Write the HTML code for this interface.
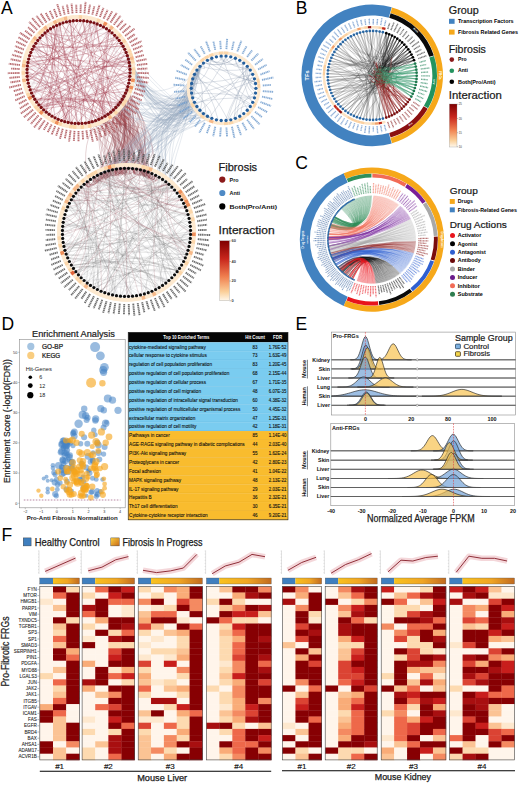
<!DOCTYPE html>
<html><head><meta charset="utf-8"><style>
html,body{margin:0;padding:0;background:#fff;overflow:hidden}
svg{display:block}
text{font-family:"Liberation Sans",sans-serif}
</style></head><body>
<svg width="520" height="785" viewBox="0 0 520 785" font-family="Liberation Sans, sans-serif">
<rect width="520" height="785" fill="#fff"/>
<path d="M119.27 103.47Q124.38 128.16 109.69 159.87T94.99 176.58M109.84 112.86Q145.79 134.82 128.17 160.07T110.56 170.31M127.58 87.59Q134.32 132.67 125.04 158.44T115.76 169.21M115.1 108.24Q136.1 135.49 141.14 160.94T146.18 171.4M105.09 116.11Q113.77 126.79 134.35 158.37T154.94 174.95M84.47 123.15Q136.34 125.22 112.25 160.63T88.16 181.03M125.14 93.84Q117.42 146.46 105.09 169.68T92.77 177.9M124.12 95.9Q118.07 124.34 122.69 153.82T127.3 168.3M109.25 113.31Q138.11 133.24 113.65 164.26T89.18 180.28M102.18 117.73Q119.67 141.99 117.48 163.14T115.29 169.29M113.8 109.49Q134.82 117.59 120.22 152.2T105.61 171.8M122.13 99.36Q95.77 128.11 111.25 155.7T126.73 168.3M99.4 119.07Q135.96 130.44 120.35 158.77T104.74 172.11M115.38 107.95Q138.71 139.51 139.81 162.23T140.92 169.94M127.55 87.7Q129.91 119.31 131.99 151.53T134.06 168.75M90.71 122.03Q120.76 119.62 113.7 153.03T106.65 171.45M107.6 114.49Q148.62 112.71 133.06 148.32T117.51 168.93M112.84 110.38Q151.09 136.21 142.42 159.96T133.75 168.71M104.02 116.73Q133.72 124.37 145.9 158T158.08 176.62M116.77 106.46Q145.63 132.42 139.86 158.08T134.1 168.75M124.48 95.19Q153.5 136.57 123.11 164.75T92.72 177.92M125.53 92.99Q102.91 142.54 102.35 165.39T101.8 173.25M126.69 90.15Q96.42 125.3 106.69 154.66T116.96 169.01M94.12 121.08Q125.06 140.18 136.99 163.76T148.93 172.35M117.89 105.18Q136.83 129.65 143.62 158.79T150.4 172.92M124.25 95.65Q129.93 141.31 115.3 165.02T100.67 173.73M107.12 114.82Q144.67 131.24 123.78 159.52T102.9 172.8M117.46 105.68Q151.45 127 138.77 155.15T126.1 168.3M110.85 112.07Q125.62 128.32 127.86 155.86T130.11 168.4M89.24 122.37Q148.17 119.59 145.41 152.48T142.66 170.37M116.49 106.77Q146.06 138.73 129.58 161.72T113.09 169.72M127.09 89.07Q130.44 136.18 109.96 165.63T89.47 180.08M118.63 104.27Q137.16 131.01 112.85 163.38T88.53 180.75M126.22 91.38Q160.17 133.92 135.28 159.64T110.4 170.36M105.8 115.67Q127.79 139.31 111.31 165.49T94.84 176.67M117.67 105.44Q157.4 107.92 125.25 150.3T93.1 177.69M113.21 110.04Q134.37 133.15 127.01 158.41T119.65 168.67M118.53 104.4Q132.51 126.3 117.78 157.02T103.04 172.75M127.85 86.73Q119.13 130.1 137.15 160.09T155.17 175.07M109.48 113.14Q84.35 126.62 85.65 161.79T86.94 181.96M91.45 121.84Q126.93 139.58 131.58 161.81T136.23 169.04M124.51 95.13Q100.78 127.82 121.41 156.52T142.05 170.21M119.04 103.76Q145.47 106.85 122.75 147.94T100.03 174.02M92.1 121.67Q138.93 117.57 141.78 151.74T144.63 170.92M122.7 98.43Q125.61 132.72 123.95 158.08T122.29 168.44M127.76 87.02Q126.58 144.8 115.35 166.07T104.11 172.34M85.71 122.99Q171.93 120.68 144.37 152.36T116.81 169.04M85.8 122.98Q130.12 137.35 120.3 161.34T110.48 170.33M123.64 96.79Q103.56 117.41 101.14 153.53T98.71 174.64M92.84 121.46Q111.57 117.77 115.44 150.74T119.31 168.7M126.6 90.4Q151.57 122.56 142.52 153.12T133.47 168.68M98.2 119.58Q140.26 145.3 129.73 164.51T119.2 168.72M118.93 103.9Q143.81 129.4 144.02 157.6T144.23 170.8M116.11 107.19Q126.46 125.57 140.67 157.75T154.88 174.92M125.59 92.86Q151.97 121.82 123.49 156.69T95.01 176.57M125.09 93.95Q151.24 129.37 148.7 157.88T146.15 171.39M118.22 104.78Q129.84 132.12 127.28 157.72T124.72 168.32M84.81 123.11Q91.25 127.52 111.94 155.55T132.62 168.59M114.68 108.65Q133.07 125.5 141.28 156.53T149.49 172.57M121.87 99.77Q129.26 142.94 117.19 164.96T105.11 171.97M121.62 100.17Q151.86 145.49 133.25 164.95T114.63 169.41M118.09 104.94Q97.98 121.25 107.82 152.58T117.66 168.91M115.27 108.06Q108.29 130.89 130.55 159.92T152.82 173.95M110.46 112.39Q118.54 133.1 102.48 165.24T86.43 182.37M128.18 85.57Q136.5 140 140.3 162.88T144.11 170.77M99.64 118.96Q119.11 140.66 122.22 161.99T125.33 168.31M108.86 113.6Q144.12 138.13 143.55 161.79T142.98 170.46M121.99 99.59Q130.66 120.39 117.29 153.9T103.93 172.4M108.54 113.83Q142.76 125.91 141.95 155.45T141.14 169.99M105.88 115.62Q103.49 129.94 112.42 156.73T121.35 168.51M113.84 109.46Q90.24 133.95 106.88 158.66T123.51 168.37M101.12 118.27Q139.6 128.52 144.72 158.11T149.84 172.7M108.65 113.75Q132.66 126.87 143.64 158.34T154.63 174.8M125.72 92.55Q138.66 133.94 127.54 159.02T116.42 169.1M126.86 89.71Q135.22 112.24 134.69 148T134.16 168.76M124.86 94.42Q123.25 126.77 130.51 155.54T137.77 169.3M90.26 122.14Q135.5 152.81 145.91 171.74T156.32 175.66M116.24 107.04Q158.18 129.92 139.05 156.78T119.92 168.64M124.67 94.82Q113.51 130.2 114.55 157.22T115.6 169.23M123.67 96.73Q127.45 129.24 117.23 157.79T107.01 171.34M108.93 113.55Q142.27 131.92 129.28 158.02T116.29 169.12M105.27 115.99Q170.67 141.26 146.27 162.36T121.87 168.47M95.96 120.45Q137.94 135.33 147.28 163.07T156.61 175.81M127.54 87.72Q126.92 135.7 134.75 160.53T142.58 170.35M115.2 108.13Q133.2 124.68 142.78 156.72T152.37 173.75M125 94.14Q105.56 125 129.24 157T152.92 174M126.49 90.68Q121.62 122.23 105.24 158.88T88.85 180.52M126.87 89.67Q108.89 118.89 131.59 154.26T154.28 174.63M126.62 90.34Q157.14 138.29 152.75 162.72T148.36 172.14M113.78 109.52Q93.44 124.27 101 155.07T108.55 170.86M121.32 100.61Q116.36 129.88 104.94 161.16T93.53 177.43M126.02 91.84Q138.21 132.88 116.96 162.03T95.72 176.17M119.72 102.88Q128.79 123.57 117.4 155.12T106 171.67M111.6 111.45Q126.25 132.41 111.55 161.49T96.86 175.57M121.92 99.69Q125.85 119.67 106.04 158.6T86.23 182.53M123.86 96.39Q134.95 129.3 126.95 156.52T118.95 168.75M94.14 121.07Q97.66 131.54 106.65 157.88T115.65 169.23M116.46 106.8Q110.65 107.34 116.04 145.42T121.44 168.5M118.53 104.4Q121.89 118.68 134.24 152.6T146.58 171.53M115.96 107.34Q135.95 132.59 122.57 159.14T109.19 170.68M126.91 89.57Q127.66 136.37 133.67 160.52T139.68 169.67M126.61 90.38Q144.38 121.25 145.82 154T147.25 171.75M120.82 101.34Q123.26 140.62 112.33 164.52T101.41 173.42M124.78 94.6Q124.6 153.92 120.65 168.99T116.7 169.05M84.7 123.13Q129.45 154.36 127.02 168.84T124.59 168.33M119.81 102.75Q143.69 131.06 126.78 158.28T109.87 170.5M112.81 110.41Q133.75 141.17 127.44 162.35T121.13 168.53M128.16 85.63Q141.66 135.86 122.33 161.81T103 172.76M127.5 87.84Q124.11 137.18 105.38 167.18T86.66 182.18M107.31 114.69Q128.08 117.82 125.64 150.6T123.19 168.39M100.17 118.72Q117.07 136.12 133.55 161.95T150.03 172.78M83.94 123.21Q124.29 118.25 109.59 154.94T94.9 176.63M127.46 87.97Q145.5 123.06 146.15 154.83T146.81 171.6M99.14 119.18Q140.49 139.42 142.79 162.73T145.09 171.05M111.39 111.63Q138.09 115.14 142.43 150.87T146.78 171.59M107.38 114.64Q117.93 118.37 134.48 153.28T151.03 173.18M122.6 98.6Q138.14 137.32 112.67 167.04T87.2 181.76M126.13 91.58Q107.01 126.45 126.93 156.53T146.85 171.62M105.15 116.07Q126.7 131.05 130.86 157.46T135.03 168.87M95.4 120.65Q108.2 130.79 124.22 157.79T140.24 169.79" stroke="#8e3e46" stroke-width="0.45" fill="none" opacity="0.5"/><path d="M191.87 82.24C183.41 127.22 174.95 127.22 100.38 173.86M196.97 106.58C178.05 108.59 159.12 108.59 113 110.23M191.63 92.9C171.59 128.76 151.55 128.76 123.01 97.9M191.47 84.95C174.48 113.61 157.49 113.61 115.72 169.21M193.34 77C174.5 135.08 155.66 135.08 99.26 174.38M196.85 106.4C174.81 99.04 152.77 99.04 129.17 62.81M191.45 91.45C170.26 121.46 149.07 121.46 168.97 184.39M199.63 109.95C191.44 113.5 183.24 113.5 134 168.74M195.43 72.5C183.07 114.96 170.71 114.96 111.85 170M200.26 65.97C181.75 135.92 163.23 135.92 139.75 169.68M200.59 65.63C186.52 137.19 172.46 137.19 168.51 183.99M192.53 79.46C177.51 147.69 162.49 147.69 96.39 175.81M209.74 117.47C179.4 118.8 149.07 118.8 105.9 171.7M194.43 102.18C173.35 142.54 152.27 142.54 158.61 176.92M196.06 71.42C186.35 139.9 176.65 139.9 116.99 106.21M196.11 105.26C174.58 128.06 153.06 128.06 128.23 85.4M193.98 101.19C173.38 122.91 152.78 122.91 102.63 172.91M195.91 71.67C175.36 149.97 154.8 149.97 116.76 169.04M191.49 91.81C177.53 130.58 163.57 130.58 117.86 105.22M195.18 72.95C170.06 95.31 144.95 95.31 128.93 82.43M192.84 78.45C184.15 124.95 175.46 124.95 158.76 177.01M191.71 83.18C175.5 122.32 159.29 122.32 125.48 50.91M191.86 94.3C173.6 127.79 155.33 127.79 112.97 110.26M197.17 106.86C176.23 108.16 155.29 108.16 129.98 70.67M201.06 111.44C182.33 126.12 163.6 126.12 129.59 78.5M198.75 108.93C193.35 91.86 187.95 91.86 105.81 171.73M199.93 110.28C183.82 124.91 167.7 124.91 114.41 169.45M197.24 106.96C169.15 105.61 141.07 105.61 130 72.08M192.78 97.96C171.58 115.94 150.39 115.94 99.37 174.32M196.54 105.93C180.81 116.54 165.08 116.54 148.81 172.31M196.89 70.13C179.29 128.88 161.69 128.88 128.72 168.34M192.22 95.96C185.42 110.24 178.63 110.24 121.62 43.84M208.08 116.63C181.37 89.19 154.65 89.19 145.21 171.09M209.94 117.57C176.09 138.17 142.24 138.17 119.24 103.5M201.49 64.75C180.77 124.73 160.05 124.73 139.6 169.65M192.18 80.79C183.56 109.95 174.93 109.95 123.1 97.76M192.05 95.24C174.68 116.74 157.31 116.74 128.19 58.47M199.15 67.2C176.98 108.56 154.81 108.56 115.53 169.25M191.63 83.71C175.04 111.53 158.45 111.53 139.78 169.69M191.32 87.15C172.95 124.44 154.57 124.44 121.14 43.12M195.72 104.61C165.61 126.65 135.5 126.65 117.88 105.19M191.82 94.1C176.27 128.5 160.72 128.5 125.21 93.68M195.53 104.28C183.58 120.24 171.64 120.24 130 72.63M197.28 107.02C172.99 90.32 148.7 90.32 97.13 175.43M194.6 102.52C170.65 128.15 146.7 128.15 162.13 179.11M193.25 77.25C173.24 117.71 153.23 117.71 129.43 64.38M195.43 72.49C178.14 127.83 160.85 127.83 129.23 63.12M200.55 65.67C177.06 118.24 153.56 118.24 130.26 168.41M191.95 81.86C178.64 115.51 165.34 115.51 112.12 169.93M201.58 64.67C181.82 121.55 162.05 121.55 128.14 168.32M198.25 68.29C185.17 102.81 172.09 102.81 115.43 107.89M194.86 103.03C182.05 148.16 169.24 148.16 122.04 44.49M191.94 81.91C172.47 127.36 153 127.36 108.34 170.93M209.78 117.49C184.02 130.8 158.27 130.8 125.37 50.66M201.12 65.11C181.8 130.68 162.48 130.68 120.75 101.44M192.44 96.81C181.61 122.83 170.79 122.83 170.67 185.95M199.9 110.25C172.94 140.48 145.98 140.48 129.7 168.38M195.18 72.96C177.74 113.99 160.3 113.99 99.42 174.3M199.15 67.19C179.21 141.2 159.27 141.2 129.7 66.46M196.72 106.21C185.05 112.9 173.37 112.9 155.93 175.46M195.24 103.76C177.55 119.2 159.86 119.2 116.23 107.06M191.61 83.86C176.84 116.92 162.08 116.92 135.44 168.93M200.77 65.45C185.12 114.05 169.47 114.05 131.41 168.49M191.63 92.94C178.68 114.11 165.72 114.11 124.07 96M195.52 72.34C178.74 99.06 161.95 99.06 121.54 168.49M193.95 101.12C177.38 112.44 160.82 112.44 158.77 177.02M197.66 107.54C180.03 119.45 162.41 119.45 129.58 65.45M201.87 64.4C191.98 90.21 182.08 90.21 101.17 173.52M204.57 114.4C174.42 118.21 144.27 118.21 113.98 169.53M192.72 97.78C170.91 103.62 149.1 103.62 119.63 102.99M191.94 81.91C182.91 136.52 173.88 136.52 143.47 170.59M193.67 100.46C176.59 108.69 159.5 108.69 114.96 169.35M201.72 112.06C185.77 105.76 169.81 105.76 128.39 168.33M202.47 63.87C177.61 117.53 152.75 117.53 126.73 90.06M202.39 63.94C185.74 127.53 169.08 127.53 119.93 102.6M198.91 67.47C183.49 120.93 168.07 120.93 110.09 170.44M201.53 64.72C170.77 101.87 140.01 101.87 167.09 182.79M192.17 95.76C175.54 142.23 158.92 142.23 124.78 49.42M191.36 86.3C173.13 111.29 154.89 111.29 105.96 171.68M199.42 109.72C179.5 136.93 159.58 136.93 127.56 56.34M209.28 117.25C181.13 136.65 152.97 136.65 120.89 168.55M199.45 109.75C181.49 101.07 163.54 101.07 102.6 172.92M193.16 99.1C169.79 111.81 146.42 111.81 107.86 171.07M192.4 79.96C172.76 124.14 153.11 124.14 172.81 188.08M195.37 104C173.39 112.66 151.41 112.66 166.96 182.68M202.67 63.7C179.16 125.01 155.66 125.01 127.57 56.35M209.61 117.41C189.08 109.48 168.56 109.48 130 71.58M197.64 69.08C175.93 120.03 154.22 120.03 142.14 170.24M191.67 83.43C177.66 114.75 163.64 114.75 129.91 68.88M191.54 92.23C178.25 127.07 164.97 127.07 171.06 186.32M203.93 113.92C172.94 119.51 141.96 119.51 127.42 55.89M203.03 113.2C194.27 104.65 185.52 104.65 98.67 174.66M199.41 66.89C171.45 137.64 143.49 137.64 120.64 101.6M201.39 111.76C181.49 108.33 161.58 108.33 165.71 181.69M195.73 71.98C179.3 126.96 162.87 126.96 139.2 169.57M193.42 99.82C179.41 125.37 165.39 125.37 117.21 105.97M207.58 116.35C176.01 109 144.44 109 165.13 181.25M203.48 113.56C176.61 107.64 149.75 107.64 129.37 63.97M192.66 97.58C171.76 110.68 150.86 110.68 129.93 74.67M192.34 96.44C183.04 120.85 173.74 120.85 114.07 169.52M193.83 75.78C177.95 102.77 162.07 102.77 135.26 168.9M204.02 113.99C185.68 128.73 167.34 128.73 132.48 168.58M191.5 91.86C182.63 123.05 173.76 123.05 157.26 176.16M194.19 74.94C175.43 117.66 156.67 117.66 126.76 168.3M200.5 65.72C186.72 138.85 172.93 138.85 124.29 95.56M195.27 72.78C182.54 155.16 169.8 155.16 173.02 188.3M198.98 67.39C183.97 139.25 168.96 139.25 123.35 46.69M194.24 101.77C177.24 109.77 160.23 109.77 128.94 61.62M195.29 72.74C181.31 130.97 167.32 130.97 127.67 56.69M197.07 106.72C174.15 117.54 151.24 117.54 109.44 170.61M201.35 111.71C187.62 109.78 173.9 109.78 126.69 53.83M194.39 74.52C181.81 129.39 169.22 129.39 129.85 68.03M197.27 69.59C172.44 111.73 147.61 111.73 124.75 49.34M202.49 63.85C177.81 107.79 153.14 107.79 128.78 60.86M202.37 63.96C177.01 111.82 151.64 111.82 129.95 74.33M200.63 111.01C180.25 113.6 159.87 113.6 128.59 60.03M191.66 83.52C182.43 116.14 173.21 116.14 129.44 64.45M209.84 117.52C187.7 119.68 165.56 119.68 129.98 73.56M191.48 91.7C177.85 113.45 164.22 113.45 150.77 173.07M208.65 116.93C189.01 118.22 169.36 118.22 124.9 168.32M198.57 108.72C173.52 108.64 148.46 108.64 148.33 172.13M191.83 94.12C183.69 142.63 175.56 142.63 106.63 171.46M204.61 114.43C175.76 96.36 146.92 96.36 129.99 71.25M197.02 106.65C185.69 119.45 174.35 119.45 129.79 67.31M191.72 83.11C164.82 129.4 137.93 129.4 128.5 59.65M198.46 68.02C185.16 122.71 171.85 122.71 114.28 169.47M206.62 115.78C183.45 115.83 160.28 115.83 114.93 108.4M202.26 112.54C183.26 136.21 164.27 136.21 149.81 172.69M195.22 72.87C179.57 128.72 163.92 128.72 98.28 174.85M197.9 68.74C180.58 96.28 163.26 96.28 165.57 181.58" stroke="#97a8bf" stroke-width="0.42" fill="none" opacity="0.55"/><path d="M27.02 73.56Q63.38 91.44 89.65 122.28M27.07 74.67Q64.89 91.46 93.65 121.22M129.41 64.25Q109.46 53.85 110.14 31.36M129.68 66.28Q102.36 51.12 90.94 22.02M122.74 98.36Q75.78 81.93 27 72.11M30.03 89.41Q44.37 67.64 35.97 42.96M28.49 84.28Q78.96 78.54 129.74 77.16M61.42 120.59Q79.65 107.99 98.64 119.4M28.5 59.68Q56.94 86.49 71.01 122.95M129.76 76.94Q82.69 85.98 38.41 104.33M67.31 21.73Q93.2 49.17 128.9 61.4M43.26 34.45Q67.13 38.69 83.42 20.74M129.89 75.35Q117.01 71.57 129.8 67.51M27.04 73.98Q52.63 54.58 60.96 23.58M27.02 73.25Q76.3 81.44 124.11 95.92M43.28 34.42Q82.3 67.06 123.85 96.4M129.88 68.5Q87.17 54.54 50.24 28.94M40.8 107.09Q46.28 91.95 30.29 90.1M34.13 98.15Q59.32 62.66 71.73 20.95M88.31 122.56Q65.85 80.64 34.97 44.48M29.76 88.65Q45.15 66.16 38.31 39.79M98.29 119.54Q66.86 92.9 27.65 80.18M56.47 118.55Q88.29 96.31 126.65 90.28M128.54 59.81Q83.81 81.29 42.63 108.96M102.68 26.53Q77.3 38.59 51.12 28.38M119.11 40.33Q96.98 41.09 87.16 21.23M110.49 31.64Q82.16 39.45 56.27 25.55M121.12 100.91Q109.5 70.7 118.56 39.63M87.75 21.34Q86.96 34.35 91.82 22.25M30.31 90.17Q46.03 91.69 40.11 106.33M29.83 88.83Q41 79.91 27.18 76.27M99.18 24.83Q75.86 70.59 50.78 115.4M117.47 105.67Q75.52 76.67 31.57 50.79M31.84 50.2Q48.81 48.85 45.99 32.06M99.23 24.86Q72.02 41.3 40.47 37.27M52.12 27.77Q61.99 37.27 60.85 23.62M110.6 31.73Q109.11 51.6 128.02 57.86M111.82 32.73Q95.14 38.41 89.55 21.7M36.41 42.33Q44.85 53.54 30.86 52.44M40.05 106.26Q46.88 76.07 32.62 48.6M40.62 106.89Q83.08 89.58 128.59 83.98M108.74 30.31Q100.98 40.59 108.21 29.93M27.06 69.62Q77.75 65.72 127.95 57.63M125.22 93.68Q104.92 97.27 102.24 117.7M85.25 20.94Q100.33 53.67 129.95 74.17M128.92 82.47Q78.54 80.05 28.19 82.99M116.48 106.79Q110.17 93.36 124.98 94.17M66.95 21.81Q73.72 72.49 77.29 123.49M37.1 41.37Q49.91 74.73 43.65 109.92M88.46 21.47Q92.28 69.55 105.29 115.98M98.52 119.45Q66.9 87.01 27.54 64.58M120.77 101.42Q75.82 88.46 29.08 86.47M66.36 122.05Q92.83 86.74 128.87 61.26M39.28 38.62Q74.23 43.23 106.34 28.67M31.88 50.13Q77.96 54.53 123.69 47.3M78.92 20.5Q97.1 46.96 127.68 56.71M27.15 68.06Q56.57 51.4 71.36 21M79.91 20.52Q80.14 71.98 81.47 123.41M81.25 123.43Q61.05 85.69 29.21 57.08M125.7 51.4Q96.86 83.58 80.25 123.47" stroke="#c9a8b8" stroke-width="0.45" fill="none" opacity="0.4"/><path d="M120.69 101.53Q77.55 73.51 33.66 46.67M129.89 75.42Q90.6 55.83 60.71 23.67M29.57 88.07Q61.08 96.33 79.05 123.5M111.31 32.3Q76.29 69.84 39.54 105.68M103.56 27.01Q69.51 51.43 28.45 59.85M41.42 107.74Q79.76 96.29 119.07 103.72M45.77 32.23Q76.27 41.8 105.04 27.87M48.55 30.11Q67.58 75.46 78.11 123.5M113.92 109.39Q78.9 71.63 44.2 33.59M129.73 66.69Q101.45 88.07 91.02 121.95M68.36 122.49Q56.32 89.66 27.02 70.55M121.15 43.14Q78.4 51.37 35.56 43.56M123.56 47.06Q101.68 80.21 97.82 119.74M115.16 35.83Q96.08 76.99 90.67 122.04M44.47 33.34Q84.74 56.68 129.85 68.1M71.35 123Q91.64 80.52 122.14 44.66M70.49 21.13Q57.24 56.16 27.46 78.86M109.2 30.65Q101.88 70.96 112.74 110.47M27.28 77.4Q67.43 90.95 98.98 119.25M127.08 54.92Q81.86 77.85 39.24 105.33M111.74 111.34Q94.39 68.04 89.4 21.67M109.03 113.48Q71.56 82.21 28.7 58.88M118.55 39.63Q81.67 75.09 47.27 112.95M107.52 114.54Q70.44 88.37 27.08 74.93M50.36 28.87Q76.26 73.25 100.42 118.6M126.02 91.86Q82.23 91.99 41.34 107.66M108.21 29.93Q98.17 73.08 103.43 117.06M41.04 107.34Q83.56 84.73 130 72.02M42.88 109.19Q75.67 101 106.27 115.37M32.58 95.31Q54.09 63.61 56.63 25.37M125.51 50.97Q80.12 74.9 36 101.08M27.81 62.93Q72.18 82.92 111.65 111.41M81.79 123.4Q76.74 72.2 70.32 21.15M90.73 21.97Q77.91 71.85 64.64 121.6M122.13 44.64Q76.03 58.47 28.02 61.78M59.72 24.05Q69.51 73.14 72.3 123.12M109.05 30.54Q81.13 73.62 55.25 117.95M33.21 47.48Q59.68 81.54 71.5 123.02M106 115.54Q82.45 70.12 61.96 23.23M128.39 59.22Q79.47 74.83 31.32 92.64M110.7 112.19Q71.61 84.99 27.16 67.89M119.1 103.69Q99.57 66.03 96.44 23.72M82.8 20.68Q89.12 69.69 103.71 116.91M103.16 117.21Q69.81 94.2 29.7 88.45M129.34 63.76Q78.29 70.03 27.07 74.76M59.52 24.12Q68.53 73.04 69.78 122.76M129.02 62Q79.11 62.51 29.67 55.63M115.89 36.58Q73.68 56.16 27.72 63.43M129.41 64.26Q92.66 51.15 66.91 21.82M119.56 103.08Q79.09 95.12 39.07 105.13M63.12 121.15Q86.09 76.6 114.95 35.62M33.97 46.13Q77.14 74.03 119.24 103.5M36.96 41.55Q81.98 63.07 129.69 77.63M101.56 118.05Q103.86 81.31 125.88 51.81M79.37 20.51Q60.56 56.73 27.81 81.08M100.87 118.39Q72.47 100.76 39.38 105.5M35.15 99.8Q77 94.04 117.68 105.43M96.57 23.77Q68.64 45.92 33.05 47.79M118.26 39.27Q76.64 51.15 33.58 46.81M40.27 106.5Q66.48 65.96 83.34 20.73M35.73 100.69Q81.64 82.33 130 72.01M129.73 66.72Q78.65 67.05 27.7 63.53M123.3 46.6Q82.91 48.49 45.96 32.09M33.61 97.25Q50.88 66.52 46.66 31.52M127.21 55.28Q78.68 72.5 30.29 90.12M68.6 122.54Q56.42 91.14 27.07 74.62M97.88 119.71Q73.02 75.45 43.88 33.87M61.04 120.45Q90.68 91.13 129.79 76.68M80.74 123.45Q85.96 73.22 96.99 23.93M89.07 122.4Q96.91 78.73 119.08 40.29M65.84 121.92Q59.87 77.9 39.42 38.46M87.68 21.33Q70.02 68.07 45.75 111.75M31.55 93.17Q53.86 62.77 57.01 25.2M123.56 96.94Q92.6 62.56 72.6 20.84M122.22 99.21Q80.08 69.83 39.17 38.75M70.27 122.84Q57.15 87.91 27.43 65.36M128.44 59.42Q103.82 84.5 98.9 119.29M32.87 48.12Q79.94 68.34 128.14 85.71M33.02 47.83Q72.67 78.55 107.79 114.36M77.29 123.49Q96.43 93.05 129.52 79M76.42 123.46Q74.85 72.21 70.44 21.13M127.56 87.67Q86.58 93.51 51.88 116.09M91.32 22.12Q64.85 57.21 27.76 80.8M44.59 33.24Q61.07 75.84 64.01 121.42M94.32 22.99Q101.81 60.13 127.44 88.04M54.1 26.65Q58.02 70.06 46 111.95M50.86 28.55Q56.57 70.51 45.24 111.32M31.77 93.64Q79.7 75.46 128.58 59.98M33.85 97.66Q67.27 99.13 91.97 121.71M27.16 67.9Q71.04 55.62 109.13 30.6M35.78 100.75Q76.72 94.95 116.29 106.99M58.91 119.63Q89.96 90.08 129.93 74.59M38.46 104.39Q56.6 66.7 57.71 24.88M95.83 23.5Q77.11 71.44 57.3 118.94M30.66 52.94Q52.83 81.64 55.03 117.84M53.3 27.09Q75.55 73.33 95.5 120.61M83.07 20.7Q92.22 67.6 112.03 111.09M50.37 115.14Q61.3 70.39 58.86 24.39M72.3 20.87Q79.12 71.91 86.41 122.89M105.43 115.9Q99.28 72.94 109.3 30.73" stroke="#9c3040" stroke-width="0.5" fill="none" opacity="0.55"/><path d="M78.5 15.1A56.9 56.9 0 1 1 78.49 15.1L78.49 18.7A53.3 53.3 0 1 0 78.5 18.7Z" fill="#fde9cf"/><rect x="-1.75" y="-1.8" width="3.5" height="3.6" fill="#fbd6aa" transform="translate(80.36 16.93) rotate(1.94)"/><rect x="-1.75" y="-1.8" width="3.5" height="3.6" fill="#fde9cf" transform="translate(84.07 17.18) rotate(5.81)"/><rect x="-1.75" y="-1.8" width="3.5" height="3.6" fill="#fde9cf" transform="translate(87.76 17.68) rotate(9.68)"/><rect x="-1.75" y="-1.8" width="3.5" height="3.6" fill="#fde9cf" transform="translate(91.41 18.43) rotate(13.55)"/><rect x="-1.75" y="-1.8" width="3.5" height="3.6" fill="#fde9cf" transform="translate(94.99 19.43) rotate(17.42)"/><rect x="-1.75" y="-1.8" width="3.5" height="3.6" fill="#fbd6aa" transform="translate(98.51 20.66) rotate(21.29)"/><rect x="-1.75" y="-1.8" width="3.5" height="3.6" fill="#fde9cf" transform="translate(101.93 22.13) rotate(25.16)"/><rect x="-1.75" y="-1.8" width="3.5" height="3.6" fill="#ef8f5a" transform="translate(105.24 23.82) rotate(29.03)"/><rect x="-1.75" y="-1.8" width="3.5" height="3.6" fill="#fde9cf" transform="translate(108.43 25.74) rotate(32.9)"/><rect x="-1.75" y="-1.8" width="3.5" height="3.6" fill="#f6b98a" transform="translate(111.49 27.86) rotate(36.77)"/><rect x="-1.75" y="-1.8" width="3.5" height="3.6" fill="#fde9cf" transform="translate(114.39 30.19) rotate(40.65)"/><rect x="-1.75" y="-1.8" width="3.5" height="3.6" fill="#fde9cf" transform="translate(117.13 32.71) rotate(44.52)"/><rect x="-1.75" y="-1.8" width="3.5" height="3.6" fill="#fbd6aa" transform="translate(119.7 35.41) rotate(48.39)"/><rect x="-1.75" y="-1.8" width="3.5" height="3.6" fill="#fde9cf" transform="translate(122.07 38.27) rotate(52.26)"/><rect x="-1.75" y="-1.8" width="3.5" height="3.6" fill="#fbd6aa" transform="translate(124.25 41.29) rotate(56.13)"/><rect x="-1.75" y="-1.8" width="3.5" height="3.6" fill="#fde9cf" transform="translate(126.22 44.45) rotate(60)"/><rect x="-1.75" y="-1.8" width="3.5" height="3.6" fill="#fde9cf" transform="translate(127.97 47.73) rotate(63.87)"/><rect x="-1.75" y="-1.8" width="3.5" height="3.6" fill="#fbd6aa" transform="translate(129.49 51.13) rotate(67.74)"/><rect x="-1.75" y="-1.8" width="3.5" height="3.6" fill="#fbd6aa" transform="translate(130.79 54.62) rotate(71.61)"/><rect x="-1.75" y="-1.8" width="3.5" height="3.6" fill="#f6b98a" transform="translate(131.84 58.19) rotate(75.48)"/><rect x="-1.75" y="-1.8" width="3.5" height="3.6" fill="#fbd6aa" transform="translate(132.65 61.82) rotate(79.35)"/><rect x="-1.75" y="-1.8" width="3.5" height="3.6" fill="#fde9cf" transform="translate(133.22 65.5) rotate(83.23)"/><rect x="-1.75" y="-1.8" width="3.5" height="3.6" fill="#fbd6aa" transform="translate(133.53 69.21) rotate(87.1)"/><rect x="-1.75" y="-1.8" width="3.5" height="3.6" fill="#fbd6aa" transform="translate(133.59 72.93) rotate(90.97)"/><rect x="-1.75" y="-1.8" width="3.5" height="3.6" fill="#fde9cf" transform="translate(133.4 76.65) rotate(94.84)"/><rect x="-1.75" y="-1.8" width="3.5" height="3.6" fill="#ef8f5a" transform="translate(132.96 80.34) rotate(98.71)"/><rect x="-1.75" y="-1.8" width="3.5" height="3.6" fill="#fde9cf" transform="translate(132.28 84) rotate(102.58)"/><rect x="-1.75" y="-1.8" width="3.5" height="3.6" fill="#ef8f5a" transform="translate(131.34 87.6) rotate(106.45)"/><rect x="-1.75" y="-1.8" width="3.5" height="3.6" fill="#fbd6aa" transform="translate(130.17 91.14) rotate(110.32)"/><rect x="-1.75" y="-1.8" width="3.5" height="3.6" fill="#fde9cf" transform="translate(128.76 94.58) rotate(114.19)"/><rect x="-1.75" y="-1.8" width="3.5" height="3.6" fill="#fde9cf" transform="translate(127.12 97.92) rotate(118.06)"/><rect x="-1.75" y="-1.8" width="3.5" height="3.6" fill="#fbd6aa" transform="translate(125.26 101.15) rotate(121.94)"/><rect x="-1.75" y="-1.8" width="3.5" height="3.6" fill="#fbd6aa" transform="translate(123.19 104.24) rotate(125.81)"/><rect x="-1.75" y="-1.8" width="3.5" height="3.6" fill="#fde9cf" transform="translate(120.91 107.18) rotate(129.68)"/><rect x="-1.75" y="-1.8" width="3.5" height="3.6" fill="#fde9cf" transform="translate(118.44 109.96) rotate(133.55)"/><rect x="-1.75" y="-1.8" width="3.5" height="3.6" fill="#fbd6aa" transform="translate(115.78 112.57) rotate(137.42)"/><rect x="-1.75" y="-1.8" width="3.5" height="3.6" fill="#fde9cf" transform="translate(112.96 115) rotate(141.29)"/><rect x="-1.75" y="-1.8" width="3.5" height="3.6" fill="#f6b98a" transform="translate(109.98 117.22) rotate(145.16)"/><rect x="-1.75" y="-1.8" width="3.5" height="3.6" fill="#fde9cf" transform="translate(106.85 119.25) rotate(149.03)"/><rect x="-1.75" y="-1.8" width="3.5" height="3.6" fill="#fde9cf" transform="translate(103.6 121.05) rotate(152.9)"/><rect x="-1.75" y="-1.8" width="3.5" height="3.6" fill="#fde9cf" transform="translate(100.23 122.63) rotate(156.77)"/><rect x="-1.75" y="-1.8" width="3.5" height="3.6" fill="#fde9cf" transform="translate(96.76 123.99) rotate(160.65)"/><rect x="-1.75" y="-1.8" width="3.5" height="3.6" fill="#fde9cf" transform="translate(93.21 125.1) rotate(164.52)"/><rect x="-1.75" y="-1.8" width="3.5" height="3.6" fill="#fbd6aa" transform="translate(89.59 125.97) rotate(168.39)"/><rect x="-1.75" y="-1.8" width="3.5" height="3.6" fill="#fde9cf" transform="translate(85.92 126.6) rotate(172.26)"/><rect x="-1.75" y="-1.8" width="3.5" height="3.6" fill="#fbd6aa" transform="translate(82.22 126.97) rotate(176.13)"/><rect x="-1.75" y="-1.8" width="3.5" height="3.6" fill="#fde9cf" transform="translate(78.5 127.1) rotate(180)"/><rect x="-1.75" y="-1.8" width="3.5" height="3.6" fill="#fbd6aa" transform="translate(74.78 126.97) rotate(183.87)"/><rect x="-1.75" y="-1.8" width="3.5" height="3.6" fill="#fbd6aa" transform="translate(71.08 126.6) rotate(187.74)"/><rect x="-1.75" y="-1.8" width="3.5" height="3.6" fill="#fde9cf" transform="translate(67.41 125.97) rotate(191.61)"/><rect x="-1.75" y="-1.8" width="3.5" height="3.6" fill="#fde9cf" transform="translate(63.79 125.1) rotate(195.48)"/><rect x="-1.75" y="-1.8" width="3.5" height="3.6" fill="#fbd6aa" transform="translate(60.24 123.99) rotate(199.35)"/><rect x="-1.75" y="-1.8" width="3.5" height="3.6" fill="#ef8f5a" transform="translate(56.77 122.63) rotate(203.23)"/><rect x="-1.75" y="-1.8" width="3.5" height="3.6" fill="#fbd6aa" transform="translate(53.4 121.05) rotate(207.1)"/><rect x="-1.75" y="-1.8" width="3.5" height="3.6" fill="#fde9cf" transform="translate(50.15 119.25) rotate(210.97)"/><rect x="-1.75" y="-1.8" width="3.5" height="3.6" fill="#fde9cf" transform="translate(47.02 117.22) rotate(214.84)"/><rect x="-1.75" y="-1.8" width="3.5" height="3.6" fill="#fde9cf" transform="translate(44.04 115) rotate(218.71)"/><rect x="-1.75" y="-1.8" width="3.5" height="3.6" fill="#ef8f5a" transform="translate(41.22 112.57) rotate(222.58)"/><rect x="-1.75" y="-1.8" width="3.5" height="3.6" fill="#fbd6aa" transform="translate(38.56 109.96) rotate(226.45)"/><rect x="-1.75" y="-1.8" width="3.5" height="3.6" fill="#fbd6aa" transform="translate(36.09 107.18) rotate(230.32)"/><rect x="-1.75" y="-1.8" width="3.5" height="3.6" fill="#fde9cf" transform="translate(33.81 104.24) rotate(234.19)"/><rect x="-1.75" y="-1.8" width="3.5" height="3.6" fill="#fde9cf" transform="translate(31.74 101.15) rotate(238.06)"/><rect x="-1.75" y="-1.8" width="3.5" height="3.6" fill="#ef8f5a" transform="translate(29.88 97.92) rotate(241.94)"/><rect x="-1.75" y="-1.8" width="3.5" height="3.6" fill="#fbd6aa" transform="translate(28.24 94.58) rotate(245.81)"/><rect x="-1.75" y="-1.8" width="3.5" height="3.6" fill="#fde9cf" transform="translate(26.83 91.14) rotate(249.68)"/><rect x="-1.75" y="-1.8" width="3.5" height="3.6" fill="#fde9cf" transform="translate(25.66 87.6) rotate(253.55)"/><rect x="-1.75" y="-1.8" width="3.5" height="3.6" fill="#fde9cf" transform="translate(24.72 84) rotate(257.42)"/><rect x="-1.75" y="-1.8" width="3.5" height="3.6" fill="#f6b98a" transform="translate(24.04 80.34) rotate(261.29)"/><rect x="-1.75" y="-1.8" width="3.5" height="3.6" fill="#fde9cf" transform="translate(23.6 76.65) rotate(265.16)"/><rect x="-1.75" y="-1.8" width="3.5" height="3.6" fill="#fbd6aa" transform="translate(23.41 72.93) rotate(269.03)"/><rect x="-1.75" y="-1.8" width="3.5" height="3.6" fill="#fde9cf" transform="translate(23.47 69.21) rotate(272.9)"/><rect x="-1.75" y="-1.8" width="3.5" height="3.6" fill="#f6b98a" transform="translate(23.78 65.5) rotate(276.77)"/><rect x="-1.75" y="-1.8" width="3.5" height="3.6" fill="#fbd6aa" transform="translate(24.35 61.82) rotate(280.65)"/><rect x="-1.75" y="-1.8" width="3.5" height="3.6" fill="#fde9cf" transform="translate(25.16 58.19) rotate(284.52)"/><rect x="-1.75" y="-1.8" width="3.5" height="3.6" fill="#fde9cf" transform="translate(26.21 54.62) rotate(288.39)"/><rect x="-1.75" y="-1.8" width="3.5" height="3.6" fill="#fde9cf" transform="translate(27.51 51.13) rotate(292.26)"/><rect x="-1.75" y="-1.8" width="3.5" height="3.6" fill="#fde9cf" transform="translate(29.03 47.73) rotate(296.13)"/><rect x="-1.75" y="-1.8" width="3.5" height="3.6" fill="#fde9cf" transform="translate(30.78 44.45) rotate(300)"/><rect x="-1.75" y="-1.8" width="3.5" height="3.6" fill="#fbd6aa" transform="translate(32.75 41.29) rotate(303.87)"/><rect x="-1.75" y="-1.8" width="3.5" height="3.6" fill="#f6b98a" transform="translate(34.93 38.27) rotate(307.74)"/><rect x="-1.75" y="-1.8" width="3.5" height="3.6" fill="#fde9cf" transform="translate(37.3 35.41) rotate(311.61)"/><rect x="-1.75" y="-1.8" width="3.5" height="3.6" fill="#fbd6aa" transform="translate(39.87 32.71) rotate(315.48)"/><rect x="-1.75" y="-1.8" width="3.5" height="3.6" fill="#fbd6aa" transform="translate(42.61 30.19) rotate(319.35)"/><rect x="-1.75" y="-1.8" width="3.5" height="3.6" fill="#f6b98a" transform="translate(45.51 27.86) rotate(323.23)"/><rect x="-1.75" y="-1.8" width="3.5" height="3.6" fill="#fde9cf" transform="translate(48.57 25.74) rotate(327.1)"/><rect x="-1.75" y="-1.8" width="3.5" height="3.6" fill="#fde9cf" transform="translate(51.76 23.82) rotate(330.97)"/><rect x="-1.75" y="-1.8" width="3.5" height="3.6" fill="#f6b98a" transform="translate(55.07 22.13) rotate(334.84)"/><rect x="-1.75" y="-1.8" width="3.5" height="3.6" fill="#fbd6aa" transform="translate(58.49 20.66) rotate(338.71)"/><rect x="-1.75" y="-1.8" width="3.5" height="3.6" fill="#fbd6aa" transform="translate(62.01 19.43) rotate(342.58)"/><rect x="-1.75" y="-1.8" width="3.5" height="3.6" fill="#f6b98a" transform="translate(65.59 18.43) rotate(346.45)"/><rect x="-1.75" y="-1.8" width="3.5" height="3.6" fill="#fde9cf" transform="translate(69.24 17.68) rotate(350.32)"/><rect x="-1.75" y="-1.8" width="3.5" height="3.6" fill="#fde9cf" transform="translate(72.93 17.18) rotate(354.19)"/><rect x="-1.75" y="-1.8" width="3.5" height="3.6" fill="#fde9cf" transform="translate(76.64 16.93) rotate(358.06)"/><path d="M80.49 13.03L80.8 3.95M84.47 13.3L85.62 1.94M88.42 13.84L89.98 4.7M92.32 14.64L94.33 6.32M96.16 15.71L99.54 4.94M99.92 17.03L103.49 7.87M103.58 18.6L107.65 9.95M107.13 20.41L112.17 11.33M110.55 22.46L116.74 12.9M113.82 24.74L120.53 15.77M116.93 27.23L122.97 20.2M119.87 29.93L126.25 23.43M122.61 32.82L130.39 25.91M125.16 35.89L134.53 28.63M127.49 39.12L135 34.07M129.6 42.5L137.55 37.91M131.47 46.02L141.61 41.04M133.1 49.65L142.3 45.89M134.49 53.39L142.74 50.65M135.62 57.21L144.08 55.02M136.48 61.1L146.47 59.22M137.09 65.04L147.36 63.82M137.42 69.01L147.31 68.51M137.49 73L148.95 73.19M137.29 76.98L148.7 77.94M136.82 80.93L148.18 82.67M136.08 84.85L145.32 86.91M135.08 88.71L145.43 91.76M133.83 92.49L143.2 95.96M132.32 96.18L142.01 100.54M130.56 99.76L139.55 104.55M128.57 103.21L138.43 109.35M126.35 106.52L136.1 113.55M123.91 109.67L130.3 114.97M121.26 112.65L129.05 120.05M118.42 115.44L126.4 124.12M115.4 118.04L121.48 125.63M112.2 120.43L117.42 127.92M108.86 122.59L114.82 132.53M105.37 124.52L109.87 133.31M101.77 126.22L106.05 136.19M98.05 127.67L101.42 137.26M94.25 128.86L97.49 140.54M90.38 129.79L92.81 141.61M86.45 130.46L87.57 138.72M82.48 130.87L83.08 139.66M78.5 131L78.5 141.3M74.52 130.87L73.84 140.83M70.55 130.46L69.05 141.54M66.62 129.79L64.78 138.76M62.75 128.86L59.94 139.01M58.95 127.67L56.13 135.69M55.23 126.22L51.6 134.68M51.63 124.52L47.52 132.54M48.14 122.59L43.8 129.83M44.8 120.43L38.39 129.62M41.6 118.04L34.07 127.44M38.58 115.44L30.86 123.85M35.74 112.65L27.41 120.57M33.09 109.67L23.95 117.25M30.65 106.52L20.92 113.54M28.43 103.21L19.92 108.51M26.44 99.76L18.67 103.9M24.68 96.18L15.19 100.45M23.17 92.49L15.2 95.44M21.92 88.71L13.62 91.16M20.92 84.85L9.25 87.45M20.18 80.93L10.43 82.43M19.71 76.98L9.1 77.87M19.51 73L7.78 73.19M19.58 69.01L11.13 68.58M19.91 65.04L8.79 63.72M20.52 61.1L10.69 59.25M21.38 57.21L11.99 54.78M22.51 53.39L14.48 50.72M23.9 49.65L15.03 46.02M25.53 46.02L15.95 41.32M27.4 42.5L18.35 37.28M29.51 39.12L19.9 32.67M31.84 35.89L25.18 30.73M34.39 32.82L28.16 27.29M37.13 29.93L29.19 21.85M40.07 27.23L32.22 18.09M43.18 24.74L36.47 15.77M46.45 22.46L40.57 13.38M49.87 20.41L45.66 12.83M53.42 18.6L49.73 10.75M57.08 17.03L53.83 8.7M60.84 15.71L57.24 4.24M64.68 14.64L62.54 5.77M68.58 13.84L67 4.54M72.53 13.3L71.55 3.68M76.51 13.03L76.23 4.69" stroke="#a8474c" stroke-width="1.9" fill="none" opacity="0.8" stroke-dasharray="1.3 0.5"/><circle cx="80.24" cy="20.53" r="1.65" fill="#7a1014"/><circle cx="83.71" cy="20.76" r="1.65" fill="#7a1014"/><circle cx="87.16" cy="21.23" r="1.65" fill="#7a1014"/><circle cx="90.56" cy="21.93" r="1.65" fill="#7a1014"/><circle cx="93.92" cy="22.86" r="1.65" fill="#7a1014"/><circle cx="97.2" cy="24.01" r="1.65" fill="#7a1014"/><circle cx="100.4" cy="25.39" r="1.65" fill="#7a1014"/><circle cx="103.49" cy="26.97" r="1.65" fill="#7a1014"/><circle cx="106.48" cy="28.76" r="1.65" fill="#7a1014"/><circle cx="109.33" cy="30.75" r="1.65" fill="#7a1014"/><circle cx="112.05" cy="32.92" r="1.65" fill="#7a1014"/><circle cx="114.61" cy="35.28" r="1.65" fill="#7a1014"/><circle cx="117" cy="37.8" r="1.65" fill="#7a1014"/><circle cx="119.22" cy="40.48" r="1.65" fill="#7a1014"/><circle cx="121.26" cy="43.3" r="1.65" fill="#7a1014"/><circle cx="123.1" cy="46.25" r="1.65" fill="#7a1014"/><circle cx="124.74" cy="49.32" r="1.65" fill="#7a1014"/><circle cx="126.16" cy="52.49" r="1.65" fill="#7a1014"/><circle cx="127.37" cy="55.76" r="1.65" fill="#7a1014"/><circle cx="128.36" cy="59.09" r="1.65" fill="#7a1014"/><circle cx="129.11" cy="62.49" r="1.65" fill="#7a1014"/><circle cx="129.64" cy="65.93" r="1.65" fill="#7a1014"/><circle cx="129.93" cy="69.39" r="1.65" fill="#7a1014"/><circle cx="129.99" cy="72.87" r="1.65" fill="#7a1014"/><circle cx="129.82" cy="76.34" r="1.65" fill="#7a1014"/><circle cx="129.41" cy="79.8" r="1.65" fill="#7a1014"/><circle cx="128.76" cy="83.22" r="1.65" fill="#7a1014"/><circle cx="127.89" cy="86.59" r="1.65" fill="#7a1014"/><circle cx="126.79" cy="89.89" r="1.65" fill="#7a1014"/><circle cx="125.48" cy="93.11" r="1.65" fill="#7a1014"/><circle cx="123.94" cy="96.23" r="1.65" fill="#7a1014"/><circle cx="122.21" cy="99.24" r="1.65" fill="#7a1014"/><circle cx="120.27" cy="102.13" r="1.65" fill="#7a1014"/><circle cx="118.14" cy="104.88" r="1.65" fill="#7a1014"/><circle cx="115.83" cy="107.48" r="1.65" fill="#7a1014"/><circle cx="113.35" cy="109.92" r="1.65" fill="#7a1014"/><circle cx="110.71" cy="112.19" r="1.65" fill="#7a1014"/><circle cx="107.92" cy="114.27" r="1.65" fill="#7a1014"/><circle cx="105" cy="116.16" r="1.65" fill="#7a1014"/><circle cx="101.96" cy="117.85" r="1.65" fill="#7a1014"/><circle cx="98.81" cy="119.33" r="1.65" fill="#7a1014"/><circle cx="95.57" cy="120.59" r="1.65" fill="#7a1014"/><circle cx="92.25" cy="121.63" r="1.65" fill="#7a1014"/><circle cx="88.87" cy="122.45" r="1.65" fill="#7a1014"/><circle cx="85.44" cy="123.03" r="1.65" fill="#7a1014"/><circle cx="81.98" cy="123.38" r="1.65" fill="#7a1014"/><circle cx="78.5" cy="123.5" r="1.65" fill="#7a1014"/><circle cx="75.02" cy="123.38" r="1.65" fill="#7a1014"/><circle cx="71.56" cy="123.03" r="1.65" fill="#7a1014"/><circle cx="68.13" cy="122.45" r="1.65" fill="#7a1014"/><circle cx="64.75" cy="121.63" r="1.65" fill="#7a1014"/><circle cx="61.43" cy="120.59" r="1.65" fill="#7a1014"/><circle cx="58.19" cy="119.33" r="1.65" fill="#7a1014"/><circle cx="55.04" cy="117.85" r="1.65" fill="#7a1014"/><circle cx="52" cy="116.16" r="1.65" fill="#7a1014"/><circle cx="49.08" cy="114.27" r="1.65" fill="#7a1014"/><circle cx="46.29" cy="112.19" r="1.65" fill="#7a1014"/><circle cx="43.65" cy="109.92" r="1.65" fill="#7a1014"/><circle cx="41.17" cy="107.48" r="1.65" fill="#7a1014"/><circle cx="38.86" cy="104.88" r="1.65" fill="#7a1014"/><circle cx="36.73" cy="102.13" r="1.65" fill="#7a1014"/><circle cx="34.79" cy="99.24" r="1.65" fill="#7a1014"/><circle cx="33.06" cy="96.23" r="1.65" fill="#7a1014"/><circle cx="31.52" cy="93.11" r="1.65" fill="#7a1014"/><circle cx="30.21" cy="89.89" r="1.65" fill="#7a1014"/><circle cx="29.11" cy="86.59" r="1.65" fill="#7a1014"/><circle cx="28.24" cy="83.22" r="1.65" fill="#7a1014"/><circle cx="27.59" cy="79.8" r="1.65" fill="#7a1014"/><circle cx="27.18" cy="76.34" r="1.65" fill="#7a1014"/><circle cx="27.01" cy="72.87" r="1.65" fill="#7a1014"/><circle cx="27.07" cy="69.39" r="1.65" fill="#7a1014"/><circle cx="27.36" cy="65.93" r="1.65" fill="#7a1014"/><circle cx="27.89" cy="62.49" r="1.65" fill="#7a1014"/><circle cx="28.64" cy="59.09" r="1.65" fill="#7a1014"/><circle cx="29.63" cy="55.76" r="1.65" fill="#7a1014"/><circle cx="30.84" cy="52.49" r="1.65" fill="#7a1014"/><circle cx="32.26" cy="49.32" r="1.65" fill="#7a1014"/><circle cx="33.9" cy="46.25" r="1.65" fill="#7a1014"/><circle cx="35.74" cy="43.3" r="1.65" fill="#7a1014"/><circle cx="37.78" cy="40.48" r="1.65" fill="#7a1014"/><circle cx="40" cy="37.8" r="1.65" fill="#7a1014"/><circle cx="42.39" cy="35.28" r="1.65" fill="#7a1014"/><circle cx="44.95" cy="32.92" r="1.65" fill="#7a1014"/><circle cx="47.67" cy="30.75" r="1.65" fill="#7a1014"/><circle cx="50.52" cy="28.76" r="1.65" fill="#7a1014"/><circle cx="53.51" cy="26.97" r="1.65" fill="#7a1014"/><circle cx="56.6" cy="25.39" r="1.65" fill="#7a1014"/><circle cx="59.8" cy="24.01" r="1.65" fill="#7a1014"/><circle cx="63.08" cy="22.86" r="1.65" fill="#7a1014"/><circle cx="66.44" cy="21.93" r="1.65" fill="#7a1014"/><circle cx="69.84" cy="21.23" r="1.65" fill="#7a1014"/><circle cx="73.29" cy="20.76" r="1.65" fill="#7a1014"/><circle cx="76.76" cy="20.53" r="1.65" fill="#7a1014"/><path d="M234.69 57.96Q236.4 70.74 249.1 68.47M191.32 87.3Q208.1 77.45 211.59 58.31M194.65 102.62Q224.24 96.72 254.39 98.05M206.04 115.41Q206.16 97.23 191.34 86.7M243.46 62.83Q240.66 84.45 252.48 102.77M255.87 89.72Q242.84 80.76 246.32 65.34M227.38 120.38Q234.78 93.99 251.76 72.49M255.82 85.96Q243.73 80.45 248.89 68.21M194.58 102.48Q214.34 81.99 226.16 56.1M191.98 94.9Q223.17 86.79 254 77.38M230.85 56.82Q221.17 67.13 209.42 59.28M255.35 82.36Q230.16 75.87 210.58 58.74M199.61 66.67Q207.93 72.08 202.81 63.58M248.46 67.67Q235.98 91.77 234.11 118.84M242.09 61.81Q225.18 68.84 209.62 59.18M196.58 70.61Q205.98 89.93 200.28 110.65M233.13 119.16Q236.49 105.15 250.9 105.57M194.64 73.99Q215.06 94.48 228.14 120.28M200.31 110.68Q224.28 89.08 248.84 68.15M255.39 82.58Q238.67 75.7 234.87 58.03M192.14 95.6Q208.87 101.53 212.97 118.8M249.09 68.46Q224.31 73.58 200.16 66.08M255.73 91.62Q240.8 99.07 240.6 115.76M250.39 70.26Q244.18 83.48 255.62 92.57M196.28 71.07Q223.79 87.99 251.45 104.66M251.69 72.35Q234.07 94 225.42 120.55M252.99 101.7Q227.43 83.71 205.14 61.8M244.83 63.96Q229.52 68.58 219.27 56.29M234.89 58.04Q220.63 68.77 203.81 62.77M195.47 104.17Q224.72 91.12 254.94 80.5M228.16 120.28Q236.21 102.04 255.07 95.59M255.86 89.88Q245.68 85.47 254.42 78.63M247.92 109.55Q231.48 84.45 221.78 56.05M223.21 56Q218.34 66.92 208.95 59.51M242.18 61.88Q241.06 81.83 254.91 96.22M204 62.63Q220.73 68.74 235.01 58.08M191.65 93.06Q223.3 93.02 254.7 97.02M219.28 56.29Q223.22 65.85 226.85 56.16M193.35 76.97Q222.52 90.45 250.77 105.76M248.51 67.73Q232.45 69.8 223.99 56M195.52 72.34Q211.89 93.86 218.23 120.15M253.31 75.63Q238.47 94.25 236.38 117.96M206.63 60.81Q228.74 76.44 255.26 81.9M209.6 117.41Q227.32 91.18 248.24 67.41M252.84 74.57Q222.62 82.05 191.57 84.16" stroke="#8592aa" stroke-width="0.45" fill="none" opacity="0.6"/><path d="M223.6 51.5A36.8 36.8 0 1 1 223.59 51.5L223.59 54.4A33.9 33.9 0 1 0 223.6 54.4Z" fill="#fde9cf"/><rect x="-2.2" y="-1.45" width="4.4" height="2.9" fill="#fbd6aa" transform="translate(226.12 53.04) rotate(4.09)"/><rect x="-2.2" y="-1.45" width="4.4" height="2.9" fill="#fde9cf" transform="translate(231.11 53.76) rotate(12.27)"/><rect x="-2.2" y="-1.45" width="4.4" height="2.9" fill="#fde9cf" transform="translate(235.95 55.18) rotate(20.45)"/><rect x="-2.2" y="-1.45" width="4.4" height="2.9" fill="#fde9cf" transform="translate(240.54 57.27) rotate(28.64)"/><rect x="-2.2" y="-1.45" width="4.4" height="2.9" fill="#fde9cf" transform="translate(244.78 60) rotate(36.82)"/><rect x="-2.2" y="-1.45" width="4.4" height="2.9" fill="#fde9cf" transform="translate(248.6 63.3) rotate(45)"/><rect x="-2.2" y="-1.45" width="4.4" height="2.9" fill="#fde9cf" transform="translate(251.9 67.12) rotate(53.18)"/><rect x="-2.2" y="-1.45" width="4.4" height="2.9" fill="#fde9cf" transform="translate(254.63 71.36) rotate(61.36)"/><rect x="-2.2" y="-1.45" width="4.4" height="2.9" fill="#fde9cf" transform="translate(256.72 75.95) rotate(69.55)"/><rect x="-2.2" y="-1.45" width="4.4" height="2.9" fill="#fbd6aa" transform="translate(258.14 80.79) rotate(77.73)"/><rect x="-2.2" y="-1.45" width="4.4" height="2.9" fill="#fbd6aa" transform="translate(258.86 85.78) rotate(85.91)"/><rect x="-2.2" y="-1.45" width="4.4" height="2.9" fill="#fde9cf" transform="translate(258.86 90.82) rotate(94.09)"/><rect x="-2.2" y="-1.45" width="4.4" height="2.9" fill="#fde9cf" transform="translate(258.14 95.81) rotate(102.27)"/><rect x="-2.2" y="-1.45" width="4.4" height="2.9" fill="#fde9cf" transform="translate(256.72 100.65) rotate(110.45)"/><rect x="-2.2" y="-1.45" width="4.4" height="2.9" fill="#fbd6aa" transform="translate(254.63 105.24) rotate(118.64)"/><rect x="-2.2" y="-1.45" width="4.4" height="2.9" fill="#fde9cf" transform="translate(251.9 109.48) rotate(126.82)"/><rect x="-2.2" y="-1.45" width="4.4" height="2.9" fill="#fbd6aa" transform="translate(248.6 113.3) rotate(135)"/><rect x="-2.2" y="-1.45" width="4.4" height="2.9" fill="#fde9cf" transform="translate(244.78 116.6) rotate(143.18)"/><rect x="-2.2" y="-1.45" width="4.4" height="2.9" fill="#fbd6aa" transform="translate(240.54 119.33) rotate(151.36)"/><rect x="-2.2" y="-1.45" width="4.4" height="2.9" fill="#fde9cf" transform="translate(235.95 121.42) rotate(159.55)"/><rect x="-2.2" y="-1.45" width="4.4" height="2.9" fill="#fbd6aa" transform="translate(231.11 122.84) rotate(167.73)"/><rect x="-2.2" y="-1.45" width="4.4" height="2.9" fill="#fbd6aa" transform="translate(226.12 123.56) rotate(175.91)"/><rect x="-2.2" y="-1.45" width="4.4" height="2.9" fill="#fde9cf" transform="translate(221.08 123.56) rotate(184.09)"/><rect x="-2.2" y="-1.45" width="4.4" height="2.9" fill="#fde9cf" transform="translate(216.09 122.84) rotate(192.27)"/><rect x="-2.2" y="-1.45" width="4.4" height="2.9" fill="#f6b98a" transform="translate(211.25 121.42) rotate(200.45)"/><rect x="-2.2" y="-1.45" width="4.4" height="2.9" fill="#fde9cf" transform="translate(206.66 119.33) rotate(208.64)"/><rect x="-2.2" y="-1.45" width="4.4" height="2.9" fill="#fbd6aa" transform="translate(202.42 116.6) rotate(216.82)"/><rect x="-2.2" y="-1.45" width="4.4" height="2.9" fill="#fde9cf" transform="translate(198.6 113.3) rotate(225)"/><rect x="-2.2" y="-1.45" width="4.4" height="2.9" fill="#fde9cf" transform="translate(195.3 109.48) rotate(233.18)"/><rect x="-2.2" y="-1.45" width="4.4" height="2.9" fill="#fbd6aa" transform="translate(192.57 105.24) rotate(241.36)"/><rect x="-2.2" y="-1.45" width="4.4" height="2.9" fill="#fde9cf" transform="translate(190.48 100.65) rotate(249.55)"/><rect x="-2.2" y="-1.45" width="4.4" height="2.9" fill="#fde9cf" transform="translate(189.06 95.81) rotate(257.73)"/><rect x="-2.2" y="-1.45" width="4.4" height="2.9" fill="#fde9cf" transform="translate(188.34 90.82) rotate(265.91)"/><rect x="-2.2" y="-1.45" width="4.4" height="2.9" fill="#fde9cf" transform="translate(188.34 85.78) rotate(274.09)"/><rect x="-2.2" y="-1.45" width="4.4" height="2.9" fill="#fde9cf" transform="translate(189.06 80.79) rotate(282.27)"/><rect x="-2.2" y="-1.45" width="4.4" height="2.9" fill="#fde9cf" transform="translate(190.48 75.95) rotate(290.45)"/><rect x="-2.2" y="-1.45" width="4.4" height="2.9" fill="#fde9cf" transform="translate(192.57 71.36) rotate(298.64)"/><rect x="-2.2" y="-1.45" width="4.4" height="2.9" fill="#fde9cf" transform="translate(195.3 67.12) rotate(306.82)"/><rect x="-2.2" y="-1.45" width="4.4" height="2.9" fill="#fde9cf" transform="translate(198.6 63.3) rotate(315)"/><rect x="-2.2" y="-1.45" width="4.4" height="2.9" fill="#fbd6aa" transform="translate(202.42 60) rotate(323.18)"/><rect x="-2.2" y="-1.45" width="4.4" height="2.9" fill="#fbd6aa" transform="translate(206.66 57.27) rotate(331.36)"/><rect x="-2.2" y="-1.45" width="4.4" height="2.9" fill="#fbd6aa" transform="translate(211.25 55.18) rotate(339.55)"/><rect x="-2.2" y="-1.45" width="4.4" height="2.9" fill="#fde9cf" transform="translate(216.09 53.76) rotate(347.73)"/><rect x="-2.2" y="-1.45" width="4.4" height="2.9" fill="#fbd6aa" transform="translate(221.08 53.04) rotate(355.91)"/><path d="M226.4 49.1L227.14 38.85M231.95 49.9L233.84 41.21M237.33 51.48L241.34 40.73M242.43 53.81L246.48 46.41M247.15 56.84L252.02 50.33M251.39 60.51L258.35 53.55M255.06 64.75L262.89 58.89M258.09 69.47L266.62 64.81M260.42 74.57L269.5 71.18M262 79.95L273.36 77.48M262.8 85.5L270.86 84.92M262.8 91.1L273.63 91.88M262 96.65L272.77 99M260.42 102.03L271.02 105.99M258.09 107.13L267.54 112.29M255.06 111.85L261.98 117.03M251.39 116.09L259.58 124.28M247.15 119.76L253.95 128.84M242.43 122.79L246.79 130.76M237.33 125.12L241.17 135.4M231.95 126.7L234.43 138.07M226.4 127.5L227.08 136.93M220.8 127.5L220.12 137.02M215.25 126.7L213.18 136.22M209.87 125.12L206.7 133.62M204.77 122.79L199.34 132.72M200.05 119.76L194.99 126.52M195.81 116.09L189.44 122.46M192.14 111.85L182.91 118.76M189.11 107.13L179.24 112.52M186.78 102.03L177.55 105.48M185.2 96.65L175.6 98.74M184.4 91.1L173.77 91.86M184.4 85.5L173.19 84.69M185.2 79.95L175.25 77.78M186.78 74.57L176.3 70.66M189.11 69.47L180.78 64.92M192.14 64.75L185.35 59.67M195.81 60.51L187.93 52.63M200.05 56.84L194.32 49.19M204.77 53.81L200.5 45.99M209.87 51.48L205.99 41.09M215.25 49.9L213.42 41.49M220.8 49.1L220.21 40.93" stroke="#6a98cc" stroke-width="1.9" fill="none" opacity="0.8" stroke-dasharray="1.3 0.5"/><circle cx="226.01" cy="56.09" r="1.65" fill="#245f9c"/><circle cx="230.79" cy="56.81" r="1.65" fill="#245f9c"/><circle cx="235.4" cy="58.23" r="1.65" fill="#245f9c"/><circle cx="239.75" cy="60.33" r="1.65" fill="#245f9c"/><circle cx="243.74" cy="63.05" r="1.65" fill="#245f9c"/><circle cx="247.28" cy="66.33" r="1.65" fill="#245f9c"/><circle cx="250.29" cy="70.1" r="1.65" fill="#245f9c"/><circle cx="252.7" cy="74.29" r="1.65" fill="#245f9c"/><circle cx="254.47" cy="78.78" r="1.65" fill="#245f9c"/><circle cx="255.54" cy="83.49" r="1.65" fill="#245f9c"/><circle cx="255.9" cy="88.3" r="1.65" fill="#245f9c"/><circle cx="255.54" cy="93.11" r="1.65" fill="#245f9c"/><circle cx="254.47" cy="97.82" r="1.65" fill="#245f9c"/><circle cx="252.7" cy="102.31" r="1.65" fill="#245f9c"/><circle cx="250.29" cy="106.5" r="1.65" fill="#245f9c"/><circle cx="247.28" cy="110.27" r="1.65" fill="#245f9c"/><circle cx="243.74" cy="113.55" r="1.65" fill="#245f9c"/><circle cx="239.75" cy="116.27" r="1.65" fill="#245f9c"/><circle cx="235.4" cy="118.37" r="1.65" fill="#245f9c"/><circle cx="230.79" cy="119.79" r="1.65" fill="#245f9c"/><circle cx="226.01" cy="120.51" r="1.65" fill="#245f9c"/><circle cx="221.19" cy="120.51" r="1.65" fill="#245f9c"/><circle cx="216.41" cy="119.79" r="1.65" fill="#245f9c"/><circle cx="211.8" cy="118.37" r="1.65" fill="#245f9c"/><circle cx="207.45" cy="116.27" r="1.65" fill="#245f9c"/><circle cx="203.46" cy="113.55" r="1.65" fill="#245f9c"/><circle cx="199.92" cy="110.27" r="1.65" fill="#245f9c"/><circle cx="196.91" cy="106.5" r="1.65" fill="#245f9c"/><circle cx="194.5" cy="102.31" r="1.65" fill="#245f9c"/><circle cx="192.73" cy="97.82" r="1.65" fill="#245f9c"/><circle cx="191.66" cy="93.11" r="1.65" fill="#245f9c"/><circle cx="191.3" cy="88.3" r="1.65" fill="#245f9c"/><circle cx="191.66" cy="83.49" r="1.65" fill="#245f9c"/><circle cx="192.73" cy="78.78" r="1.65" fill="#245f9c"/><circle cx="194.5" cy="74.29" r="1.65" fill="#245f9c"/><circle cx="196.91" cy="70.1" r="1.65" fill="#245f9c"/><circle cx="199.92" cy="66.33" r="1.65" fill="#245f9c"/><circle cx="203.46" cy="63.05" r="1.65" fill="#245f9c"/><circle cx="207.45" cy="60.33" r="1.65" fill="#245f9c"/><circle cx="211.8" cy="58.23" r="1.65" fill="#245f9c"/><circle cx="216.41" cy="56.81" r="1.65" fill="#245f9c"/><circle cx="221.19" cy="56.09" r="1.65" fill="#245f9c"/><path d="M167.75 281.47Q153.48 271.9 157.21 288.66M72.32 198.15Q102.33 243.28 116.23 295.67M165.59 283.2Q132.49 229.03 103.39 172.61M63.31 221.61Q123.22 241.05 180.93 266.25M190.48 228.53Q171.18 243.19 181.66 265.06M151.74 291.32Q133.14 230.62 118.95 168.75M66.11 210.92Q91.33 203.83 93.1 177.69M67.68 206.93Q84.79 209.01 74.09 195.5M147.66 171.89Q131.82 233.6 119.52 296.12M109.73 170.53Q110.57 187.18 100.8 173.68M190.6 232.11Q161.83 253.51 156.62 288.98M79.04 275.48Q126.79 264.39 174.73 274.62M114.17 295.3Q132.01 234.19 153.52 174.28M152.68 290.91Q135.6 278.37 124.58 296.47M134.86 168.85Q148.1 193.18 175.74 191.36M114.37 169.46Q98.25 204.8 63.29 221.74M101.76 173.27Q99.37 226.32 78.9 275.33M66.79 209.08Q88.14 205.69 83.92 184.49M84 184.41Q115.71 190.93 140.24 169.79M76.71 272.77Q131.75 249.92 190.29 238.74M68.77 260.26Q128.63 246.37 189.91 241.8M109.68 294.25Q109.2 234.22 97.18 175.4M82.25 278.78Q133.94 249.88 190.6 232.63M118.34 295.98Q133.17 278.22 152.44 291.02M107.02 171.33Q142.57 215.11 188.83 247.37M186.75 254.27Q129.87 255.03 75.24 270.88M170.49 185.78Q129.57 234.86 90.71 285.58M109.04 170.72Q117.87 233.22 120.96 296.26M190.17 239.8Q155.41 258.68 139.93 295.08M112.98 295.06Q140.73 241.57 177.98 194.21M171.52 186.77Q161.04 198.98 173.6 188.92M188.21 249.74Q162.96 258.91 162.01 285.76M188.75 247.68Q173.86 237.13 190.54 229.74M160.11 177.82Q132.21 234.96 108.11 293.81M72.32 198.14Q90.87 238.08 85.66 281.8M99.14 290.37Q96.76 268.22 74.56 269.96M187.61 213.05Q126.12 231.07 64.38 248.2M142.1 294.57Q125.2 278.67 107.45 293.6M84.78 281.06Q115.51 274.23 138.92 295.29M186.02 256.19Q172.83 240.15 190.52 229.28M189.58 221.01Q148.28 252.09 121.49 296.3M169.44 279.99Q130.28 270.88 93.63 287.43M131.28 168.48Q147.5 222.88 177.72 270.94M77.59 190.97Q132.13 215.13 190.43 227.79M104.16 292.48Q119.42 278.93 129.96 296.41M189.07 246.31Q148.08 213.65 121.47 168.5M188 250.48Q125.76 235.85 63.02 223.52M180.31 197.57Q156.47 197.39 152.62 173.86M80.13 188.15Q117.96 238.15 150.1 292M150.85 173.11Q151.2 228.48 168.01 281.24M150.14 291.98Q111.43 256.94 62.67 238.27M167.12 182.82Q165.48 210.07 189.82 222.44M110.29 170.38Q96.44 210.86 62.56 236.97M179.41 196.21Q166.87 231.33 181.26 265.73M177.77 270.87Q124.29 257.69 69.32 261.38M83.72 280.14Q91.01 236.17 74.64 194.73M68.71 204.67Q102.15 245.89 119.36 296.1M62.56 236.92Q78.51 235.11 62.46 235.11M62.52 228.5Q106.23 254.68 136.43 295.73M63.94 218.44Q79.81 233.35 64.56 248.91M93.77 177.29Q131.46 194.98 172.47 187.73M80 188.28Q109.72 191.83 128.24 168.32M62.71 226.1Q90.23 250.66 93.58 287.4M127.35 296.49Q121.24 233.05 111.63 170.05M98.5 290.06Q127.85 274.93 158.12 288.16M63.83 218.93Q85.76 210.59 80.54 187.72M86.47 282.47Q127.99 268.65 170.51 279.01M145.43 293.64Q139.88 278.57 143.26 294.27M63.32 243.2Q125.97 242.85 188.28 249.48M167.15 281.97Q133.55 273.59 104.65 292.66" stroke="#bdbdc5" stroke-width="0.45" fill="none" opacity="0.45"/><path d="M177.15 193.11Q133.99 238.61 97.24 289.43M95.06 288.26Q127.27 232.85 160.14 177.84M95.68 176.2Q135.77 222.77 183.82 261.09M110.08 170.44Q142.27 204.36 187.98 214.25M155.08 289.78Q124.55 233.5 92.35 178.16M111.14 294.63Q120.89 231.75 125.83 168.3M67.64 257.77Q120.25 258.52 167.51 281.67M176.47 272.54Q131.41 265.03 90.56 285.48M178.09 270.44Q137.34 224.47 105.89 171.7M163.84 180.3Q155.49 229.97 171.99 277.56M97.74 289.69Q101.06 236.11 82.57 185.72M112.31 169.89Q123.4 232.88 131.85 296.28M124.94 168.32Q144.64 222.38 179.9 267.85M114.43 295.35Q101.74 245.41 67.81 206.62M121.43 296.3Q139.08 237.52 167.52 183.14M87.06 181.87Q91.84 222.99 66.92 256.04M85.07 183.49Q122.7 235 157.07 288.74M177.59 271.11Q143.5 223.53 123.98 168.35M78.02 274.33Q115.43 225.43 143.34 170.55M160.36 286.83Q116.54 246.19 64.18 217.38M186.57 254.77Q126.63 248.4 66.8 255.74M128.08 168.32Q148.19 217.5 186.88 253.91M72.85 197.32Q96.16 239.35 93.46 287.33M70.7 263.95Q128.16 236.06 187.03 211.31M190.28 238.84Q130.94 248.2 75.41 271.11M113.9 295.25Q121.68 231.97 125.34 168.31M62.51 228.58Q118.04 213.48 166.31 182.16M117.47 295.86Q103.23 244.66 69.05 203.97M62.94 224.13Q124.38 239.42 184.01 260.72M63.9 246.2Q122.42 250.85 177.43 271.32M164 180.41Q126.88 195.74 90.09 179.64M94.83 288.13Q133.66 264.97 178.62 269.72M94.68 288.05Q109.73 230.16 110.41 170.35M190.6 232.13Q155.06 210.72 143.99 170.73M185.36 257.78Q133.79 223.23 88.46 180.81M67.82 206.61Q127.13 230.8 186.99 253.61M88 283.65Q107.45 228.61 110.57 170.31M128.29 296.47Q120.16 233.5 106.58 171.47M63.65 245.02Q126.58 232.81 189.57 220.94M186.22 255.68Q131.57 224.65 81.26 186.99M132.78 296.19Q107.07 248.77 64.7 215.39M115.1 169.32Q144.22 216 188.52 248.61M102.33 291.77Q132.86 236.34 168.86 184.29M163.13 285Q148.29 230.25 152.12 173.64M171.34 186.59Q122.26 206.08 69.54 203M190.39 227.24Q153.74 208.7 140.45 169.84M71.48 265.28Q126.08 256.1 180.31 267.23M179.72 196.67Q123.55 226.04 64.85 249.95M71.33 199.77Q123.33 205.4 172.61 187.88M148.85 292.48Q115.11 241.85 71.6 199.32M66.18 210.71Q124.27 212.69 180.45 197.79M177.66 271.02Q122.31 249.78 63.36 243.43M171.28 278.26Q136.38 226.78 109.94 170.48M188.39 215.7Q141.35 205.18 107.05 171.32M124.56 296.47Q148.03 251.63 189.95 223.28M145.27 293.69Q149.52 238.59 173.49 188.8M64.78 249.71Q127.28 239.98 190.45 236.73M88.7 180.63Q101.54 233.41 92.99 287.04M86.2 282.25Q134.21 244.62 188.83 217.45M80.44 187.82Q126.02 200.72 171.19 186.45M190.07 240.6Q126.52 232.21 63 223.67M168.95 280.43Q122.6 261.53 72.92 267.59M100.06 290.79Q138.06 261.2 185.98 256.29M167.38 281.77Q152.35 230.44 159.49 177.44M183.98 204.04Q128.55 209.17 74.88 194.4M184.32 260.07Q127.59 253.78 71.79 265.81M167.04 182.74Q132.17 235.78 102.16 291.7M187.83 251.04Q156.99 218.39 152.29 173.72M172.15 187.4Q120.53 221.31 63.8 245.72M138.34 169.4Q110.37 219.95 68.57 259.83M71.61 265.51Q125.32 257.34 178.02 270.54M159.97 287.07Q119.34 263.67 72.58 267.06M65.63 252.5Q127.63 239.21 190.6 231.76M73.88 195.8Q126.05 233.02 177.85 270.76M80.1 276.62Q130.66 238.54 184.78 205.71M168.96 184.38Q129.66 196.45 93.07 177.71M142.14 170.24Q152.79 219.02 185.96 256.34M77.55 273.78Q129.65 237.29 184.44 204.99M72.26 198.24Q97.94 240.73 99.15 290.37M63.8 245.74Q126.98 237.73 190.57 234.3M151.98 291.22Q114.87 261.98 67.78 258.11M178.58 269.76Q144.87 223.04 126.89 168.3M188.94 246.91Q154.34 215.85 143.59 170.62M75.64 193.38Q94.68 236.26 86.46 282.45M145.29 171.12Q155.5 210.17 190.56 230.17M167.73 183.32Q119.25 209.45 64.56 215.9M188.6 216.51Q136.75 207.57 93.69 177.33M62.4 232.59Q115.62 213.24 159.52 177.46M66.23 254.24Q119.31 257.65 166.22 282.71M105.3 171.91Q129.39 231.15 155.97 289.33M99.28 174.36Q96.03 220.13 66.66 255.39M147.95 171.99Q112.75 218.42 65.76 252.88M98.53 174.73Q132.84 196.62 172.57 187.83M62.58 227.6Q110.21 209.13 143.88 170.7M190.44 236.91Q142.43 255.47 108.07 293.79M114.26 169.48Q105.15 224.95 77.75 274.02M109.03 294.07Q142.82 253.94 190.6 232.28M149.87 172.71Q152.16 225.57 176.44 272.58M160.29 286.87Q159.72 244.72 187.64 213.13M101.35 173.44Q135.73 225.12 178.01 270.55" stroke="#707070" stroke-width="0.42" fill="none" opacity="0.45"/><path d="M100.35 173.88Q102.48 195.12 84.01 184.4M82.81 185.5Q102.52 236.67 101.68 291.5M104.61 172.15Q98.27 202.35 67.73 206.8M132.97 168.63Q106.38 208.6 62.54 228.17M85.56 183.08Q92.75 226.37 71.01 264.5M139.65 169.66Q136.52 232.21 141.98 294.6M160.41 178Q118.79 202.41 70.56 201.11M80.19 188.08Q132.04 222.38 188.65 248.08M108.03 171.02Q141.64 204.85 188.21 215.07M75.47 193.61Q130.65 223.15 189.4 244.76M88.51 180.77Q91.8 221.04 65.34 251.58M119.54 168.68Q138.68 193.08 168.28 183.79M103.46 172.58Q122.83 233.47 139.04 295.26M108.36 170.92Q139.68 199.84 182.3 200.85M76.42 192.39Q110.49 196.01 130.85 168.45M181.48 199.44Q123.31 220.8 62.4 232.22M77.45 191.13Q87.37 222.56 63.76 245.54M180.64 198.08Q136.71 241.05 101.54 291.44M79.66 188.64Q111.67 239.46 130.98 296.34M117.7 168.91Q144.27 201.89 186.07 208.73M132.27 168.56Q129.69 187.65 129.84 168.39M175.85 191.5Q126.09 231.89 75.97 271.84M143.45 170.58Q123.55 190.16 101.13 173.53M146.64 171.55Q155.98 211.3 190.6 232.97M93.98 177.16Q132.28 198.62 175.54 191.12M72.94 197.19Q85.58 216.64 63.15 222.6M168.34 183.84Q162.64 221.84 187.9 250.79M87.29 181.69Q95.66 229.16 77.6 273.85M168.96 184.38Q131.39 195.5 98.01 174.98M85.48 183.14Q90.24 210.32 63.91 218.57M167.4 183.04Q118.41 216.21 62.47 235.49M103.74 172.48Q139.1 202.46 185.25 206.77M166.87 182.61Q160.92 224.55 184.47 259.75M109.07 170.71Q113.32 232.1 106.26 293.22M109.17 170.69Q100.87 199.82 70.6 201.03M93.22 177.61Q120.6 191.54 142.93 170.44M135.45 168.93Q113.45 225.73 80.27 276.8M166.29 182.14Q118.86 220.99 64.88 250.06M174.6 190.03Q135.73 196.46 104.76 172.1M125.75 168.3Q126.3 232.4 126.69 296.5M84.36 184.1Q133.11 222.37 187.52 252.04M137.34 169.22Q141.13 190.64 157.46 176.27M151.09 173.2Q154.32 200.1 181.39 199.3M118.89 168.75Q119.61 188.09 114.41 169.45M77.95 190.55Q115.08 196.02 142.42 170.31M118.4 168.81Q144.57 201.99 186.22 209.11M155.36 175.16Q136.99 189.94 127.63 168.31M168.47 183.95Q123.49 201.66 75.93 193.01M162.74 179.53Q149.31 233.91 155.44 289.59M98.39 174.79Q97.6 224.06 72.03 266.19" stroke="#9a5a62" stroke-width="0.45" fill="none" opacity="0.45"/><path d="M126.5 163.1A69.3 69.3 0 1 1 126.49 163.1L126.49 166.8A65.6 65.6 0 1 0 126.5 166.8Z" fill="#fde9cf"/><rect x="-1.85" y="-1.85" width="3.7" height="3.7" fill="#fde9cf" transform="translate(128.39 164.98) rotate(1.61)"/><rect x="-1.85" y="-1.85" width="3.7" height="3.7" fill="#fde9cf" transform="translate(132.17 165.19) rotate(4.82)"/><rect x="-1.85" y="-1.85" width="3.7" height="3.7" fill="#fde9cf" transform="translate(135.93 165.61) rotate(8.04)"/><rect x="-1.85" y="-1.85" width="3.7" height="3.7" fill="#fde9cf" transform="translate(139.66 166.25) rotate(11.25)"/><rect x="-1.85" y="-1.85" width="3.7" height="3.7" fill="#fbd6aa" transform="translate(143.35 167.09) rotate(14.46)"/><rect x="-1.85" y="-1.85" width="3.7" height="3.7" fill="#fbd6aa" transform="translate(146.98 168.14) rotate(17.68)"/><rect x="-1.85" y="-1.85" width="3.7" height="3.7" fill="#f6b98a" transform="translate(150.55 169.38) rotate(20.89)"/><rect x="-1.85" y="-1.85" width="3.7" height="3.7" fill="#fde9cf" transform="translate(154.05 170.83) rotate(24.11)"/><rect x="-1.85" y="-1.85" width="3.7" height="3.7" fill="#fde9cf" transform="translate(157.46 172.47) rotate(27.32)"/><rect x="-1.85" y="-1.85" width="3.7" height="3.7" fill="#fde9cf" transform="translate(160.77 174.3) rotate(30.54)"/><rect x="-1.85" y="-1.85" width="3.7" height="3.7" fill="#fde9cf" transform="translate(163.97 176.32) rotate(33.75)"/><rect x="-1.85" y="-1.85" width="3.7" height="3.7" fill="#fde9cf" transform="translate(167.06 178.51) rotate(36.96)"/><rect x="-1.85" y="-1.85" width="3.7" height="3.7" fill="#fde9cf" transform="translate(170.02 180.87) rotate(40.18)"/><rect x="-1.85" y="-1.85" width="3.7" height="3.7" fill="#fde9cf" transform="translate(172.84 183.39) rotate(43.39)"/><rect x="-1.85" y="-1.85" width="3.7" height="3.7" fill="#fde9cf" transform="translate(175.51 186.06) rotate(46.61)"/><rect x="-1.85" y="-1.85" width="3.7" height="3.7" fill="#fde9cf" transform="translate(178.03 188.88) rotate(49.82)"/><rect x="-1.85" y="-1.85" width="3.7" height="3.7" fill="#ef8f5a" transform="translate(180.39 191.84) rotate(53.04)"/><rect x="-1.85" y="-1.85" width="3.7" height="3.7" fill="#f6b98a" transform="translate(182.58 194.93) rotate(56.25)"/><rect x="-1.85" y="-1.85" width="3.7" height="3.7" fill="#f6b98a" transform="translate(184.6 198.13) rotate(59.46)"/><rect x="-1.85" y="-1.85" width="3.7" height="3.7" fill="#ef8f5a" transform="translate(186.43 201.44) rotate(62.68)"/><rect x="-1.85" y="-1.85" width="3.7" height="3.7" fill="#ef8f5a" transform="translate(188.07 204.85) rotate(65.89)"/><rect x="-1.85" y="-1.85" width="3.7" height="3.7" fill="#fde9cf" transform="translate(189.52 208.35) rotate(69.11)"/><rect x="-1.85" y="-1.85" width="3.7" height="3.7" fill="#fbd6aa" transform="translate(190.76 211.92) rotate(72.32)"/><rect x="-1.85" y="-1.85" width="3.7" height="3.7" fill="#fde9cf" transform="translate(191.81 215.55) rotate(75.54)"/><rect x="-1.85" y="-1.85" width="3.7" height="3.7" fill="#fbd6aa" transform="translate(192.65 219.24) rotate(78.75)"/><rect x="-1.85" y="-1.85" width="3.7" height="3.7" fill="#fde9cf" transform="translate(193.29 222.97) rotate(81.96)"/><rect x="-1.85" y="-1.85" width="3.7" height="3.7" fill="#fde9cf" transform="translate(193.71 226.73) rotate(85.18)"/><rect x="-1.85" y="-1.85" width="3.7" height="3.7" fill="#fde9cf" transform="translate(193.92 230.51) rotate(88.39)"/><rect x="-1.85" y="-1.85" width="3.7" height="3.7" fill="#ef8f5a" transform="translate(193.92 234.29) rotate(91.61)"/><rect x="-1.85" y="-1.85" width="3.7" height="3.7" fill="#fde9cf" transform="translate(193.71 238.07) rotate(94.82)"/><rect x="-1.85" y="-1.85" width="3.7" height="3.7" fill="#fbd6aa" transform="translate(193.29 241.83) rotate(98.04)"/><rect x="-1.85" y="-1.85" width="3.7" height="3.7" fill="#fde9cf" transform="translate(192.65 245.56) rotate(101.25)"/><rect x="-1.85" y="-1.85" width="3.7" height="3.7" fill="#fde9cf" transform="translate(191.81 249.25) rotate(104.46)"/><rect x="-1.85" y="-1.85" width="3.7" height="3.7" fill="#f6b98a" transform="translate(190.76 252.88) rotate(107.68)"/><rect x="-1.85" y="-1.85" width="3.7" height="3.7" fill="#fde9cf" transform="translate(189.52 256.45) rotate(110.89)"/><rect x="-1.85" y="-1.85" width="3.7" height="3.7" fill="#fde9cf" transform="translate(188.07 259.95) rotate(114.11)"/><rect x="-1.85" y="-1.85" width="3.7" height="3.7" fill="#fbd6aa" transform="translate(186.43 263.36) rotate(117.32)"/><rect x="-1.85" y="-1.85" width="3.7" height="3.7" fill="#fde9cf" transform="translate(184.6 266.67) rotate(120.54)"/><rect x="-1.85" y="-1.85" width="3.7" height="3.7" fill="#fde9cf" transform="translate(182.58 269.87) rotate(123.75)"/><rect x="-1.85" y="-1.85" width="3.7" height="3.7" fill="#fbd6aa" transform="translate(180.39 272.96) rotate(126.96)"/><rect x="-1.85" y="-1.85" width="3.7" height="3.7" fill="#fde9cf" transform="translate(178.03 275.92) rotate(130.18)"/><rect x="-1.85" y="-1.85" width="3.7" height="3.7" fill="#fde9cf" transform="translate(175.51 278.74) rotate(133.39)"/><rect x="-1.85" y="-1.85" width="3.7" height="3.7" fill="#fde9cf" transform="translate(172.84 281.41) rotate(136.61)"/><rect x="-1.85" y="-1.85" width="3.7" height="3.7" fill="#fde9cf" transform="translate(170.02 283.93) rotate(139.82)"/><rect x="-1.85" y="-1.85" width="3.7" height="3.7" fill="#fde9cf" transform="translate(167.06 286.29) rotate(143.04)"/><rect x="-1.85" y="-1.85" width="3.7" height="3.7" fill="#fde9cf" transform="translate(163.97 288.48) rotate(146.25)"/><rect x="-1.85" y="-1.85" width="3.7" height="3.7" fill="#fde9cf" transform="translate(160.77 290.5) rotate(149.46)"/><rect x="-1.85" y="-1.85" width="3.7" height="3.7" fill="#fde9cf" transform="translate(157.46 292.33) rotate(152.68)"/><rect x="-1.85" y="-1.85" width="3.7" height="3.7" fill="#f6b98a" transform="translate(154.05 293.97) rotate(155.89)"/><rect x="-1.85" y="-1.85" width="3.7" height="3.7" fill="#fde9cf" transform="translate(150.55 295.42) rotate(159.11)"/><rect x="-1.85" y="-1.85" width="3.7" height="3.7" fill="#fde9cf" transform="translate(146.98 296.66) rotate(162.32)"/><rect x="-1.85" y="-1.85" width="3.7" height="3.7" fill="#f6b98a" transform="translate(143.35 297.71) rotate(165.54)"/><rect x="-1.85" y="-1.85" width="3.7" height="3.7" fill="#fde9cf" transform="translate(139.66 298.55) rotate(168.75)"/><rect x="-1.85" y="-1.85" width="3.7" height="3.7" fill="#fde9cf" transform="translate(135.93 299.19) rotate(171.96)"/><rect x="-1.85" y="-1.85" width="3.7" height="3.7" fill="#fde9cf" transform="translate(132.17 299.61) rotate(175.18)"/><rect x="-1.85" y="-1.85" width="3.7" height="3.7" fill="#fde9cf" transform="translate(128.39 299.82) rotate(178.39)"/><rect x="-1.85" y="-1.85" width="3.7" height="3.7" fill="#fde9cf" transform="translate(124.61 299.82) rotate(181.61)"/><rect x="-1.85" y="-1.85" width="3.7" height="3.7" fill="#fde9cf" transform="translate(120.83 299.61) rotate(184.82)"/><rect x="-1.85" y="-1.85" width="3.7" height="3.7" fill="#fde9cf" transform="translate(117.07 299.19) rotate(188.04)"/><rect x="-1.85" y="-1.85" width="3.7" height="3.7" fill="#fde9cf" transform="translate(113.34 298.55) rotate(191.25)"/><rect x="-1.85" y="-1.85" width="3.7" height="3.7" fill="#fde9cf" transform="translate(109.65 297.71) rotate(194.46)"/><rect x="-1.85" y="-1.85" width="3.7" height="3.7" fill="#fde9cf" transform="translate(106.02 296.66) rotate(197.68)"/><rect x="-1.85" y="-1.85" width="3.7" height="3.7" fill="#fde9cf" transform="translate(102.45 295.42) rotate(200.89)"/><rect x="-1.85" y="-1.85" width="3.7" height="3.7" fill="#fde9cf" transform="translate(98.95 293.97) rotate(204.11)"/><rect x="-1.85" y="-1.85" width="3.7" height="3.7" fill="#fde9cf" transform="translate(95.54 292.33) rotate(207.32)"/><rect x="-1.85" y="-1.85" width="3.7" height="3.7" fill="#fde9cf" transform="translate(92.23 290.5) rotate(210.54)"/><rect x="-1.85" y="-1.85" width="3.7" height="3.7" fill="#fde9cf" transform="translate(89.03 288.48) rotate(213.75)"/><rect x="-1.85" y="-1.85" width="3.7" height="3.7" fill="#f6b98a" transform="translate(85.94 286.29) rotate(216.96)"/><rect x="-1.85" y="-1.85" width="3.7" height="3.7" fill="#fde9cf" transform="translate(82.98 283.93) rotate(220.18)"/><rect x="-1.85" y="-1.85" width="3.7" height="3.7" fill="#fbd6aa" transform="translate(80.16 281.41) rotate(223.39)"/><rect x="-1.85" y="-1.85" width="3.7" height="3.7" fill="#fbd6aa" transform="translate(77.49 278.74) rotate(226.61)"/><rect x="-1.85" y="-1.85" width="3.7" height="3.7" fill="#fde9cf" transform="translate(74.97 275.92) rotate(229.82)"/><rect x="-1.85" y="-1.85" width="3.7" height="3.7" fill="#e0623a" transform="translate(72.61 272.96) rotate(233.04)"/><rect x="-1.85" y="-1.85" width="3.7" height="3.7" fill="#fbd6aa" transform="translate(70.42 269.87) rotate(236.25)"/><rect x="-1.85" y="-1.85" width="3.7" height="3.7" fill="#fde9cf" transform="translate(68.4 266.67) rotate(239.46)"/><rect x="-1.85" y="-1.85" width="3.7" height="3.7" fill="#fbd6aa" transform="translate(66.57 263.36) rotate(242.68)"/><rect x="-1.85" y="-1.85" width="3.7" height="3.7" fill="#fde9cf" transform="translate(64.93 259.95) rotate(245.89)"/><rect x="-1.85" y="-1.85" width="3.7" height="3.7" fill="#fde9cf" transform="translate(63.48 256.45) rotate(249.11)"/><rect x="-1.85" y="-1.85" width="3.7" height="3.7" fill="#ef8f5a" transform="translate(62.24 252.88) rotate(252.32)"/><rect x="-1.85" y="-1.85" width="3.7" height="3.7" fill="#fde9cf" transform="translate(61.19 249.25) rotate(255.54)"/><rect x="-1.85" y="-1.85" width="3.7" height="3.7" fill="#fbd6aa" transform="translate(60.35 245.56) rotate(258.75)"/><rect x="-1.85" y="-1.85" width="3.7" height="3.7" fill="#fde9cf" transform="translate(59.71 241.83) rotate(261.96)"/><rect x="-1.85" y="-1.85" width="3.7" height="3.7" fill="#fbd6aa" transform="translate(59.29 238.07) rotate(265.18)"/><rect x="-1.85" y="-1.85" width="3.7" height="3.7" fill="#fde9cf" transform="translate(59.08 234.29) rotate(268.39)"/><rect x="-1.85" y="-1.85" width="3.7" height="3.7" fill="#fde9cf" transform="translate(59.08 230.51) rotate(271.61)"/><rect x="-1.85" y="-1.85" width="3.7" height="3.7" fill="#fde9cf" transform="translate(59.29 226.73) rotate(274.82)"/><rect x="-1.85" y="-1.85" width="3.7" height="3.7" fill="#fde9cf" transform="translate(59.71 222.97) rotate(278.04)"/><rect x="-1.85" y="-1.85" width="3.7" height="3.7" fill="#fde9cf" transform="translate(60.35 219.24) rotate(281.25)"/><rect x="-1.85" y="-1.85" width="3.7" height="3.7" fill="#fde9cf" transform="translate(61.19 215.55) rotate(284.46)"/><rect x="-1.85" y="-1.85" width="3.7" height="3.7" fill="#fde9cf" transform="translate(62.24 211.92) rotate(287.68)"/><rect x="-1.85" y="-1.85" width="3.7" height="3.7" fill="#fbd6aa" transform="translate(63.48 208.35) rotate(290.89)"/><rect x="-1.85" y="-1.85" width="3.7" height="3.7" fill="#fde9cf" transform="translate(64.93 204.85) rotate(294.11)"/><rect x="-1.85" y="-1.85" width="3.7" height="3.7" fill="#f6b98a" transform="translate(66.57 201.44) rotate(297.32)"/><rect x="-1.85" y="-1.85" width="3.7" height="3.7" fill="#fbd6aa" transform="translate(68.4 198.13) rotate(300.54)"/><rect x="-1.85" y="-1.85" width="3.7" height="3.7" fill="#f6b98a" transform="translate(70.42 194.93) rotate(303.75)"/><rect x="-1.85" y="-1.85" width="3.7" height="3.7" fill="#fde9cf" transform="translate(72.61 191.84) rotate(306.96)"/><rect x="-1.85" y="-1.85" width="3.7" height="3.7" fill="#f6b98a" transform="translate(74.97 188.88) rotate(310.18)"/><rect x="-1.85" y="-1.85" width="3.7" height="3.7" fill="#f6b98a" transform="translate(77.49 186.06) rotate(313.39)"/><rect x="-1.85" y="-1.85" width="3.7" height="3.7" fill="#fde9cf" transform="translate(80.16 183.39) rotate(316.61)"/><rect x="-1.85" y="-1.85" width="3.7" height="3.7" fill="#fbd6aa" transform="translate(82.98 180.87) rotate(319.82)"/><rect x="-1.85" y="-1.85" width="3.7" height="3.7" fill="#fde9cf" transform="translate(85.94 178.51) rotate(323.04)"/><rect x="-1.85" y="-1.85" width="3.7" height="3.7" fill="#fbd6aa" transform="translate(89.03 176.32) rotate(326.25)"/><rect x="-1.85" y="-1.85" width="3.7" height="3.7" fill="#fbd6aa" transform="translate(92.23 174.3) rotate(329.46)"/><rect x="-1.85" y="-1.85" width="3.7" height="3.7" fill="#fbd6aa" transform="translate(95.54 172.47) rotate(332.68)"/><rect x="-1.85" y="-1.85" width="3.7" height="3.7" fill="#fde9cf" transform="translate(98.95 170.83) rotate(335.89)"/><rect x="-1.85" y="-1.85" width="3.7" height="3.7" fill="#fde9cf" transform="translate(102.45 169.38) rotate(339.11)"/><rect x="-1.85" y="-1.85" width="3.7" height="3.7" fill="#fbd6aa" transform="translate(106.02 168.14) rotate(342.32)"/><rect x="-1.85" y="-1.85" width="3.7" height="3.7" fill="#ef8f5a" transform="translate(109.65 167.09) rotate(345.54)"/><rect x="-1.85" y="-1.85" width="3.7" height="3.7" fill="#fbd6aa" transform="translate(113.34 166.25) rotate(348.75)"/><rect x="-1.85" y="-1.85" width="3.7" height="3.7" fill="#fde9cf" transform="translate(117.07 165.61) rotate(351.96)"/><rect x="-1.85" y="-1.85" width="3.7" height="3.7" fill="#fde9cf" transform="translate(120.83 165.19) rotate(355.18)"/><rect x="-1.85" y="-1.85" width="3.7" height="3.7" fill="#fde9cf" transform="translate(124.61 164.98) rotate(358.39)"/><path d="M128.75 160.84L129.08 150.45M133.24 161.12L134.12 151.8M137.7 161.68L139.6 149.69M142.12 162.52L144.05 153.87M146.48 163.64L149.23 154.16M150.75 165.03L154.67 154.14M154.94 166.69L159.63 155.84M159.01 168.6L163.91 158.98M162.95 170.77L167.64 162.83M166.75 173.18L172.51 164.7M170.38 175.82L177.83 166.23M173.85 178.69L182.13 169.3M177.13 181.77L185.72 173.18M180.21 185.05L187.24 178.85M183.08 188.52L192.44 181.25M185.72 192.15L194.29 186.33M188.13 195.95L197.97 190.13M190.3 199.89L199.05 195.43M192.21 203.96L202.37 199.57M193.87 208.15L205.17 204.08M195.26 212.42L203.97 209.89M196.38 216.78L206.55 214.51M197.22 221.2L206.92 219.66M197.78 225.66L207.08 224.78M198.06 230.15L206.83 229.88M198.06 234.65L210.6 235.04M197.78 239.14L208.95 240.19M197.22 243.6L209.06 245.48M196.38 248.02L206.7 250.33M195.26 252.38L203.98 254.91M193.87 256.65L202.69 259.83M192.21 260.84L203.64 265.78M190.3 264.91L200.87 270.29M188.13 268.85L196.13 273.58M185.72 272.65L193.87 278.19M183.08 276.28L191.78 283.04M180.21 279.75L188.22 286.81M177.13 283.03L185.59 291.49M173.85 286.11L179.93 293M170.38 288.98L177.13 297.68M166.75 291.62L171.85 299.13M162.95 294.03L168.11 302.75M159.01 296.2L164.59 307.15M154.94 298.11L159.41 308.46M150.75 299.77L154.73 310.8M146.48 301.16L148.99 309.8M142.12 302.28L144.35 312.25M137.7 303.12L139.64 315.39M133.24 303.68L134.36 315.55M128.75 303.96L129.1 315.1M124.25 303.96L123.91 314.67M119.76 303.68L118.8 313.91M115.3 303.12L113.57 314.02M110.88 302.28L108.44 313.18M106.52 301.16L103.02 313.23M102.25 299.77L98.77 309.43M98.06 298.11L93.59 308.44M93.99 296.2L88.31 307.35M90.05 294.03L84.58 303.28M86.25 291.62L81.41 298.75M82.62 288.98L75.01 298.79M79.15 286.11L71.21 295.12M75.87 283.03L68.87 290.03M72.79 279.75L64.17 287.36M69.92 276.28L60.84 283.33M67.28 272.65L58.53 278.59M64.87 268.85L54.94 274.72M62.7 264.91L53.52 269.58M60.79 260.84L51.18 264.99M59.13 256.65L50.91 259.61M57.74 252.38L49.48 254.77M56.62 248.02L44.46 250.74M55.78 243.6L45.57 245.22M55.22 239.14L45.77 240.03M54.94 234.65L45.86 234.93M54.94 230.15L45.46 229.85M55.22 225.66L45.22 224.72M55.78 221.2L45.86 219.63M56.62 216.78L45.76 214.35M57.74 212.42L46.73 209.23M59.13 208.15L50.29 204.96M60.79 203.96L52.45 200.36M62.7 199.89L54.85 195.89M64.87 195.95L56.39 190.94M67.28 192.15L57.87 185.76M69.92 188.52L62.4 182.68M72.79 185.05L65.58 178.69M75.87 181.77L68.41 174.31M79.15 178.69L72.51 171.16M82.62 175.82L75.76 166.99M86.25 173.18L80.42 164.6M90.05 170.77L84.47 161.33M93.99 168.6L88.38 157.59M98.06 166.69L93.6 156.37M102.25 165.03L98.42 154.4M106.52 163.64L104.12 155.37M110.88 162.52L108.56 152.12M115.3 161.68L113.56 150.7M119.76 161.12L118.67 149.55M124.25 160.84L123.88 149.19" stroke="#4a4a4a" stroke-width="1.9" fill="none" opacity="0.8" stroke-dasharray="1.3 0.5"/><circle cx="128.51" cy="168.33" r="1.6" fill="#0d0d0d"/><circle cx="132.53" cy="168.58" r="1.6" fill="#0d0d0d"/><circle cx="136.53" cy="169.09" r="1.6" fill="#0d0d0d"/><circle cx="140.48" cy="169.84" r="1.6" fill="#0d0d0d"/><circle cx="144.38" cy="170.85" r="1.6" fill="#0d0d0d"/><circle cx="148.21" cy="172.09" r="1.6" fill="#0d0d0d"/><circle cx="151.96" cy="173.57" r="1.6" fill="#0d0d0d"/><circle cx="155.6" cy="175.29" r="1.6" fill="#0d0d0d"/><circle cx="159.13" cy="177.23" r="1.6" fill="#0d0d0d"/><circle cx="162.53" cy="179.38" r="1.6" fill="#0d0d0d"/><circle cx="165.79" cy="181.75" r="1.6" fill="#0d0d0d"/><circle cx="168.89" cy="184.32" r="1.6" fill="#0d0d0d"/><circle cx="171.83" cy="187.07" r="1.6" fill="#0d0d0d"/><circle cx="174.58" cy="190.01" r="1.6" fill="#0d0d0d"/><circle cx="177.15" cy="193.11" r="1.6" fill="#0d0d0d"/><circle cx="179.52" cy="196.37" r="1.6" fill="#0d0d0d"/><circle cx="181.67" cy="199.77" r="1.6" fill="#0d0d0d"/><circle cx="183.61" cy="203.3" r="1.6" fill="#0d0d0d"/><circle cx="185.33" cy="206.94" r="1.6" fill="#0d0d0d"/><circle cx="186.81" cy="210.69" r="1.6" fill="#0d0d0d"/><circle cx="188.05" cy="214.52" r="1.6" fill="#0d0d0d"/><circle cx="189.06" cy="218.42" r="1.6" fill="#0d0d0d"/><circle cx="189.81" cy="222.37" r="1.6" fill="#0d0d0d"/><circle cx="190.32" cy="226.37" r="1.6" fill="#0d0d0d"/><circle cx="190.57" cy="230.39" r="1.6" fill="#0d0d0d"/><circle cx="190.57" cy="234.41" r="1.6" fill="#0d0d0d"/><circle cx="190.32" cy="238.43" r="1.6" fill="#0d0d0d"/><circle cx="189.81" cy="242.43" r="1.6" fill="#0d0d0d"/><circle cx="189.06" cy="246.38" r="1.6" fill="#0d0d0d"/><circle cx="188.05" cy="250.28" r="1.6" fill="#0d0d0d"/><circle cx="186.81" cy="254.11" r="1.6" fill="#0d0d0d"/><circle cx="185.33" cy="257.86" r="1.6" fill="#0d0d0d"/><circle cx="183.61" cy="261.5" r="1.6" fill="#0d0d0d"/><circle cx="181.67" cy="265.03" r="1.6" fill="#0d0d0d"/><circle cx="179.52" cy="268.43" r="1.6" fill="#0d0d0d"/><circle cx="177.15" cy="271.69" r="1.6" fill="#0d0d0d"/><circle cx="174.58" cy="274.79" r="1.6" fill="#0d0d0d"/><circle cx="171.83" cy="277.73" r="1.6" fill="#0d0d0d"/><circle cx="168.89" cy="280.48" r="1.6" fill="#0d0d0d"/><circle cx="165.79" cy="283.05" r="1.6" fill="#0d0d0d"/><circle cx="162.53" cy="285.42" r="1.6" fill="#0d0d0d"/><circle cx="159.13" cy="287.57" r="1.6" fill="#0d0d0d"/><circle cx="155.6" cy="289.51" r="1.6" fill="#0d0d0d"/><circle cx="151.96" cy="291.23" r="1.6" fill="#0d0d0d"/><circle cx="148.21" cy="292.71" r="1.6" fill="#0d0d0d"/><circle cx="144.38" cy="293.95" r="1.6" fill="#0d0d0d"/><circle cx="140.48" cy="294.96" r="1.6" fill="#0d0d0d"/><circle cx="136.53" cy="295.71" r="1.6" fill="#0d0d0d"/><circle cx="132.53" cy="296.22" r="1.6" fill="#0d0d0d"/><circle cx="128.51" cy="296.47" r="1.6" fill="#0d0d0d"/><circle cx="124.49" cy="296.47" r="1.6" fill="#0d0d0d"/><circle cx="120.47" cy="296.22" r="1.6" fill="#0d0d0d"/><circle cx="116.47" cy="295.71" r="1.6" fill="#0d0d0d"/><circle cx="112.52" cy="294.96" r="1.6" fill="#0d0d0d"/><circle cx="108.62" cy="293.95" r="1.6" fill="#0d0d0d"/><circle cx="104.79" cy="292.71" r="1.6" fill="#0d0d0d"/><circle cx="101.04" cy="291.23" r="1.6" fill="#0d0d0d"/><circle cx="97.4" cy="289.51" r="1.6" fill="#0d0d0d"/><circle cx="93.87" cy="287.57" r="1.6" fill="#0d0d0d"/><circle cx="90.47" cy="285.42" r="1.6" fill="#0d0d0d"/><circle cx="87.21" cy="283.05" r="1.6" fill="#0d0d0d"/><circle cx="84.11" cy="280.48" r="1.6" fill="#0d0d0d"/><circle cx="81.17" cy="277.73" r="1.6" fill="#0d0d0d"/><circle cx="78.42" cy="274.79" r="1.6" fill="#0d0d0d"/><circle cx="75.85" cy="271.69" r="1.6" fill="#0d0d0d"/><circle cx="73.48" cy="268.43" r="1.6" fill="#0d0d0d"/><circle cx="71.33" cy="265.03" r="1.6" fill="#0d0d0d"/><circle cx="69.39" cy="261.5" r="1.6" fill="#0d0d0d"/><circle cx="67.67" cy="257.86" r="1.6" fill="#0d0d0d"/><circle cx="66.19" cy="254.11" r="1.6" fill="#0d0d0d"/><circle cx="64.95" cy="250.28" r="1.6" fill="#0d0d0d"/><circle cx="63.94" cy="246.38" r="1.6" fill="#0d0d0d"/><circle cx="63.19" cy="242.43" r="1.6" fill="#0d0d0d"/><circle cx="62.68" cy="238.43" r="1.6" fill="#0d0d0d"/><circle cx="62.43" cy="234.41" r="1.6" fill="#0d0d0d"/><circle cx="62.43" cy="230.39" r="1.6" fill="#0d0d0d"/><circle cx="62.68" cy="226.37" r="1.6" fill="#0d0d0d"/><circle cx="63.19" cy="222.37" r="1.6" fill="#0d0d0d"/><circle cx="63.94" cy="218.42" r="1.6" fill="#0d0d0d"/><circle cx="64.95" cy="214.52" r="1.6" fill="#0d0d0d"/><circle cx="66.19" cy="210.69" r="1.6" fill="#0d0d0d"/><circle cx="67.67" cy="206.94" r="1.6" fill="#0d0d0d"/><circle cx="69.39" cy="203.3" r="1.6" fill="#0d0d0d"/><circle cx="71.33" cy="199.77" r="1.6" fill="#0d0d0d"/><circle cx="73.48" cy="196.37" r="1.6" fill="#0d0d0d"/><circle cx="75.85" cy="193.11" r="1.6" fill="#0d0d0d"/><circle cx="78.42" cy="190.01" r="1.6" fill="#0d0d0d"/><circle cx="81.17" cy="187.07" r="1.6" fill="#0d0d0d"/><circle cx="84.11" cy="184.32" r="1.6" fill="#0d0d0d"/><circle cx="87.21" cy="181.75" r="1.6" fill="#0d0d0d"/><circle cx="90.47" cy="179.38" r="1.6" fill="#0d0d0d"/><circle cx="93.87" cy="177.23" r="1.6" fill="#0d0d0d"/><circle cx="97.4" cy="175.29" r="1.6" fill="#0d0d0d"/><circle cx="101.04" cy="173.57" r="1.6" fill="#0d0d0d"/><circle cx="104.79" cy="172.09" r="1.6" fill="#0d0d0d"/><circle cx="108.62" cy="170.85" r="1.6" fill="#0d0d0d"/><circle cx="112.52" cy="169.84" r="1.6" fill="#0d0d0d"/><circle cx="116.47" cy="169.09" r="1.6" fill="#0d0d0d"/><circle cx="120.47" cy="168.58" r="1.6" fill="#0d0d0d"/><circle cx="124.49" cy="168.33" r="1.6" fill="#0d0d0d"/><text x="0.9" y="13.8" font-size="17.5">A</text><text x="218.6" y="170.8" font-size="10.9" textLength="38.5" lengthAdjust="spacingAndGlyphs" fill="#1a1a1a" stroke="#1a1a1a" stroke-width="0.25">Fibrosis</text><circle cx="222.3" cy="179.6" r="3.1" fill="#8b1a1a"/><text x="229.6" y="181.79999999999998" font-size="6.2" font-weight="bold" fill="#111" textLength="9" lengthAdjust="spacingAndGlyphs">Pro</text><circle cx="222.3" cy="193" r="3.1" fill="#4f8ac5"/><text x="229.6" y="195.2" font-size="6.2" font-weight="bold" fill="#111" textLength="10.5" lengthAdjust="spacingAndGlyphs">Anti</text><circle cx="222.3" cy="206.4" r="3.1" fill="#000"/><text x="229.6" y="208.6" font-size="6.2" font-weight="bold" fill="#111" textLength="47.5" lengthAdjust="spacingAndGlyphs">Both(Pro/Anti)</text><text x="218.6" y="234.3" font-size="10.9" textLength="56" lengthAdjust="spacingAndGlyphs" fill="#1a1a1a" stroke="#1a1a1a" stroke-width="0.25">Interaction</text><defs><linearGradient id="gA" x1="0" y1="0" x2="0" y2="1"><stop offset="0" stop-color="#7f0000"/><stop offset="0.3" stop-color="#c8261c"/><stop offset="0.6" stop-color="#f08050"/><stop offset="0.85" stop-color="#fbd09a"/><stop offset="1" stop-color="#fff8ec"/></linearGradient></defs><rect x="219.8" y="240.8" width="9.6" height="60" fill="url(#gA)" stroke="#888" stroke-width="0.3"/><line x1="229.4" y1="241" x2="231" y2="241" stroke="#555" stroke-width="0.4"/><text x="231.5" y="242.4" font-size="4" font-weight="bold" fill="#444">60</text><line x1="229.4" y1="261.5" x2="231" y2="261.5" stroke="#555" stroke-width="0.4"/><text x="231.5" y="262.9" font-size="4" font-weight="bold" fill="#444">40</text><line x1="229.4" y1="281" x2="231" y2="281" stroke="#555" stroke-width="0.4"/><text x="231.5" y="282.4" font-size="4" font-weight="bold" fill="#444">20</text><line x1="229.4" y1="300.8" x2="231" y2="300.8" stroke="#555" stroke-width="0.4"/><text x="231.5" y="302.2" font-size="4" font-weight="bold" fill="#444">0</text><path d="M391.72 143.46A70.8 70.8 0 1 1 391.72 7.34L388.74 17.72A60 60 0 1 0 388.74 133.08Z" fill="#4282c0"/><path d="M392.07 7.45A70.8 70.8 0 0 1 392.07 143.35L390.47 137.88A65.1 65.1 0 0 0 390.47 12.92Z" fill="#f6a81a"/><path d="M390.6 13.27A64.8 64.8 0 0 1 433.83 55.38L429.26 56.86A60 60 0 0 0 389.24 17.87Z" fill="#0a0a0a"/><path d="M434.03 56.02A64.8 64.8 0 0 1 428.09 108.19L423.95 105.76A60 60 0 0 0 429.45 57.46Z" fill="#23935f"/><path d="M427.74 108.77A64.8 64.8 0 0 1 390.6 137.53L389.24 132.93A60 60 0 0 0 423.63 106.3Z" fill="#8b1010"/><text x="306.6" y="75.4" font-size="5.6" fill="#fff" font-weight="bold" text-anchor="middle" dominant-baseline="central" transform="rotate(-90 306.6 75.4)" textLength="10" lengthAdjust="spacingAndGlyphs">TFs</text><text x="440.2" y="75.4" font-size="3.2" fill="#fff" font-weight="bold" text-anchor="middle" dominant-baseline="central" transform="rotate(90 440.2 75.4)" textLength="8.5" lengthAdjust="spacingAndGlyphs">FRGs</text><text x="415.55" y="30.51" font-size="2.4" fill="#fff" font-weight="bold" text-anchor="middle" dominant-baseline="central" transform="rotate(44 415.55 30.51)" textLength="6" lengthAdjust="spacingAndGlyphs">Both</text><text x="434.26" y="81.92" font-size="2.4" fill="#fff" font-weight="bold" text-anchor="middle" dominant-baseline="central" transform="rotate(-84 434.26 81.92)" textLength="5" lengthAdjust="spacingAndGlyphs">Anti</text><text x="410.62" y="124.57" font-size="2.4" fill="#fff" font-weight="bold" text-anchor="middle" dominant-baseline="central" transform="rotate(-38 410.62 124.57)" textLength="4.5" lengthAdjust="spacingAndGlyphs">Pro</text><path d="M382.88 118.6Q373.9 89.38 367.18 78.8M382.88 118.6Q379.89 86.97 387.15 70.78M382.88 118.6Q373.61 88.18 366.24 74.81M379.65 119.27Q377.53 91.53 382.5 85.28M379.65 119.27Q372.95 85.07 367.26 63.76M379.65 119.27Q378.14 89.84 384.55 79.67M376.39 119.7Q379.4 91.34 392 84.24M376.39 119.7Q374.98 87.95 377.28 72.93M376.39 119.7Q382.2 87.91 401.33 72.8M373.1 119.89Q372.15 85.67 371.14 65.15M373.1 119.89Q374.53 89.14 379.06 76.71M373.1 119.89Q373.34 88.58 375.1 74.84M369.81 119.84Q374.02 90.6 380.66 81.63M369.81 119.84Q376.24 89.3 388.07 77.29M369.81 119.84Q368.45 90.63 362.09 81.72M366.53 119.54Q368.47 88.18 365.42 73.86M366.53 119.54Q368.32 88.65 364.94 75.42M366.53 119.54Q370.2 89.22 371.19 77.32M363.28 119Q380.24 88.35 407.9 74.96M363.28 119Q373.6 84.91 385.78 63.49M363.28 119Q370.55 90.27 375.61 81.36M360.08 118.22Q370.11 89.25 377.37 78.73M360.08 118.22Q370.64 85.53 379.13 66.34M360.08 118.22Q371.89 86.05 383.27 68.09M356.95 117.21Q374.48 86.58 395.05 70.85M356.95 117.21Q371.28 87.95 384.37 75.42M356.95 117.21Q372 86.32 386.77 69.98M353.9 115.96Q371.21 87.23 387.19 74.28M353.9 115.96Q371.92 89.25 389.57 81.02M353.9 115.96Q368.89 85.46 379.47 68.38M350.95 114.5Q369.7 88.39 385.11 79.61M350.95 114.5Q372.06 86.11 392.98 72.01M350.95 114.5Q369.12 88.5 383.19 79.97M348.12 112.82Q367.54 87.19 380.75 77.28M348.12 112.82Q367.27 85.01 379.84 70.01M348.12 112.82Q364.04 85.56 369.07 71.83M345.42 110.94Q367.56 90.14 383.52 89M345.42 110.94Q368.6 88.91 386.99 84.88M345.42 110.94Q368.06 87.95 385.2 81.69M342.86 108.86Q365.69 87.52 379.85 82.34M342.86 108.86Q369.99 84.55 394.16 72.45M342.86 108.86Q363.33 90.73 371.96 93.04M340.47 106.6Q365.14 87.38 380.4 84.14M340.47 106.6Q366.84 81.69 386.06 65.18M340.47 106.6Q371.05 89.56 400.1 91.38M338.25 104.17Q364.29 86.06 379.79 82.17M338.25 104.17Q364.16 81.64 379.34 67.44M338.25 104.17Q363.51 85.04 377.19 78.77M336.22 101.58Q366.22 85.17 388.24 81.78M336.22 101.58Q363.37 86.91 378.74 87.59M336.22 101.58Q361.15 85.4 371.35 82.54M334.38 98.85Q365.66 81.65 388.21 72.77M334.38 98.85Q357.82 79.99 362.08 67.24M334.38 98.85Q363.29 83.86 380.33 80.15M332.75 95.99Q366.35 78.87 392.13 66.36M332.75 95.99Q362.17 83.33 378.22 81.24M332.75 95.99Q361.74 75.18 376.78 54.07M331.34 93.02Q363.92 86.93 385.46 96.21M331.34 93.02Q364.45 78.21 387.24 67.14M331.34 93.02Q360.63 81.28 374.49 77.4M330.14 89.95Q368.1 81.43 400.6 80.96M330.14 89.95Q361.69 83.97 379.22 89.42M330.14 89.95Q361.16 84.79 377.46 92.15M329.18 86.8Q359.25 77.54 372.03 71.13M329.18 86.8Q363.04 82.66 384.69 88.22M329.18 86.8Q362.86 79.63 384.09 78.11M328.46 83.59Q355.96 75.93 361.81 68.98M328.46 83.59Q359.23 76.41 372.7 70.6M328.46 83.59Q362.46 76.95 383.48 72.38M327.97 80.33Q362.86 77.1 385.29 76.14M327.97 80.33Q359.83 77.2 375.2 76.46M327.97 80.33Q361.89 79.2 382.06 83.12M327.73 77.05Q359.37 75.27 373.9 73.31M327.73 77.05Q356.98 80.22 365.93 89.83M327.73 77.05Q364.58 75.41 391.27 73.79M327.73 73.75Q359.37 71.57 373.89 64.28M327.73 73.75Q361.12 75.46 379.73 77.26M327.73 73.75Q366.55 75.57 397.84 77.62M327.97 70.47Q358.63 67.32 371.2 53.4M327.97 70.47Q364.54 74.43 390.88 77.1M327.97 70.47Q356.39 74.41 363.72 77.02M328.46 67.21Q356.53 82.34 363.72 106.72M328.46 67.21Q363.9 74.49 388.27 80.55M328.46 67.21Q360.41 67.17 376.62 56.14M329.18 64Q360.75 67.78 377.06 61.41M329.18 64Q362.71 66.21 383.57 56.15M329.18 64Q358.64 75.27 370.03 86.38M330.14 60.85Q365.82 67.85 392.99 64.77M330.14 60.85Q357.24 73.41 364.39 83.31M330.14 60.85Q363.69 68.37 385.88 66.52M331.34 57.78Q359.87 68.24 371.95 69.15M331.34 57.78Q358.53 68.28 367.5 69.28M331.34 57.78Q365.12 71.98 389.46 81.61M332.75 54.81Q367.72 68.99 396.71 74.62M332.75 54.81Q361.8 66.57 376.98 66.56M332.75 54.81Q361.83 65.68 377.09 63.58M334.38 51.95Q357.85 70.25 362.2 81.67M334.38 51.95Q366.54 70.62 391.16 82.93M334.38 51.95Q366.25 69.05 390.19 77.67M336.22 49.22Q361.27 67.78 371.74 76.18M336.22 49.22Q362.2 64.54 374.83 65.4M336.22 49.22Q358.64 63.54 362.97 62.06M338.25 46.63Q363.8 67.18 378.15 76.76M338.25 46.63Q362.53 70.63 373.93 88.26M338.25 46.63Q364.3 68.34 379.81 80.65M340.47 44.2Q367.77 63.83 389.17 68.02M340.47 44.2Q359.16 68.07 360.47 82.17M340.47 44.2Q362.62 69.58 372 87.2M342.86 41.94Q366.11 68.08 381.24 84.46M342.86 41.94Q367.26 59.74 385.07 56.67M342.86 41.94Q367.14 63.54 384.67 69.34M345.42 39.86Q363.92 63.56 371.4 71.48M345.42 39.86Q368.04 67.13 385.11 83.36M345.42 39.86Q368.7 60.26 387.3 60.46M348.12 37.98Q365.18 57.76 372.88 54.02M348.12 37.98Q366.5 65.79 377.28 80.8M348.12 37.98Q364.71 64.83 371.32 77.6M350.95 36.3Q368.25 66.39 380.28 84.47M350.95 36.3Q365.41 61.43 370.81 67.94M350.95 36.3Q365.56 68.4 371.33 91.17M353.9 34.84Q371.46 62.9 388.02 74.29M353.9 34.84Q369.12 63.54 380.23 76.43M353.9 34.84Q369.06 62.67 380.03 73.52M356.95 33.59Q368.52 59.47 375.19 64.09M356.95 33.59Q367.69 67.31 372.42 90.25M356.95 33.59Q370.87 63.03 383.03 75.98M360.08 32.58Q369.79 62.72 376.27 75.96M360.08 32.58Q371.32 60.81 381.38 69.59M360.08 32.58Q370.9 63.2 379.97 77.56M363.28 31.8Q369.3 60.19 371.46 68.3M363.28 31.8Q368.63 59.45 369.21 65.83M363.28 31.8Q373.73 55.95 386.21 54.16M366.53 31.26Q371.58 60.51 375.8 69.9M366.53 31.26Q370.63 62.42 372.62 76.28M366.53 31.26Q375.34 62.37 388.35 76.09M369.81 30.96Q372.9 60.42 376.94 69.89M369.81 30.96Q372.93 64.53 377.04 83.61M369.81 30.96Q372.22 58.97 374.65 65.08M373.1 30.91Q370.86 59.06 366.82 65.44M373.1 30.91Q370.52 65.02 365.69 85.29M373.1 30.91Q375.23 61.41 381.4 73.26M376.39 31.1Q379.2 60.33 391.34 69.48M376.39 31.1Q377.29 64.27 384.98 82.61M376.39 31.1Q371.08 57.91 364.28 61.39M379.65 31.53Q373.73 64.69 369.85 83.56M379.65 31.53Q379.74 58.92 389.86 64.35M379.65 31.53Q379.07 61.2 387.64 71.95M382.88 32.2Q376.14 60.95 374.66 70.44M382.88 32.2Q376.33 57.53 375.28 59.04M382.88 32.2Q374.5 59.1 369.19 64.28" stroke="#444" stroke-width="0.42" fill="none" opacity="0.5"/><path d="M386.31 33.2Q379.86 67.13 383.63 90.02M386.31 33.2Q384.57 62.03 399.32 73.04M386.31 33.2Q375.22 61.88 368.15 72.55M386.31 33.2Q376.86 66.9 373.63 89.28M389.19 34.27Q380.9 61.53 384.2 70.3M389.19 34.27Q381.66 64.19 386.75 79.15M389.19 34.27Q376.28 61.95 368.82 71.68M389.19 34.27Q379.19 63.1 378.52 75.53M391.99 35.54Q380.82 62.73 381.12 73.03M391.99 35.54Q380.94 62.21 381.53 71.3M391.99 35.54Q378.66 66.63 373.92 86.01M391.99 35.54Q381.29 64.36 382.72 78.47M394.7 37.01Q378 63.53 369.04 74.24M394.7 37.01Q383.07 61.17 385.93 66.36M394.7 37.01Q383.66 63.06 387.88 72.67M394.7 37.01Q382.2 63.6 383.02 74.47M397.3 38.66Q382.59 66.9 381.73 83.82M397.3 38.66Q381.28 67.66 377.38 86.35M397.3 38.66Q380.49 62.42 374.73 68.88M397.3 38.66Q383.62 62.14 385.18 67.94M399.78 40.48Q382.1 66.83 377.61 81.75M399.78 40.48Q385.42 61.2 388.67 62.98M399.78 40.48Q383.94 68.88 383.74 88.59M399.78 40.48Q385.38 64.42 388.56 73.72M402.13 42.47Q382.32 64.9 376 73.32M402.13 42.47Q381.16 64.97 372.13 73.55M402.13 42.47Q383.19 65.21 378.89 74.38M402.13 42.47Q386.06 65.04 388.48 73.79M404.34 44.62Q381.18 68.37 370 82.76M404.34 44.62Q381.99 65.23 372.69 72.27M404.34 44.62Q383.96 65.44 379.26 72.99M404.34 44.62Q382.13 65.64 373.18 73.66M406.39 46.91Q389.44 65.58 395.49 71.15M406.39 46.91Q384.57 69.21 379.25 83.27M406.39 46.91Q386.42 68.46 385.41 80.74M406.39 46.91Q386.67 62.72 386.24 61.62M408.27 49.34Q383.61 67.85 374.15 76.3M408.27 49.34Q386.47 70.3 383.69 84.46M408.27 49.34Q386.41 67.08 383.49 73.73M408.27 49.34Q385.5 67.14 380.48 73.92M409.99 51.9Q386.46 69.77 381.93 80.12M409.99 51.9Q385.22 66.64 377.82 69.7M409.99 51.9Q384.14 70.65 374.22 83.08M409.99 51.9Q388.63 70.43 389.17 82.35M411.52 54.57Q388.2 70.9 386.2 81.23M411.52 54.57Q386.39 70.54 380.18 80.05M411.52 54.57Q384.19 68.72 372.84 73.98M411.52 54.57Q384.86 70.68 375.06 80.49M412.87 57.34Q385.58 69.75 376.14 74.64M412.87 57.34Q387.64 72.83 383 84.88M412.87 57.34Q385.14 68.01 374.66 68.83M412.87 57.34Q388.52 67.66 385.92 67.66M414.02 60.19Q388.1 69.64 383.37 71.41M414.02 60.19Q386.92 67.01 379.46 62.65M414.02 60.19Q388.64 69.79 385.19 71.9M414.02 60.19Q385.26 75.2 373.91 89.94" stroke="#111" stroke-width="0.5" fill="none" opacity="0.7"/><path d="M409.55 99.59Q387.3 90.03 385.18 99.96M409.55 99.59Q386.66 81.93 383.06 72.96M409.55 99.59Q386.03 86.03 380.95 86.65M409.55 99.59Q385.75 83.6 380.01 78.56M407.83 102.05Q386.38 81.48 383.82 69.03M407.83 102.05Q385.56 82.34 381.1 71.88M407.83 102.05Q382.67 85.23 371.48 81.5M407.83 102.05Q386.69 83.55 384.86 75.92M405.96 104.39Q382.82 79.89 373.85 61.36M405.96 104.39Q385.75 83.89 383.6 74.72M405.96 104.39Q381.19 83.97 368.41 74.98M405.96 104.39Q381.53 84.04 369.55 75.21M403.93 106.6Q384.42 85.51 381.2 77.88M403.93 106.6Q384.57 85.12 381.72 76.6M403.93 106.6Q381.72 83.96 372.22 72.71M403.93 106.6Q383.04 84.27 376.62 73.75M401.75 108.67Q384.03 86.68 382.09 79.73M401.75 108.67Q386.9 79.99 391.65 57.42M401.75 108.67Q384.31 84.96 383.01 74.01M401.75 108.67Q388.25 87.34 396.13 81.93M399.44 110.59Q379.3 86.8 368.63 78.21M399.44 110.59Q381.68 88.04 376.56 82.36M399.44 110.59Q380.56 85.74 372.81 74.69M399.44 110.59Q382.5 85.75 379.28 74.72M397.01 112.34Q380.82 82.62 376.11 62.53M397.01 112.34Q383.01 88.58 383.42 82.39M397.01 112.34Q381.9 84.35 379.72 68.28M397.01 112.34Q382.47 87.67 381.62 79.36M394.47 113.93Q380.91 86.93 378.97 75.3M394.47 113.93Q384.24 84.61 390.06 67.57M394.47 113.93Q380.11 82.96 376.29 62.06M394.47 113.93Q379.81 85.41 375.3 70.22M391.82 115.34Q378.47 85.93 373.48 70.54M391.82 115.34Q384.26 86.97 392.78 74.03M391.82 115.34Q380.25 92 379.4 90.79M391.82 115.34Q380.36 83.74 379.78 63.26M389.08 116.57Q380.51 85.78 383.02 68.84M389.08 116.57Q383.11 85.14 391.67 66.68M389.08 116.57Q378.45 84.38 376.14 64.16M389.08 116.57Q379.87 85.62 380.88 68.29M386.27 117.62Q378.68 87.27 379.74 72.76M386.27 117.62Q377.53 90.05 375.91 82M386.27 117.62Q380.79 88.2 386.75 75.84M386.27 117.62Q376.93 85.82 373.9 67.91" stroke="#8b1a1a" stroke-width="0.5" fill="none" opacity="0.75"/><path d="M415.1 63.58Q388.56 76.16 383.82 89.75M415.1 63.58Q387.25 70.44 379.46 70.69M415.1 63.58Q386.81 69.88 378.02 68.83M415.1 63.58Q386.32 71.48 376.37 74.17M415.82 66.59Q390.87 72.75 390.8 75.39M415.82 66.59Q387.37 69.85 379.14 65.71M415.82 66.59Q388.67 72.71 383.48 75.24M415.82 66.59Q386.08 70.8 374.84 68.88M416.33 69.64Q388.36 75.49 381.95 81.47M416.33 69.64Q389.57 74.04 385.96 76.63M416.33 69.64Q387.86 74.25 380.26 77.32M416.33 69.64Q388.42 77.58 382.13 88.44M416.62 72.72Q386.49 73.93 375.41 73.19M416.62 72.72Q390.81 74.12 389.81 73.81M416.62 72.72Q391.09 74.52 390.75 75.14M416.62 72.72Q388.79 73.93 383.07 73.18M416.7 75.81Q386.06 73.78 373.92 69.58M416.7 75.81Q392.54 76.68 395.49 79.27M416.7 75.81Q389.64 77.24 385.83 81.12M416.7 75.81Q389.57 77.36 385.62 81.53M416.56 78.9Q388.03 76.05 380.6 74.06M416.56 78.9Q390.28 75.82 388.1 73.29M416.56 78.9Q386.11 76.04 374.22 74.04M416.56 78.9Q387.53 77.55 378.93 79.08M416.21 81.97Q387.11 75.46 377.88 69.03M416.21 81.97Q387.81 80.17 380.21 84.72M416.21 81.97Q388.32 77.66 381.91 76.37M416.21 81.97Q388.42 77.9 382.26 77.17M415.65 85.01Q389.91 80.8 387.77 83.77M415.65 85.01Q385.27 80.73 372.33 83.57M415.65 85.01Q388.23 77.71 382.18 73.48M415.65 85.01Q392.55 77.98 396.59 74.38M414.88 88.01Q391.5 80.92 393.87 81.21M414.88 88.01Q386.15 80.06 376.02 78.33M414.88 88.01Q389.33 78.96 386.62 74.65M414.88 88.01Q383.81 78.56 368.23 73.34M413.9 90.94Q387.36 78.07 381.05 68.75M413.9 90.94Q391 79.62 393.15 73.93M413.9 90.94Q387 79.52 379.84 73.6M413.9 90.94Q386.3 78.67 377.5 70.74M412.72 93.8Q387.52 81.48 382.76 77.28M412.72 93.8Q386.44 80.76 379.16 74.86M412.72 93.8Q384.85 81.86 373.86 78.53M412.72 93.8Q386.01 81.31 377.7 76.69M411.34 96.57Q385.31 80.82 376.76 72.31M411.34 96.57Q387.33 79.57 383.49 68.13M411.34 96.57Q391.39 81.69 397.02 75.18M411.34 96.57Q386.81 80.43 381.76 70.99" stroke="#3a9c70" stroke-width="0.5" fill="none" opacity="0.75"/><path d="M384.99 123.12A49.4 49.4 0 1 1 384.99 27.68L384.42 29.81A47.2 47.2 0 1 0 384.42 120.99Z" fill="#fde3c4"/><rect x="-1.7" y="-1.1" width="3.4" height="2.2" fill="#fde3c4" transform="translate(383.79 122.29) rotate(166.12)"/><rect x="-1.7" y="-1.1" width="3.4" height="2.2" fill="#c0281c" transform="translate(380.29 123.02) rotate(170.36)"/><rect x="-1.7" y="-1.1" width="3.4" height="2.2" fill="#f2a06a" transform="translate(376.75 123.49) rotate(174.6)"/><rect x="-1.7" y="-1.1" width="3.4" height="2.2" fill="#fbd0a0" transform="translate(373.18 123.69) rotate(178.84)"/><rect x="-1.7" y="-1.1" width="3.4" height="2.2" fill="#fde3c4" transform="translate(369.6 123.63) rotate(183.08)"/><rect x="-1.7" y="-1.1" width="3.4" height="2.2" fill="#fde3c4" transform="translate(366.05 123.31) rotate(187.32)"/><rect x="-1.7" y="-1.1" width="3.4" height="2.2" fill="#fbd0a0" transform="translate(362.52 122.72) rotate(191.56)"/><rect x="-1.7" y="-1.1" width="3.4" height="2.2" fill="#fbd0a0" transform="translate(359.05 121.88) rotate(195.8)"/><rect x="-1.7" y="-1.1" width="3.4" height="2.2" fill="#fbd0a0" transform="translate(355.65 120.78) rotate(200.04)"/><rect x="-1.7" y="-1.1" width="3.4" height="2.2" fill="#fbd0a0" transform="translate(352.34 119.43) rotate(204.28)"/><rect x="-1.7" y="-1.1" width="3.4" height="2.2" fill="#fbd0a0" transform="translate(349.14 117.84) rotate(208.52)"/><rect x="-1.7" y="-1.1" width="3.4" height="2.2" fill="#fde3c4" transform="translate(346.06 116.02) rotate(212.76)"/><rect x="-1.7" y="-1.1" width="3.4" height="2.2" fill="#fde3c4" transform="translate(343.13 113.97) rotate(217)"/><rect x="-1.7" y="-1.1" width="3.4" height="2.2" fill="#8b0d0d" transform="translate(340.36 111.72) rotate(221.24)"/><rect x="-1.7" y="-1.1" width="3.4" height="2.2" fill="#c0281c" transform="translate(337.76 109.27) rotate(225.48)"/><rect x="-1.7" y="-1.1" width="3.4" height="2.2" fill="#c0281c" transform="translate(335.35 106.63) rotate(229.72)"/><rect x="-1.7" y="-1.1" width="3.4" height="2.2" fill="#fde3c4" transform="translate(333.14 103.82) rotate(233.96)"/><rect x="-1.7" y="-1.1" width="3.4" height="2.2" fill="#fde3c4" transform="translate(331.15 100.85) rotate(238.2)"/><rect x="-1.7" y="-1.1" width="3.4" height="2.2" fill="#fde3c4" transform="translate(329.38 97.75) rotate(242.44)"/><rect x="-1.7" y="-1.1" width="3.4" height="2.2" fill="#fde3c4" transform="translate(327.85 94.52) rotate(246.68)"/><rect x="-1.7" y="-1.1" width="3.4" height="2.2" fill="#fbd0a0" transform="translate(326.55 91.19) rotate(250.92)"/><rect x="-1.7" y="-1.1" width="3.4" height="2.2" fill="#fde3c4" transform="translate(325.51 87.77) rotate(255.16)"/><rect x="-1.7" y="-1.1" width="3.4" height="2.2" fill="#fde3c4" transform="translate(324.72 84.28) rotate(259.4)"/><rect x="-1.7" y="-1.1" width="3.4" height="2.2" fill="#fde3c4" transform="translate(324.2 80.75) rotate(263.64)"/><rect x="-1.7" y="-1.1" width="3.4" height="2.2" fill="#fde3c4" transform="translate(323.93 77.19) rotate(267.88)"/><rect x="-1.7" y="-1.1" width="3.4" height="2.2" fill="#fbd0a0" transform="translate(323.93 73.61) rotate(272.12)"/><rect x="-1.7" y="-1.1" width="3.4" height="2.2" fill="#fbd0a0" transform="translate(324.2 70.05) rotate(276.36)"/><rect x="-1.7" y="-1.1" width="3.4" height="2.2" fill="#fbd0a0" transform="translate(324.72 66.52) rotate(280.6)"/><rect x="-1.7" y="-1.1" width="3.4" height="2.2" fill="#fde3c4" transform="translate(325.51 63.03) rotate(284.84)"/><rect x="-1.7" y="-1.1" width="3.4" height="2.2" fill="#fde3c4" transform="translate(326.55 59.61) rotate(289.08)"/><rect x="-1.7" y="-1.1" width="3.4" height="2.2" fill="#fde3c4" transform="translate(327.85 56.28) rotate(293.32)"/><rect x="-1.7" y="-1.1" width="3.4" height="2.2" fill="#fde3c4" transform="translate(329.38 53.05) rotate(297.56)"/><rect x="-1.7" y="-1.1" width="3.4" height="2.2" fill="#fbd0a0" transform="translate(331.15 49.95) rotate(301.8)"/><rect x="-1.7" y="-1.1" width="3.4" height="2.2" fill="#f2a06a" transform="translate(333.14 46.98) rotate(306.04)"/><rect x="-1.7" y="-1.1" width="3.4" height="2.2" fill="#fde3c4" transform="translate(335.35 44.17) rotate(310.28)"/><rect x="-1.7" y="-1.1" width="3.4" height="2.2" fill="#fde3c4" transform="translate(337.76 41.53) rotate(314.52)"/><rect x="-1.7" y="-1.1" width="3.4" height="2.2" fill="#f2a06a" transform="translate(340.36 39.08) rotate(318.76)"/><rect x="-1.7" y="-1.1" width="3.4" height="2.2" fill="#fbd0a0" transform="translate(343.13 36.83) rotate(323)"/><rect x="-1.7" y="-1.1" width="3.4" height="2.2" fill="#fbd0a0" transform="translate(346.06 34.78) rotate(327.24)"/><rect x="-1.7" y="-1.1" width="3.4" height="2.2" fill="#fde3c4" transform="translate(349.14 32.96) rotate(331.48)"/><rect x="-1.7" y="-1.1" width="3.4" height="2.2" fill="#fde3c4" transform="translate(352.34 31.37) rotate(335.72)"/><rect x="-1.7" y="-1.1" width="3.4" height="2.2" fill="#fde3c4" transform="translate(355.65 30.02) rotate(339.96)"/><rect x="-1.7" y="-1.1" width="3.4" height="2.2" fill="#f2a06a" transform="translate(359.05 28.92) rotate(344.2)"/><rect x="-1.7" y="-1.1" width="3.4" height="2.2" fill="#fde3c4" transform="translate(362.52 28.08) rotate(348.44)"/><rect x="-1.7" y="-1.1" width="3.4" height="2.2" fill="#fbd0a0" transform="translate(366.05 27.49) rotate(352.68)"/><rect x="-1.7" y="-1.1" width="3.4" height="2.2" fill="#8b0d0d" transform="translate(369.6 27.17) rotate(356.92)"/><rect x="-1.7" y="-1.1" width="3.4" height="2.2" fill="#fde3c4" transform="translate(373.18 27.11) rotate(361.16)"/><rect x="-1.7" y="-1.1" width="3.4" height="2.2" fill="#fde3c4" transform="translate(376.75 27.31) rotate(365.4)"/><rect x="-1.7" y="-1.1" width="3.4" height="2.2" fill="#fbd0a0" transform="translate(380.29 27.78) rotate(369.64)"/><rect x="-1.7" y="-1.1" width="3.4" height="2.2" fill="#c0281c" transform="translate(383.79 28.51) rotate(373.88)"/><path d="M384.43 124.91L385.96 131.1M380.74 125.68L381.83 132.12M377 126.17L377.68 133.39M373.23 126.39L373.34 131.59M369.46 126.33L369.07 133.61M365.7 125.98L364.77 133.21M361.98 125.37L360.77 131.26M358.31 124.47L356.62 130.47M354.72 123.31L352.77 128.67M351.23 121.89L348.47 128.01M347.85 120.21L345.24 125.01M344.6 118.29L340.65 124.43M341.51 116.13L337.33 121.67M338.58 113.75L334.78 118.08M335.84 111.16L330.64 116.27M333.29 108.37L328.18 112.71M330.96 105.41L326.44 108.7M328.86 102.27L324.03 105.27M326.99 99L321 102.12M325.37 95.59L318.82 98.41M324 92.07L317.8 94.22M322.9 88.46L317.49 89.89M322.07 84.78L315.64 85.98M321.51 81.05L314.37 81.85M321.23 77.29L315.6 77.5M321.23 73.51L315.23 73.29M321.51 69.75L316.46 69.19M322.07 66.02L317.12 65.09M322.9 62.34L317.97 61.03M324 58.73L318 56.65M325.37 55.21L320.41 53.08M326.99 51.8L321.05 48.7M328.86 48.53L323.19 45.01M330.96 45.39L325.74 41.6M333.29 42.43L329.44 39.16M335.84 39.64L332.16 36.03M338.58 37.05L334.07 31.9M341.51 34.67L337.57 29.44M344.6 32.51L341.06 27.01M347.85 30.59L344.72 24.84M351.23 28.91L348.57 23.02M354.72 27.49L352.5 21.4M358.31 26.33L356.41 19.6M361.98 25.43L360.77 19.54M365.7 24.82L365.01 19.45M369.46 24.47L369.13 18.4M373.23 24.41L373.34 19.11M377 24.63L377.57 18.63M380.74 25.12L381.92 18.18M384.43 25.89L385.76 20.54" stroke="#7ea3d2" stroke-width="1.4" fill="none" opacity="0.9" stroke-dasharray="1.1 0.4"/><path d="M387.73 28.93L389.71 23.02M390.91 30.11L394.01 22.61M394 31.51L397.97 23.52M396.98 33.13L400.71 26.76M399.84 34.94L403.95 28.92M402.57 36.95L407.04 31.29M405.16 39.14L409.16 34.73M407.59 41.5L412.6 36.7M409.84 44.03L414.81 39.89M411.92 46.71L419.05 41.56M413.81 49.52L419.99 45.68M415.5 52.46L421.26 49.41M416.98 55.51L424.97 51.97M418.25 58.66L426.47 55.67" stroke="#555" stroke-width="1.4" fill="none" opacity="0.8" stroke-dasharray="1.1 0.4"/><path d="M419.44 62.38L425.88 60.61M420.23 65.69L426.27 64.47M420.79 69.05L429.45 67.92M421.11 72.44L428.1 72.02M421.2 75.85L429.74 75.93M421.05 79.25L427.68 79.77M420.66 82.64L427.54 83.66M420.04 85.98L428.08 87.76M419.19 89.28L427.16 91.64M418.11 92.51L424.29 94.81M416.81 95.66L423.51 98.7M415.3 98.71L421.1 101.85" stroke="#4a9a78" stroke-width="1.4" fill="none" opacity="0.8" stroke-dasharray="1.1 0.4"/><path d="M413.33 102.04L419.84 106.26M411.44 104.75L417.79 109.5M409.37 107.33L413.89 111.2M407.14 109.76L412.04 114.58M404.74 112.03L409.69 117.6M402.2 114.14L406.67 119.92M399.52 116.08L403.27 121.66M396.72 117.83L400.1 123.69M393.8 119.38L396.5 124.87M390.79 120.74L393.71 127.87M387.69 121.89L389.72 127.96" stroke="#a25050" stroke-width="1.4" fill="none" opacity="0.8" stroke-dasharray="1.1 0.4"/><circle cx="382.88" cy="118.6" r="1.35" fill="#2a67a3"/><circle cx="379.65" cy="119.27" r="1.35" fill="#2a67a3"/><circle cx="376.39" cy="119.7" r="1.35" fill="#2a67a3"/><circle cx="373.1" cy="119.89" r="1.35" fill="#2a67a3"/><circle cx="369.81" cy="119.84" r="1.35" fill="#2a67a3"/><circle cx="366.53" cy="119.54" r="1.35" fill="#2a67a3"/><circle cx="363.28" cy="119" r="1.35" fill="#2a67a3"/><circle cx="360.08" cy="118.22" r="1.35" fill="#2a67a3"/><circle cx="356.95" cy="117.21" r="1.35" fill="#2a67a3"/><circle cx="353.9" cy="115.96" r="1.35" fill="#2a67a3"/><circle cx="350.95" cy="114.5" r="1.35" fill="#2a67a3"/><circle cx="348.12" cy="112.82" r="1.35" fill="#2a67a3"/><circle cx="345.42" cy="110.94" r="1.35" fill="#2a67a3"/><circle cx="342.86" cy="108.86" r="1.35" fill="#2a67a3"/><circle cx="340.47" cy="106.6" r="1.35" fill="#2a67a3"/><circle cx="338.25" cy="104.17" r="1.35" fill="#2a67a3"/><circle cx="336.22" cy="101.58" r="1.35" fill="#2a67a3"/><circle cx="334.38" cy="98.85" r="1.35" fill="#2a67a3"/><circle cx="332.75" cy="95.99" r="1.35" fill="#2a67a3"/><circle cx="331.34" cy="93.02" r="1.35" fill="#2a67a3"/><circle cx="330.14" cy="89.95" r="1.35" fill="#2a67a3"/><circle cx="329.18" cy="86.8" r="1.35" fill="#2a67a3"/><circle cx="328.46" cy="83.59" r="1.35" fill="#2a67a3"/><circle cx="327.97" cy="80.33" r="1.35" fill="#2a67a3"/><circle cx="327.73" cy="77.05" r="1.35" fill="#2a67a3"/><circle cx="327.73" cy="73.75" r="1.35" fill="#2a67a3"/><circle cx="327.97" cy="70.47" r="1.35" fill="#2a67a3"/><circle cx="328.46" cy="67.21" r="1.35" fill="#2a67a3"/><circle cx="329.18" cy="64" r="1.35" fill="#2a67a3"/><circle cx="330.14" cy="60.85" r="1.35" fill="#2a67a3"/><circle cx="331.34" cy="57.78" r="1.35" fill="#2a67a3"/><circle cx="332.75" cy="54.81" r="1.35" fill="#2a67a3"/><circle cx="334.38" cy="51.95" r="1.35" fill="#2a67a3"/><circle cx="336.22" cy="49.22" r="1.35" fill="#2a67a3"/><circle cx="338.25" cy="46.63" r="1.35" fill="#2a67a3"/><circle cx="340.47" cy="44.2" r="1.35" fill="#2a67a3"/><circle cx="342.86" cy="41.94" r="1.35" fill="#2a67a3"/><circle cx="345.42" cy="39.86" r="1.35" fill="#2a67a3"/><circle cx="348.12" cy="37.98" r="1.35" fill="#2a67a3"/><circle cx="350.95" cy="36.3" r="1.35" fill="#2a67a3"/><circle cx="353.9" cy="34.84" r="1.35" fill="#2a67a3"/><circle cx="356.95" cy="33.59" r="1.35" fill="#2a67a3"/><circle cx="360.08" cy="32.58" r="1.35" fill="#2a67a3"/><circle cx="363.28" cy="31.8" r="1.35" fill="#2a67a3"/><circle cx="366.53" cy="31.26" r="1.35" fill="#2a67a3"/><circle cx="369.81" cy="30.96" r="1.35" fill="#2a67a3"/><circle cx="373.1" cy="30.91" r="1.35" fill="#2a67a3"/><circle cx="376.39" cy="31.1" r="1.35" fill="#2a67a3"/><circle cx="379.65" cy="31.53" r="1.35" fill="#2a67a3"/><circle cx="382.88" cy="32.2" r="1.35" fill="#2a67a3"/><circle cx="386.31" cy="33.2" r="1.35" fill="#000"/><circle cx="389.19" cy="34.27" r="1.35" fill="#000"/><circle cx="391.99" cy="35.54" r="1.35" fill="#000"/><circle cx="394.7" cy="37.01" r="1.35" fill="#000"/><circle cx="397.3" cy="38.66" r="1.35" fill="#000"/><circle cx="399.78" cy="40.48" r="1.35" fill="#000"/><circle cx="402.13" cy="42.47" r="1.35" fill="#000"/><circle cx="404.34" cy="44.62" r="1.35" fill="#000"/><circle cx="406.39" cy="46.91" r="1.35" fill="#000"/><circle cx="408.27" cy="49.34" r="1.35" fill="#000"/><circle cx="409.99" cy="51.9" r="1.35" fill="#000"/><circle cx="411.52" cy="54.57" r="1.35" fill="#000"/><circle cx="412.87" cy="57.34" r="1.35" fill="#000"/><circle cx="414.02" cy="60.19" r="1.35" fill="#000"/><circle cx="415.1" cy="63.58" r="1.35" fill="#1f7a4f"/><circle cx="415.82" cy="66.59" r="1.35" fill="#1f7a4f"/><circle cx="416.33" cy="69.64" r="1.35" fill="#1f7a4f"/><circle cx="416.62" cy="72.72" r="1.35" fill="#1f7a4f"/><circle cx="416.7" cy="75.81" r="1.35" fill="#1f7a4f"/><circle cx="416.56" cy="78.9" r="1.35" fill="#1f7a4f"/><circle cx="416.21" cy="81.97" r="1.35" fill="#1f7a4f"/><circle cx="415.65" cy="85.01" r="1.35" fill="#1f7a4f"/><circle cx="414.88" cy="88.01" r="1.35" fill="#1f7a4f"/><circle cx="413.9" cy="90.94" r="1.35" fill="#1f7a4f"/><circle cx="412.72" cy="93.8" r="1.35" fill="#1f7a4f"/><circle cx="411.34" cy="96.57" r="1.35" fill="#1f7a4f"/><circle cx="409.55" cy="99.59" r="1.35" fill="#7a0f0f"/><circle cx="407.83" cy="102.05" r="1.35" fill="#7a0f0f"/><circle cx="405.96" cy="104.39" r="1.35" fill="#7a0f0f"/><circle cx="403.93" cy="106.6" r="1.35" fill="#7a0f0f"/><circle cx="401.75" cy="108.67" r="1.35" fill="#7a0f0f"/><circle cx="399.44" cy="110.59" r="1.35" fill="#7a0f0f"/><circle cx="397.01" cy="112.34" r="1.35" fill="#7a0f0f"/><circle cx="394.47" cy="113.93" r="1.35" fill="#7a0f0f"/><circle cx="391.82" cy="115.34" r="1.35" fill="#7a0f0f"/><circle cx="389.08" cy="116.57" r="1.35" fill="#7a0f0f"/><circle cx="386.27" cy="117.62" r="1.35" fill="#7a0f0f"/><text x="295.8" y="13.8" font-size="17.5">B</text><text x="448.8" y="14" font-size="10.4" textLength="30" lengthAdjust="spacingAndGlyphs" fill="#1a1a1a" stroke="#1a1a1a" stroke-width="0.22">Group</text><rect x="449" y="18.8" width="5.6" height="5" fill="#4282c0"/><text x="458" y="23.2" font-size="5.3" font-weight="bold" textLength="55.6" lengthAdjust="spacingAndGlyphs">Transcription Factors</text><rect x="449" y="29.6" width="5.6" height="5" fill="#f6a81a"/><text x="458" y="34" font-size="5.3" font-weight="bold" textLength="60" lengthAdjust="spacingAndGlyphs">Fibrosis Related Genes</text><text x="448.8" y="52.6" font-size="10.4" textLength="37" lengthAdjust="spacingAndGlyphs" fill="#1a1a1a" stroke="#1a1a1a" stroke-width="0.22">Fibrosis</text><circle cx="451.8" cy="59.6" r="2.3" fill="#8b1a1a"/><text x="458" y="61.300000000000004" font-size="4.8" font-weight="bold" textLength="8.5" lengthAdjust="spacingAndGlyphs">Pro</text><circle cx="451.8" cy="70.7" r="2.3" fill="#23935f"/><text x="458" y="72.4" font-size="4.8" font-weight="bold" textLength="10" lengthAdjust="spacingAndGlyphs">Anti</text><circle cx="451.8" cy="81.8" r="2.3" fill="#000"/><text x="458" y="83.5" font-size="4.8" font-weight="bold" textLength="37.5" lengthAdjust="spacingAndGlyphs">Both(Pro/Anti)</text><text x="448.8" y="99.4" font-size="10.4" textLength="53" lengthAdjust="spacingAndGlyphs" fill="#1a1a1a" stroke="#1a1a1a" stroke-width="0.22">Interaction</text><defs><linearGradient id="gB" x1="0" y1="0" x2="0" y2="1"><stop offset="0" stop-color="#7f0000"/><stop offset="0.3" stop-color="#c8261c"/><stop offset="0.6" stop-color="#f08050"/><stop offset="0.85" stop-color="#fbd09a"/><stop offset="1" stop-color="#fff8ec"/></linearGradient></defs><rect x="449.4" y="104" width="7.6" height="43" fill="url(#gB)" stroke="#888" stroke-width="0.3"/><line x1="457" y1="104.3" x2="458.3" y2="104.3" stroke="#555" stroke-width="0.35"/><text x="458.8" y="105.3" font-size="2.8" fill="#333">25</text><line x1="457" y1="118.5" x2="458.3" y2="118.5" stroke="#555" stroke-width="0.35"/><text x="458.8" y="119.5" font-size="2.8" fill="#333">20</text><line x1="457" y1="132.7" x2="458.3" y2="132.7" stroke="#555" stroke-width="0.35"/><text x="458.8" y="133.7" font-size="2.8" fill="#333">15</text><line x1="457" y1="146.8" x2="458.3" y2="146.8" stroke="#555" stroke-width="0.35"/><text x="458.8" y="147.8" font-size="2.8" fill="#333">10</text><path d="M343.73 305.97A72.1 72.1 0 0 1 343.73 173.23L347.67 182.53A62 62 0 0 0 347.67 296.67Z" fill="#4282c0"/><path d="M343.73 173.23A72.1 72.1 0 1 1 343.73 305.97L346.03 300.54A66.2 66.2 0 1 0 346.03 178.66Z" fill="#f6a81a"/><path d="M346.68 178.72A65.9 65.9 0 0 1 371.44 173.7L371.47 177.6A62 62 0 0 0 348.17 182.32Z" fill="#2f8f5a"/><path d="M372.36 173.7A65.9 65.9 0 0 1 406.43 183.47L404.39 186.79A62 62 0 0 0 372.33 177.6Z" fill="#f26b55"/><path d="M407.21 183.96A65.9 65.9 0 0 1 425.62 201.43L422.44 203.68A62 62 0 0 0 405.12 187.25Z" fill="#7a1f96"/><path d="M426.14 202.18A65.9 65.9 0 0 1 437.68 235.69L433.79 235.92A62 62 0 0 0 422.93 204.39Z" fill="#a9a9a9"/><path d="M437.73 236.61A65.9 65.9 0 0 1 434.36 260.62L430.66 259.38A62 62 0 0 0 433.84 236.79Z" fill="#7a0c0c"/><path d="M434.06 261.49A65.9 65.9 0 0 1 412.83 291.25L410.41 288.19A62 62 0 0 0 430.38 260.19Z" fill="#2f5fd0"/><path d="M412.11 291.81A65.9 65.9 0 0 1 379.25 305.09L378.81 301.21A62 62 0 0 0 409.73 288.72Z" fill="#0a0a0a"/><path d="M378.33 305.19A65.9 65.9 0 0 1 346.57 300.44L348.07 296.84A62 62 0 0 0 377.95 301.3Z" fill="#e8141c"/><path d="M341.09 208.18Q370.14 238.33 332.34 220.33M341.72 207.58Q370.17 238.29 333 219.03M342.35 207Q370.2 238.26 333.31 218.45M343 206.42Q370.24 238.2 334.22 216.89M343.65 205.86Q370.22 238.24 332.99 219.05M344.32 205.32Q370.27 238.18 334.09 217.1M345 204.78Q370.17 238.42 329.7 227.13M345.69 204.26Q370.24 238.28 331.53 222.09M346.39 203.75Q370.32 238.14 334.22 216.88M347.1 203.26Q370.29 238.2 332.48 220.05M347.82 202.78Q370.35 238.12 333.95 217.32M348.54 202.31Q370.27 238.33 330.01 226.14M349.28 201.86Q370.33 238.22 331.55 222.05M350.02 201.42Q370.32 238.27 330.54 224.59M350.78 201Q370.37 238.18 331.93 221.21M351.54 200.59Q370.4 238.16 332.08 220.88M352.31 200.2Q370.35 238.31 329.65 227.32M353.09 199.82Q370.39 238.24 330.42 224.94M353.87 199.46Q370.42 238.21 330.68 224.21M354.66 199.12Q370.52 238.03 334.05 217.16M355.46 198.79Q370.52 238.06 333.14 218.77M356.27 198.47Q370.47 238.22 330.19 225.6M357.08 198.17Q370.57 238.04 333.33 218.43M357.89 197.89Q370.5 238.21 330.11 225.84M358.71 197.62Q370.58 238.07 332.31 220.4M359.54 197.37Q370.55 238.2 330.06 225.98M360.37 197.14Q370.55 238.23 329.61 227.45M361.21 196.92Q370.68 237.98 333.77 217.64M362.05 196.72Q370.62 238.16 330.39 225.02M362.89 196.53Q370.64 238.16 330.41 224.95M363.74 196.36Q370.76 237.94 334.47 216.47M364.59 196.21Q370.76 237.97 333.78 217.63M365.44 196.08Q370.71 238.12 330.72 224.1M366.3 195.96Q370.82 237.94 334.34 216.69M367.16 195.86Q370.78 238.05 331.9 221.26M368.02 195.77Q370.82 238.01 332.64 219.73M368.88 195.7Q370.79 238.14 330.37 225.07M369.74 195.65Q370.9 237.93 334.21 216.9M370.6 195.62Q370.89 238 332.71 219.59M371.47 195.6Q370.95 237.93 334.37 216.63" stroke="#2e8b57" stroke-width="0.55" fill="none" opacity="0.63"/><path d="M373.87 195.64Q370.91 238.13 330.47 224.8M374.73 195.69Q370.88 238.38 328.19 234.56M375.59 195.76Q370.9 238.35 328.32 233.52M376.45 195.84Q370.92 238.44 327.99 236.8M377.31 195.93Q370.94 238.45 327.97 237.14M378.17 196.05Q370.96 238.48 327.91 238.5M379.02 196.18Q370.99 238.39 328.19 234.52M379.87 196.33Q371.03 238.27 329.07 229.5M380.72 196.49Q371.02 238.52 327.9 239.54M381.56 196.67Q371.08 238.24 329.38 228.28M382.4 196.87Q371.07 238.39 328.27 233.91M383.24 197.09Q371.09 238.41 328.21 234.38M384.07 197.32Q371.16 238.2 330.06 226M384.9 197.56Q371.14 238.35 328.65 231.52M385.72 197.83Q371.15 238.42 328.22 234.28M386.54 198.11Q371.18 238.36 328.65 231.52M387.35 198.4Q371.23 238.28 329.5 227.84M388.16 198.71Q371.21 238.55 327.91 238.64M388.96 199.04Q371.3 238.18 330.95 223.51M389.75 199.38Q371.25 238.58 327.9 239.21M390.54 199.74Q371.31 238.29 329.71 227.11M391.32 200.12Q371.34 238.26 330.2 225.57M392.09 200.51Q371.3 238.62 327.9 239.29M392.85 200.91Q371.37 238.31 329.9 226.49M393.61 201.33Q371.35 238.49 328.33 233.43M394.36 201.76Q371.39 238.41 328.98 229.91M395.09 202.21Q371.38 238.66 327.9 239.45M395.82 202.67Q371.4 238.66 327.91 238.81M396.54 203.15Q371.42 238.61 328.01 236.55M397.26 203.64Q371.51 238.31 330.83 223.82M397.96 204.14Q371.45 238.63 328.03 236.28M398.65 204.66Q371.51 238.41 329.74 227.01" stroke="#f0715c" stroke-width="0.55" fill="none" opacity="0.63"/><path d="M400.5 206.17Q371.52 238.71 327.95 237.56M401.14 206.72Q371.53 238.72 327.96 237.37M401.77 207.29Q371.56 238.95 328.38 246.07M402.38 207.87Q371.57 238.96 328.36 245.92M402.99 208.46Q371.58 238.92 328.07 243.46M403.58 209.06Q371.59 238.84 327.9 239.8M404.16 209.68Q371.63 239.1 329.02 249.46M404.73 210.3Q371.62 238.88 327.9 240.2M405.28 210.94Q371.63 238.88 327.9 239.49M405.83 211.58Q371.65 238.87 327.91 238.58M406.36 212.24Q371.7 239.19 329.26 250.47M406.88 212.91Q371.68 238.88 327.96 237.32M407.38 213.58Q371.72 239.2 329.07 249.7M407.88 214.27Q371.71 239.13 328.39 246.12M408.36 214.96Q371.71 239.05 327.98 242.21M408.82 215.67Q371.72 238.95 327.94 237.72M409.28 216.38Q371.75 239.18 328.39 246.13M409.71 217.1Q371.75 238.99 327.94 237.63M410.14 217.83Q371.76 239.14 328.04 243.16M410.55 218.57Q371.78 239.25 328.45 246.53" stroke="#7b2a9c" stroke-width="0.55" fill="none" opacity="0.675"/><path d="M410.95 219.32Q371.84 239.46 330.45 254.37M411.33 220.08Q371.87 239.52 331.1 256.07M411.71 220.85Q371.89 239.57 331.6 257.27M412.06 221.63Q371.89 239.57 331.24 256.42M412.4 222.41Q371.84 239.42 329.08 249.71M412.73 223.2Q371.83 239.34 328.33 245.77M413.04 223.99Q371.91 239.63 331.18 256.26M413.33 224.79Q371.93 239.68 331.76 257.62M413.61 225.6Q371.85 239.41 328.35 245.9M413.88 226.41Q371.89 239.57 329.59 251.68M414.12 227.23Q371.91 239.63 330.08 253.27M414.36 228.05Q371.93 239.7 330.81 255.34M414.57 228.87Q371.9 239.61 329.38 250.92M414.77 229.7Q371.89 239.56 328.7 247.96M414.96 230.54Q371.93 239.7 329.88 252.65M415.12 231.37Q371.93 239.73 330.01 253.07M415.28 232.21Q371.98 239.86 331.72 257.53M415.41 233.05Q371.9 239.62 328.49 246.81M415.53 233.9Q371.99 239.91 331.84 257.81M415.63 234.75Q371.94 239.79 329.74 252.18M415.72 235.6Q371.91 239.7 328.67 247.8M415.79 236.45Q371.98 239.95 331.33 256.64M415.84 237.3Q371.92 239.78 328.95 249.17M415.88 238.15Q371.91 239.73 328.42 246.37M415.9 239Q371.93 239.86 329.26 250.46M415.9 239.86Q371.92 239.83 328.8 248.45M415.89 240.71Q371.99 240.06 331.45 256.92" stroke="#a0a0a0" stroke-width="0.55" fill="none" opacity="0.49500000000000005"/><path d="M415.86 241.57Q372.01 240.13 332.32 258.83M415.81 242.45Q372.04 240.22 333.76 261.54M415.74 243.33Q371.96 240.07 330.6 254.77M415.66 244.2Q372.02 240.23 333 260.17M415.56 245.07Q372 240.21 332.24 258.65M415.44 245.94Q371.94 240.1 330.06 253.2M415.31 246.81Q371.95 240.16 330.57 254.7M415.15 247.67Q371.94 240.15 330.13 253.44M414.98 248.53Q371.99 240.3 332.24 258.65M414.8 249.39Q371.98 240.31 332.08 258.31M414.59 250.24Q371.95 240.27 331.04 255.93M414.37 251.09Q371.97 240.36 332.12 258.4M414.13 251.94Q371.98 240.42 333.02 260.21M413.88 252.78Q371.96 240.42 332.47 259.13" stroke="#8b1a1a" stroke-width="0.55" fill="none" opacity="0.63"/><path d="M413.61 253.6Q372.09 240.64 337.6 267.16M413.34 254.4Q372.02 240.58 335.3 264.02M413.04 255.19Q371.9 240.37 330.62 254.83M412.74 255.98Q371.89 240.4 330.79 255.29M412.41 256.77Q371.94 240.55 333.13 260.4M412.07 257.54Q371.96 240.62 334.19 262.27M411.72 258.32Q371.99 240.69 335.66 264.56M411.35 259.08Q372.04 240.79 338.21 267.91M410.97 259.83Q371.99 240.75 336.31 265.47M410.57 260.58Q371.87 240.59 331.96 258.05M410.16 261.32Q371.84 240.57 331.37 256.73M409.74 262.06Q371.93 240.78 335.44 264.24M409.3 262.78Q371.84 240.64 331.93 257.99M408.84 263.5Q371.83 240.66 332.01 258.16M408.38 264.2Q371.83 240.71 332.6 259.38M407.9 264.9Q371.82 240.74 332.83 259.84M407.4 265.59Q371.79 240.72 332.12 258.4M406.9 266.27Q371.86 240.88 335.42 264.21M406.38 266.94Q371.78 240.77 332.52 259.23M405.84 267.6Q371.86 240.94 336.22 265.35M405.3 268.25Q371.8 240.89 334.31 262.47M404.74 268.88Q371.72 240.8 332.04 258.24M404.17 269.51Q371.72 240.84 332.63 259.44M403.59 270.13Q371.8 241 336.09 265.17M402.99 270.73Q371.65 240.78 330.88 255.51M402.39 271.32Q371.69 240.9 332.95 260.06M401.77 271.91Q371.69 240.94 333.5 261.08M401.14 272.47Q371.81 241.15 339.07 268.9M400.51 273.03Q371.66 240.99 333.78 261.58" stroke="#2f5fd0" stroke-width="0.55" fill="none" opacity="0.63"/><path d="M399.85 273.58Q372.04 241.4 349.72 277.6M399.17 274.13Q371.84 241.27 342.19 272.05M398.49 274.66Q371.91 241.36 345.77 275M397.79 275.17Q371.75 241.24 339.89 269.79M397.09 275.68Q371.8 241.32 342.59 272.41M396.37 276.17Q371.72 241.28 340.18 270.09M395.65 276.64Q371.89 241.45 347.88 276.46M394.91 277.1Q371.74 241.36 342.64 272.46M394.17 277.55Q371.69 241.33 341.12 271.04M393.42 277.98Q371.63 241.31 339.71 269.6M392.66 278.4Q371.82 241.49 347.84 276.44M391.89 278.8Q371.59 241.32 339.49 269.36M391.11 279.18Q371.56 241.32 339.09 268.91M390.33 279.56Q371.61 241.4 341.91 271.8M389.54 279.91Q371.48 241.3 337.56 267.11M388.74 280.25Q371.47 241.31 337.83 267.45M387.93 280.57Q371.62 241.49 344.8 274.26M387.12 280.88Q371.6 241.49 344.6 274.11M386.31 281.17Q371.75 241.61 351.37 278.51M385.48 281.45Q371.43 241.39 339.58 269.46M384.66 281.71Q371.37 241.36 338.1 267.77M383.83 281.95Q371.54 241.54 345.52 274.81M382.99 282.18Q371.43 241.47 341.86 271.75M382.15 282.39Q371.39 241.46 341.41 271.32M381.3 282.58Q371.37 241.46 341.24 271.15M380.45 282.76Q371.6 241.65 351.25 278.46M379.6 282.92Q371.31 241.45 340.45 270.37M378.75 283.06Q371.37 241.53 343.71 273.38M377.89 283.19Q371.31 241.5 342.29 272.14M377.03 283.3Q371.39 241.59 346.54 275.55M376.17 283.39Q371.28 241.52 342.98 272.76" stroke="#111" stroke-width="0.55" fill="none" opacity="0.63"/><path d="M375.3 283.47Q371.15 241.42 338.68 268.46M374.43 283.53Q371.19 241.48 340.93 270.85M373.56 283.57Q371.13 241.44 339.55 269.42M372.69 283.59Q371.44 241.69 352.71 279.2M371.81 283.6Q371.35 241.65 349.93 277.72M370.94 283.59Q371.19 241.56 344.41 273.95M370.07 283.56Q371.07 241.47 340.7 270.63M369.2 283.52Q371.25 241.63 348.72 277M368.33 283.45Q371.02 241.46 340.11 270.02M367.46 283.38Q371.02 241.48 341.03 270.95M366.59 283.28Q371.28 241.68 352.41 279.05M365.72 283.16Q371.04 241.54 343.84 273.49M364.86 283.03Q371.14 241.62 348.57 276.91M364 282.89Q371.21 241.67 352.14 278.92M363.14 282.72Q371.15 241.64 350.47 278.03M362.29 282.54Q371.03 241.58 346.76 275.71M361.44 282.34Q371.08 241.62 349.48 277.46M360.6 282.12Q371.05 241.61 349.24 277.32M359.76 281.89Q371.11 241.65 352.54 279.11M358.92 281.64Q370.88 241.5 343.96 273.59M358.09 281.38Q370.9 241.53 345.55 274.84M357.26 281.09Q370.77 241.43 341.35 271.27" stroke="#e8141c" stroke-width="0.55" fill="none" opacity="0.675"/><path d="M352.93 282.05L349.04 290.75M351.34 281.31L346.48 291.17M349.78 280.5L345.88 287.72M348.25 279.64L342.15 289.97M346.76 278.72L341.19 287.38M345.3 277.74L339.11 286.63M343.88 276.71L337.69 284.92M342.5 275.63L335.22 284.55M341.17 274.5L335.54 280.88M339.87 273.31L332.69 280.87M338.62 272.08L330.14 280.36M337.42 270.8L330.44 277.12M336.27 269.48L327.38 276.93M335.17 268.11L327.5 274.07M334.12 266.71L325.53 272.87M333.12 265.27L325.15 270.54M332.18 263.78L325.37 267.93M331.3 262.27L323.82 266.44M330.47 260.72L321.35 265.37M329.71 259.14L321.92 262.75M329 257.54L320.42 261.13M328.35 255.91L318.57 259.57M327.77 254.26L316.95 257.85M327.25 252.58L318.13 255.23M326.79 250.89L317.45 253.23M326.4 249.18L318.59 250.82M326.07 247.46L318.25 248.8M325.8 245.72L316.44 246.96M325.61 243.98L315.13 244.97M325.47 242.23L317.24 242.7M325.41 240.48L313.41 240.7M325.41 238.72L313.86 238.51M325.47 236.97L315.87 236.43M325.61 235.22L316.23 234.33M325.8 233.48L314.49 231.98M326.07 231.74L316.85 230.16M326.4 230.02L318.32 228.32M326.79 228.31L316.68 225.78M327.25 226.62L317.47 223.78M327.77 224.94L317.28 221.46M328.35 223.29L318.26 219.51M329 221.66L321.7 218.61M329.71 220.06L320.27 215.68M330.47 218.48L323.38 214.86M331.3 216.93L324.17 212.95M332.18 215.42L324.07 210.48M333.12 213.93L324.03 207.91M334.12 212.49L327.72 207.9M335.17 211.09L327.34 205M336.27 209.72L328.41 203.13M337.42 208.4L329.52 201.25M338.62 207.12L332.99 201.63M339.87 205.89L333.03 198.69M341.17 204.7L334.03 196.6M342.5 203.57L336.18 195.82M343.88 202.49L336.96 193.32M345.3 201.46L339.93 193.76M346.76 200.48L341.28 191.95M348.25 199.56L342.78 190.29M349.78 198.7L345.63 191.03M351.34 197.89L347.57 190.24M352.93 197.15L348.05 186.24" stroke="#7b98c0" stroke-width="1.1" fill="none" opacity="0.9" stroke-dasharray="1.1 0.45"/><path d="M355.15 196.22L351.77 187.5M357.26 195.47L353.98 185.6M359.4 194.81L357.32 187.36M361.57 194.26L359.72 186.12M363.77 193.82L361.93 183.47M365.99 193.48L364.66 183.14M368.22 193.25L367.35 182.4M370.45 193.12L370.22 185.61" stroke="#2e8b57" stroke-width="1.3" fill="none" opacity="0.6" stroke-dasharray="1.1 0.4"/><path d="M373.28 193.12L373.59 182.81M375.39 193.23L376.07 184.2M377.49 193.44L378.64 183.92M379.57 193.74L381.04 184.96M381.65 194.13L383.55 185.27M383.7 194.62L385.86 186.39M385.73 195.2L389.01 184.68M387.73 195.88L390.6 187.94M389.69 196.64L393.63 187.13M391.63 197.49L395.59 189.02M393.52 198.43L398.23 189.45M395.36 199.45L400.56 190.55" stroke="#f0715c" stroke-width="1.3" fill="none" opacity="0.6" stroke-dasharray="1.1 0.4"/><path d="M397.76 200.95L402.97 193.17M399.6 202.25L405.34 194.52M401.38 203.64L407.74 195.87M403.08 205.1L408.78 198.8M404.72 206.66L411.15 200.19M406.27 208.28L414.66 200.64M407.75 209.98L415.83 203.31M409.14 211.75L416.88 205.96" stroke="#7b2a9c" stroke-width="1.3" fill="none" opacity="0.6" stroke-dasharray="1.1 0.4"/><path d="M410.82 214.15L417.35 209.88M412.03 216.11L418.87 212.1M413.14 218.12L421.39 213.82M414.15 220.19L424.55 215.41M415.06 222.3L422.83 219.19M415.87 224.46L425.11 221.28M416.56 226.66L425.38 224.1M417.15 228.88L425.56 226.89M417.62 231.13L426.43 229.5M417.99 233.41L427.46 232.13M418.24 235.69L426.04 235.04" stroke="#a0a0a0" stroke-width="1.3" fill="none" opacity="0.6" stroke-dasharray="1.1 0.4"/><path d="M418.39 238.57L428.33 238.34M418.39 240.72L428.31 240.95M418.29 242.86L426.34 243.43M418.08 245.01L428.72 246.25M417.79 247.13L427.96 248.8M417.39 249.25L425.37 250.94M416.89 251.34L427.76 254.18M416.3 253.41L424.07 255.82" stroke="#8b1a1a" stroke-width="1.3" fill="none" opacity="0.6" stroke-dasharray="1.1 0.4"/><path d="M415.39 256.07L423.53 259.15M414.57 258.09L423.52 261.97M413.66 260.06L422.95 264.62M412.65 262L419.98 266.02M411.56 263.88L418.24 267.97M410.38 265.71L419.42 271.84M409.11 267.48L416.78 273.22M407.77 269.19L414.93 275.11M406.34 270.84L413.38 277.22M404.84 272.42L412.05 279.6M403.27 273.92L410.61 281.96M401.63 275.36L407.47 282.39" stroke="#2f5fd0" stroke-width="1.3" fill="none" opacity="0.6" stroke-dasharray="1.1 0.4"/><path d="M399.35 277.13L404.21 283.78M397.46 278.44L403.63 287.82M395.51 279.66L400.88 288.77M393.5 280.78L397.3 288.04M391.43 281.8L394.92 289.34M389.32 282.71L392.63 290.9M387.16 283.52L390.91 294.29M384.97 284.22L387.39 292.47M382.75 284.82L384.51 292.17M380.5 285.3L381.88 292.65M378.23 285.67L379.41 294.26" stroke="#111" stroke-width="1.3" fill="none" opacity="0.6" stroke-dasharray="1.1 0.4"/><path d="M375.3 285.98L376.12 297.25M373.01 286.09L373.21 294.2M370.72 286.09L370.45 296.7M368.44 285.97L367.78 294.85M366.16 285.74L365.21 293.35M363.9 285.41L362.41 293.91M361.65 284.96L359.24 295.65M359.43 284.4L356.67 294.34M357.25 283.73L354.79 291.14M355.09 282.96L351.15 293.12" stroke="#e8141c" stroke-width="1.3" fill="none" opacity="0.6" stroke-dasharray="1.1 0.4"/><circle cx="354.03" cy="279.81" r="0.9" fill="#2a67a3"/><circle cx="352.7" cy="279.19" r="0.9" fill="#2a67a3"/><circle cx="351.39" cy="278.53" r="0.9" fill="#2a67a3"/><circle cx="350.1" cy="277.82" r="0.9" fill="#2a67a3"/><circle cx="348.84" cy="277.07" r="0.9" fill="#2a67a3"/><circle cx="347.6" cy="276.28" r="0.9" fill="#2a67a3"/><circle cx="346.38" cy="275.45" r="0.9" fill="#2a67a3"/><circle cx="345.2" cy="274.57" r="0.9" fill="#2a67a3"/><circle cx="344.05" cy="273.66" r="0.9" fill="#2a67a3"/><circle cx="342.93" cy="272.71" r="0.9" fill="#2a67a3"/><circle cx="341.84" cy="271.73" r="0.9" fill="#2a67a3"/><circle cx="340.78" cy="270.7" r="0.9" fill="#2a67a3"/><circle cx="339.76" cy="269.65" r="0.9" fill="#2a67a3"/><circle cx="338.77" cy="268.56" r="0.9" fill="#2a67a3"/><circle cx="337.82" cy="267.43" r="0.9" fill="#2a67a3"/><circle cx="336.91" cy="266.28" r="0.9" fill="#2a67a3"/><circle cx="336.04" cy="265.1" r="0.9" fill="#2a67a3"/><circle cx="335.21" cy="263.89" r="0.9" fill="#2a67a3"/><circle cx="334.42" cy="262.65" r="0.9" fill="#2a67a3"/><circle cx="333.67" cy="261.38" r="0.9" fill="#2a67a3"/><circle cx="332.96" cy="260.09" r="0.9" fill="#2a67a3"/><circle cx="332.3" cy="258.78" r="0.9" fill="#2a67a3"/><circle cx="331.68" cy="257.45" r="0.9" fill="#2a67a3"/><circle cx="331.11" cy="256.09" r="0.9" fill="#2a67a3"/><circle cx="330.58" cy="254.72" r="0.9" fill="#2a67a3"/><circle cx="330.1" cy="253.33" r="0.9" fill="#2a67a3"/><circle cx="329.66" cy="251.93" r="0.9" fill="#2a67a3"/><circle cx="329.27" cy="250.51" r="0.9" fill="#2a67a3"/><circle cx="328.93" cy="249.08" r="0.9" fill="#2a67a3"/><circle cx="328.64" cy="247.64" r="0.9" fill="#2a67a3"/><circle cx="328.4" cy="246.19" r="0.9" fill="#2a67a3"/><circle cx="328.2" cy="244.73" r="0.9" fill="#2a67a3"/><circle cx="328.05" cy="243.27" r="0.9" fill="#2a67a3"/><circle cx="327.96" cy="241.8" r="0.9" fill="#2a67a3"/><circle cx="327.91" cy="240.33" r="0.9" fill="#2a67a3"/><circle cx="327.91" cy="238.87" r="0.9" fill="#2a67a3"/><circle cx="327.96" cy="237.4" r="0.9" fill="#2a67a3"/><circle cx="328.05" cy="235.93" r="0.9" fill="#2a67a3"/><circle cx="328.2" cy="234.47" r="0.9" fill="#2a67a3"/><circle cx="328.4" cy="233.01" r="0.9" fill="#2a67a3"/><circle cx="328.64" cy="231.56" r="0.9" fill="#2a67a3"/><circle cx="328.93" cy="230.12" r="0.9" fill="#2a67a3"/><circle cx="329.27" cy="228.69" r="0.9" fill="#2a67a3"/><circle cx="329.66" cy="227.27" r="0.9" fill="#2a67a3"/><circle cx="330.1" cy="225.87" r="0.9" fill="#2a67a3"/><circle cx="330.58" cy="224.48" r="0.9" fill="#2a67a3"/><circle cx="331.11" cy="223.11" r="0.9" fill="#2a67a3"/><circle cx="331.68" cy="221.75" r="0.9" fill="#2a67a3"/><circle cx="332.3" cy="220.42" r="0.9" fill="#2a67a3"/><circle cx="332.96" cy="219.11" r="0.9" fill="#2a67a3"/><circle cx="333.67" cy="217.82" r="0.9" fill="#2a67a3"/><circle cx="334.42" cy="216.55" r="0.9" fill="#2a67a3"/><circle cx="335.21" cy="215.31" r="0.9" fill="#2a67a3"/><circle cx="336.04" cy="214.1" r="0.9" fill="#2a67a3"/><circle cx="336.91" cy="212.92" r="0.9" fill="#2a67a3"/><circle cx="337.82" cy="211.77" r="0.9" fill="#2a67a3"/><circle cx="338.77" cy="210.64" r="0.9" fill="#2a67a3"/><circle cx="339.76" cy="209.55" r="0.9" fill="#2a67a3"/><circle cx="340.78" cy="208.5" r="0.9" fill="#2a67a3"/><circle cx="341.84" cy="207.47" r="0.9" fill="#2a67a3"/><circle cx="342.93" cy="206.49" r="0.9" fill="#2a67a3"/><circle cx="344.05" cy="205.54" r="0.9" fill="#2a67a3"/><circle cx="345.2" cy="204.63" r="0.9" fill="#2a67a3"/><circle cx="346.38" cy="203.75" r="0.9" fill="#2a67a3"/><circle cx="347.6" cy="202.92" r="0.9" fill="#2a67a3"/><circle cx="348.84" cy="202.13" r="0.9" fill="#2a67a3"/><circle cx="350.1" cy="201.38" r="0.9" fill="#2a67a3"/><circle cx="351.39" cy="200.67" r="0.9" fill="#2a67a3"/><circle cx="352.7" cy="200.01" r="0.9" fill="#2a67a3"/><circle cx="354.03" cy="199.39" r="0.9" fill="#2a67a3"/><text x="303" y="239.6" font-size="2.8" fill="#fff" font-weight="bold" text-anchor="middle" dominant-baseline="central" transform="rotate(-90 303 239.6)" textLength="18" lengthAdjust="spacingAndGlyphs">Drug Targets</text><text x="307.1" y="239.6" font-size="2.4" fill="#fff" font-weight="bold" text-anchor="middle" dominant-baseline="central" transform="rotate(-90 307.1 239.6)" textLength="8" lengthAdjust="spacingAndGlyphs">Genes</text><text x="441.1" y="239.6" font-size="2.6" fill="#fff" font-weight="bold" text-anchor="middle" dominant-baseline="central" transform="rotate(90 441.1 239.6)" textLength="16" lengthAdjust="spacingAndGlyphs">Drug Actions</text><text x="295.3" y="168.7" font-size="17.5">C</text><text x="449.8" y="194.1" font-size="9.8" textLength="28" lengthAdjust="spacingAndGlyphs" fill="#1a1a1a" stroke="#1a1a1a" stroke-width="0.22">Group</text><rect x="449.8" y="199" width="5" height="4.9" fill="#f6a81a"/><text x="457.8" y="203.4" font-size="5.2" font-weight="bold" textLength="15.2" lengthAdjust="spacingAndGlyphs">Drugs</text><rect x="449.8" y="207.4" width="5" height="4.9" fill="#4282c0"/><text x="457.8" y="211.8" font-size="5.2" font-weight="bold" textLength="59.2" lengthAdjust="spacingAndGlyphs">Fibrosis-Related Genes</text><text x="449.8" y="228.3" font-size="9.6" textLength="57" lengthAdjust="spacingAndGlyphs" fill="#1a1a1a" stroke="#1a1a1a" stroke-width="0.22">Drug Actions</text><circle cx="452.5" cy="235.4" r="2.5" fill="#e8141c"/><text x="457.8" y="237.2" font-size="5.2" font-weight="bold" textLength="23.5" lengthAdjust="spacingAndGlyphs">Activator</text><circle cx="452.5" cy="243.8" r="2.5" fill="#000"/><text x="457.8" y="245.6" font-size="5.2" font-weight="bold" textLength="19.5" lengthAdjust="spacingAndGlyphs">Agonist</text><circle cx="452.5" cy="252.2" r="2.5" fill="#2f5fd0"/><text x="457.8" y="254" font-size="5.2" font-weight="bold" textLength="28" lengthAdjust="spacingAndGlyphs">Antagonist</text><circle cx="452.5" cy="260.6" r="2.5" fill="#6b0a0a"/><text x="457.8" y="262.4" font-size="5.2" font-weight="bold" textLength="23" lengthAdjust="spacingAndGlyphs">Antibody</text><circle cx="452.5" cy="269" r="2.5" fill="#aaa"/><text x="457.8" y="270.8" font-size="5.2" font-weight="bold" textLength="17" lengthAdjust="spacingAndGlyphs">Binder</text><circle cx="452.5" cy="277.4" r="2.5" fill="#6a1b8a"/><text x="457.8" y="279.2" font-size="5.2" font-weight="bold" textLength="19.5" lengthAdjust="spacingAndGlyphs">Inducer</text><circle cx="452.5" cy="285.8" r="2.5" fill="#f26b55"/><text x="457.8" y="287.6" font-size="5.2" font-weight="bold" textLength="22" lengthAdjust="spacingAndGlyphs">Inhibitor</text><circle cx="452.5" cy="294.2" r="2.5" fill="#2e7d4f"/><text x="457.8" y="296" font-size="5.2" font-weight="bold" textLength="25" lengthAdjust="spacingAndGlyphs">Substrate</text><rect x="19.6" y="339.4" width="105.6" height="168.4" fill="#fff" stroke="#8c8c8c" stroke-width="0.6"/><text x="1.5" y="330.4" font-size="17.5">D</text><text x="32" y="337.2" font-size="9" textLength="82.8" lengthAdjust="spacingAndGlyphs" fill="#222" stroke="#222" stroke-width="0.22">Enrichment Analysis</text><g fill="#4683c4" fill-opacity="0.55"><circle cx="95.1" cy="347.1" r="5"/><circle cx="100.4" cy="355.8" r="4.4"/><circle cx="104.4" cy="367.3" r="4.4"/><circle cx="103.2" cy="369.9" r="4"/><circle cx="103.6" cy="372.3" r="3.6"/><circle cx="107.8" cy="398.6" r="4"/><circle cx="112.5" cy="400.2" r="3.6"/><circle cx="118" cy="410.3" r="3.6"/><circle cx="84.2" cy="408.7" r="3.2"/><circle cx="100.8" cy="408.7" r="3.6"/><circle cx="103.8" cy="410.3" r="3.2"/><circle cx="82.6" cy="414.7" r="4"/><circle cx="85.6" cy="415.7" r="3.6"/><circle cx="87.6" cy="417.7" r="3"/><circle cx="95.7" cy="418.8" r="3.6"/><circle cx="78.6" cy="423.8" r="4.2"/><circle cx="106.4" cy="422.4" r="2.4"/><circle cx="86.6" cy="420" r="3"/><circle cx="95.4" cy="420.5" r="3.2"/><circle cx="105.7" cy="423.2" r="3.8"/><circle cx="103.6" cy="427.6" r="3"/><circle cx="74.3" cy="431.9" r="3.5"/><circle cx="74.3" cy="436.2" r="3.3"/><circle cx="84.1" cy="437.3" r="3"/><circle cx="87.3" cy="443.8" r="3"/><circle cx="104.6" cy="447" r="3"/><circle cx="103.6" cy="454.1" r="2.6"/><circle cx="90.6" cy="461.7" r="3"/><circle cx="86.2" cy="467.6" r="3"/><circle cx="89.5" cy="473" r="3"/><circle cx="102.5" cy="479.5" r="2.2"/><circle cx="97.1" cy="490.4" r="2.5"/><circle cx="100.3" cy="491.5" r="2.5"/><circle cx="73" cy="433.5" r="3"/><circle cx="52.9" cy="465.2" r="2.3"/><circle cx="52.9" cy="468" r="2.3"/><circle cx="43.7" cy="478.5" r="2"/><circle cx="46.5" cy="476.7" r="2"/><circle cx="47.7" cy="480.8" r="2"/><circle cx="51.7" cy="480.2" r="2"/><circle cx="47.7" cy="488.8" r="2.2"/><circle cx="47.7" cy="492.3" r="2.2"/><circle cx="65.4" cy="461" r="3.2"/><circle cx="66.4" cy="453" r="3"/><circle cx="63.4" cy="448" r="3"/><circle cx="62.81" cy="460.69" r="3.2"/><circle cx="66.27" cy="446.48" r="3.37"/><circle cx="69.89" cy="455.37" r="3.06"/><circle cx="63.6" cy="440.1" r="2.91"/><circle cx="67.44" cy="442.08" r="3.37"/><circle cx="63.55" cy="446.98" r="2.55"/><circle cx="71.97" cy="462.16" r="3.46"/><circle cx="67.77" cy="441.02" r="2.86"/><circle cx="66.47" cy="443.47" r="3.55"/><circle cx="65.05" cy="444.64" r="3.4"/><circle cx="62.37" cy="467.84" r="3"/><circle cx="67.07" cy="450.29" r="3.03"/><circle cx="63.06" cy="441.11" r="3.45"/><circle cx="63.58" cy="463.41" r="2.73"/><circle cx="71.66" cy="466.82" r="3.33"/><circle cx="69.39" cy="457.42" r="3.3"/><circle cx="54.73" cy="482.38" r="3.03"/><circle cx="55.21" cy="494" r="3.09"/><circle cx="56.46" cy="479.5" r="2.65"/><circle cx="56.31" cy="495.87" r="2.59"/><circle cx="54.16" cy="472.42" r="2.92"/><circle cx="59.96" cy="482.9" r="2.69"/><circle cx="57.3" cy="489.45" r="2.42"/><circle cx="57.65" cy="484.47" r="2.82"/><circle cx="55.08" cy="474.42" r="2.55"/><circle cx="97.23" cy="442.56" r="3"/><circle cx="73.65" cy="432.34" r="2.47"/><circle cx="92.92" cy="460.63" r="2.77"/><circle cx="87.97" cy="456.39" r="3.3"/><circle cx="98.41" cy="445.09" r="3.39"/><circle cx="98.53" cy="452.8" r="3.28"/><circle cx="80.65" cy="443.77" r="2.65"/><circle cx="95.29" cy="434.82" r="2.47"/><circle cx="92.6" cy="460.5" r="2.88"/><circle cx="93.81" cy="430.19" r="2.66"/><circle cx="73.02" cy="445.62" r="2.57"/><circle cx="64.64" cy="442.2" r="3.3"/><circle cx="99.37" cy="459.33" r="2.88"/><circle cx="71.58" cy="468.27" r="2.93"/><circle cx="88.23" cy="470.76" r="2.21"/><circle cx="92.18" cy="491.47" r="2.88"/><circle cx="83.65" cy="481.5" r="2.58"/><circle cx="92.58" cy="478.32" r="2.53"/><circle cx="71.94" cy="490.74" r="2.01"/><circle cx="86.67" cy="495.76" r="2.02"/><circle cx="83.37" cy="487.38" r="2.85"/><circle cx="83.04" cy="476.94" r="2.41"/><circle cx="96.51" cy="494.45" r="2.13"/><circle cx="65.41" cy="472.54" r="2.03"/><circle cx="71.38" cy="461.93" r="2.81"/><circle cx="62.69" cy="459.81" r="3.28"/><circle cx="61.65" cy="470.34" r="2.92"/><circle cx="61.56" cy="466.74" r="2.75"/><circle cx="67.54" cy="444.8" r="3.2"/><circle cx="61.88" cy="450.89" r="3.54"/><circle cx="64.54" cy="452.85" r="3.22"/><circle cx="61.93" cy="443.93" r="2.98"/><circle cx="61.81" cy="444.41" r="3.56"/><circle cx="58.48" cy="465.55" r="3.53"/><circle cx="80.47" cy="479.32" r="2.39"/><circle cx="70.79" cy="443.41" r="2.24"/><circle cx="79.8" cy="479.48" r="2.85"/><circle cx="66.33" cy="446.04" r="3.13"/><circle cx="81.54" cy="463.69" r="2.89"/><circle cx="89.11" cy="470.43" r="2.28"/><circle cx="93.09" cy="452.4" r="2.24"/><circle cx="74.09" cy="470.89" r="2.83"/><circle cx="66.96" cy="481.16" r="2.69"/><circle cx="66.48" cy="489.36" r="3.01"/><circle cx="96.25" cy="479.41" r="2.42"/><circle cx="91.11" cy="492.36" r="2.73"/><circle cx="96.34" cy="496.27" r="2.59"/><circle cx="97.67" cy="494.33" r="2.99"/><circle cx="68.12" cy="459.31" r="2.64"/><circle cx="63.7" cy="473.05" r="3"/><circle cx="64.61" cy="455.58" r="3.1"/><circle cx="65.98" cy="467.72" r="3.29"/><circle cx="67.51" cy="455" r="2.8"/><circle cx="67.82" cy="471.72" r="3.34"/><circle cx="61.99" cy="473.91" r="3.31"/><circle cx="60.77" cy="452.32" r="3.11"/></g><g fill="#f6a41c" fill-opacity="0.62"><circle cx="91.1" cy="382.8" r="5"/><circle cx="102.4" cy="383.2" r="3.2"/><circle cx="91.7" cy="435.2" r="3.6"/><circle cx="96" cy="441.7" r="3.6"/><circle cx="101.4" cy="431.9" r="3.6"/><circle cx="109" cy="436.8" r="3.4"/><circle cx="105.7" cy="442.7" r="3.2"/><circle cx="76.5" cy="442.7" r="3.2"/><circle cx="87.3" cy="452.5" r="3.6"/><circle cx="98.2" cy="450.9" r="2.8"/><circle cx="83" cy="461.1" r="3.2"/><circle cx="94.9" cy="464.4" r="3.2"/><circle cx="104.6" cy="466.6" r="3.6"/><circle cx="96" cy="470.9" r="3"/><circle cx="104.6" cy="483.9" r="2.4"/><circle cx="104.6" cy="488.2" r="2.4"/><circle cx="84.1" cy="495.8" r="2.6"/><circle cx="66" cy="440.4" r="3"/><circle cx="38.5" cy="490.6" r="2.2"/><circle cx="41.3" cy="495.8" r="2.2"/><circle cx="52.3" cy="489" r="2.4"/><circle cx="76.49" cy="470.37" r="3.73"/><circle cx="80.45" cy="469.92" r="3.3"/><circle cx="74.16" cy="481.31" r="2.89"/><circle cx="71.16" cy="471.7" r="3.09"/><circle cx="81.49" cy="483.05" r="2.66"/><circle cx="81.51" cy="493.09" r="3.61"/><circle cx="83.02" cy="466.24" r="3.2"/><circle cx="69.21" cy="489.68" r="2.83"/><circle cx="81.52" cy="473.84" r="3.51"/><circle cx="73.96" cy="467.3" r="3.11"/><circle cx="73.88" cy="493.92" r="2.98"/><circle cx="77.56" cy="483.03" r="3.83"/><circle cx="69.87" cy="484.64" r="3.26"/><circle cx="81.96" cy="495.98" r="3"/><circle cx="81.29" cy="482.3" r="3.33"/><circle cx="69.21" cy="491.26" r="3.87"/><circle cx="74.75" cy="475.86" r="3.89"/><circle cx="70.04" cy="468.36" r="2.7"/><circle cx="83.47" cy="489.56" r="3.18"/><circle cx="79.81" cy="466.61" r="3.44"/><circle cx="76.41" cy="482.04" r="3.11"/><circle cx="75.63" cy="472.99" r="2.66"/><circle cx="76.24" cy="473.66" r="3.52"/><circle cx="83.53" cy="488.44" r="3.19"/><circle cx="72.49" cy="477.95" r="3.23"/><circle cx="80" cy="495.86" r="2.71"/><circle cx="77.11" cy="481.25" r="3.53"/><circle cx="84.92" cy="490.16" r="3.41"/><circle cx="92.76" cy="454.72" r="3.43"/><circle cx="90.97" cy="455.32" r="2.69"/><circle cx="97.5" cy="443.44" r="3.14"/><circle cx="94.75" cy="466.55" r="3.59"/><circle cx="70.19" cy="440.5" r="2.77"/><circle cx="81.74" cy="433.82" r="3.06"/><circle cx="72.39" cy="440.1" r="3.53"/><circle cx="92.27" cy="446.49" r="2.53"/><circle cx="100.09" cy="468.55" r="2.7"/><circle cx="86.79" cy="485.63" r="2.9"/><circle cx="90.8" cy="468.22" r="2.74"/><circle cx="87.89" cy="476.96" r="2.65"/><circle cx="103.89" cy="478.73" r="2.33"/><circle cx="101.83" cy="491.85" r="2.73"/><circle cx="86.98" cy="473.44" r="2.6"/><circle cx="97.04" cy="474.53" r="3"/><circle cx="102.87" cy="494.83" r="3.08"/><circle cx="86.35" cy="484.88" r="2.28"/><circle cx="66.8" cy="490.17" r="2.96"/><circle cx="58.26" cy="471.61" r="3.02"/><circle cx="63.28" cy="486.75" r="2.67"/><circle cx="65.6" cy="479.13" r="2.47"/><circle cx="60.24" cy="478.05" r="2.83"/><circle cx="66.68" cy="471.92" r="2.27"/><circle cx="66.38" cy="468.19" r="3.14"/><circle cx="86.64" cy="486.76" r="3.18"/><circle cx="71.49" cy="494.82" r="3.04"/><circle cx="95.98" cy="461.51" r="3.6"/><circle cx="84.87" cy="487.68" r="3.29"/><circle cx="96.01" cy="468.67" r="2.5"/><circle cx="79.79" cy="460.2" r="3.05"/><circle cx="93.71" cy="468.66" r="2.56"/><circle cx="66.92" cy="471.46" r="3.1"/><circle cx="66.89" cy="482.61" r="2.65"/><circle cx="69.64" cy="494.67" r="3.03"/><circle cx="96.43" cy="475.64" r="2.55"/><circle cx="74.16" cy="471.52" r="3.17"/><circle cx="92.21" cy="486.56" r="3.18"/><circle cx="74.6" cy="471.79" r="2.85"/><circle cx="82.65" cy="464.21" r="3.05"/><circle cx="81.6" cy="453.64" r="3.39"/><circle cx="85.94" cy="488.93" r="3.28"/><circle cx="90.85" cy="497.7" r="2.85"/><circle cx="79.38" cy="452.17" r="3.2"/><circle cx="85.77" cy="478.52" r="3.6"/><circle cx="72.7" cy="462.45" r="3.28"/></g><line x1="23.8" y1="500" x2="120.5" y2="500" stroke="#b07a9a" stroke-width="0.9" stroke-dasharray="1.6 1.4"/><line x1="18.2" y1="503.3" x2="19.6" y2="503.3" stroke="#666" stroke-width="0.4"/><text x="17.3" y="504.6" font-size="3.8" text-anchor="end" fill="#333">0</text><line x1="18.2" y1="473.1" x2="19.6" y2="473.1" stroke="#666" stroke-width="0.4"/><text x="17.3" y="474.4" font-size="3.8" text-anchor="end" fill="#333">10</text><line x1="18.2" y1="442.9" x2="19.6" y2="442.9" stroke="#666" stroke-width="0.4"/><text x="17.3" y="444.2" font-size="3.8" text-anchor="end" fill="#333">20</text><line x1="18.2" y1="412.7" x2="19.6" y2="412.7" stroke="#666" stroke-width="0.4"/><text x="17.3" y="414" font-size="3.8" text-anchor="end" fill="#333">30</text><line x1="18.2" y1="382.5" x2="19.6" y2="382.5" stroke="#666" stroke-width="0.4"/><text x="17.3" y="383.8" font-size="3.8" text-anchor="end" fill="#333">40</text><line x1="18.2" y1="352.3" x2="19.6" y2="352.3" stroke="#666" stroke-width="0.4"/><text x="17.3" y="353.6" font-size="3.8" text-anchor="end" fill="#333">50</text><line x1="25.3" y1="507.8" x2="25.3" y2="509.2" stroke="#666" stroke-width="0.4"/><text x="25.3" y="512.6" font-size="3.8" text-anchor="middle" fill="#333">−2</text><line x1="41.1" y1="507.8" x2="41.1" y2="509.2" stroke="#666" stroke-width="0.4"/><text x="41.1" y="512.6" font-size="3.8" text-anchor="middle" fill="#333">−1</text><line x1="56.9" y1="507.8" x2="56.9" y2="509.2" stroke="#666" stroke-width="0.4"/><text x="56.9" y="512.6" font-size="3.8" text-anchor="middle" fill="#333">0</text><line x1="72.7" y1="507.8" x2="72.7" y2="509.2" stroke="#666" stroke-width="0.4"/><text x="72.7" y="512.6" font-size="3.8" text-anchor="middle" fill="#333">1</text><line x1="88.5" y1="507.8" x2="88.5" y2="509.2" stroke="#666" stroke-width="0.4"/><text x="88.5" y="512.6" font-size="3.8" text-anchor="middle" fill="#333">2</text><line x1="104.3" y1="507.8" x2="104.3" y2="509.2" stroke="#666" stroke-width="0.4"/><text x="104.3" y="512.6" font-size="3.8" text-anchor="middle" fill="#333">3</text><line x1="120.1" y1="507.8" x2="120.1" y2="509.2" stroke="#666" stroke-width="0.4"/><text x="120.1" y="512.6" font-size="3.8" text-anchor="middle" fill="#333">4</text><text x="72.2" y="519.6" font-size="6.2" font-weight="bold" text-anchor="middle" textLength="91" lengthAdjust="spacingAndGlyphs" fill="#1a1a1a">Pro-Anti Fibrosis Normalization</text><text transform="translate(9.5 421) rotate(-90)" font-size="9.6" text-anchor="middle" textLength="124" lengthAdjust="spacingAndGlyphs" fill="#222" stroke="#222" stroke-width="0.22">Enrichment Score (-log10(FDR))</text><circle cx="30.8" cy="346.4" r="3.6" fill="#5b93c9" fill-opacity="0.55"/><circle cx="30.8" cy="355.4" r="3.6" fill="#f5ac2c" fill-opacity="0.6"/><text x="42" y="348.7" font-size="6.3" textLength="21" lengthAdjust="spacingAndGlyphs" fill="#1a1a1a" stroke="#1a1a1a" stroke-width="0.22">GO-BP</text><text x="42" y="357.7" font-size="6.3" textLength="18.2" lengthAdjust="spacingAndGlyphs" fill="#1a1a1a" stroke="#1a1a1a" stroke-width="0.22">KEGG</text><text x="25.8" y="371.2" font-size="5" textLength="26" lengthAdjust="spacingAndGlyphs" fill="#1a1a1a">Hit-Genes</text><circle cx="30.3" cy="377.2" r="1.8" fill="#000"/><text x="39.2" y="379.1" font-size="5.4" fill="#1a1a1a">6</text><circle cx="30.3" cy="385.6" r="2.4" fill="#000"/><text x="39.2" y="387.5" font-size="5.4" fill="#1a1a1a">12</text><circle cx="30.3" cy="395.2" r="3.1" fill="#000"/><text x="39.2" y="397.1" font-size="5.4" fill="#1a1a1a">18</text><rect x="128.2" y="332.3" width="159.8" height="10" fill="#050505"/><text x="186.3" y="338.9" font-size="4.6" font-weight="bold" fill="#fff" text-anchor="middle" textLength="46" lengthAdjust="spacingAndGlyphs">Top 10 Enriched Terms</text><text x="255.1" y="338.9" font-size="4.6" font-weight="bold" fill="#fff" text-anchor="middle" textLength="19.5" lengthAdjust="spacingAndGlyphs">Hit Count</text><text x="277.6" y="338.9" font-size="4.6" font-weight="bold" fill="#fff" text-anchor="middle" textLength="9" lengthAdjust="spacingAndGlyphs">FDR</text><rect x="128.2" y="342.3" width="159.8" height="8.88" fill="#7accf0"/><line x1="128.2" y1="351.18" x2="288.0" y2="351.18" stroke="#52a6d0" stroke-width="0.35"/><text x="129" y="348.6" font-size="5.3" fill="#111" stroke="#111" stroke-width="0.1" textLength="76.81" lengthAdjust="spacingAndGlyphs">cytokine-mediated signaling pathway</text><text x="255.1" y="348.6" font-size="5" fill="#111" stroke="#111" stroke-width="0.12" text-anchor="middle" textLength="5" lengthAdjust="spacingAndGlyphs">83</text><text x="277.6" y="348.6" font-size="5" fill="#111" stroke="#111" stroke-width="0.12" text-anchor="middle" textLength="17.5" lengthAdjust="spacingAndGlyphs">1.76E-52</text><rect x="128.2" y="351.18" width="159.8" height="8.88" fill="#7accf0"/><line x1="128.2" y1="360.05" x2="288.0" y2="360.05" stroke="#52a6d0" stroke-width="0.35"/><text x="129" y="357.48" font-size="5.3" fill="#111" stroke="#111" stroke-width="0.1" textLength="77.84" lengthAdjust="spacingAndGlyphs">cellular response to cytokine stimulus</text><text x="255.1" y="357.48" font-size="5" fill="#111" stroke="#111" stroke-width="0.12" text-anchor="middle" textLength="5" lengthAdjust="spacingAndGlyphs">73</text><text x="277.6" y="357.48" font-size="5" fill="#111" stroke="#111" stroke-width="0.12" text-anchor="middle" textLength="17.5" lengthAdjust="spacingAndGlyphs">1.63E-49</text><rect x="128.2" y="360.05" width="159.8" height="8.88" fill="#7accf0"/><line x1="128.2" y1="368.93" x2="288.0" y2="368.93" stroke="#52a6d0" stroke-width="0.35"/><text x="129" y="366.35" font-size="5.3" fill="#111" stroke="#111" stroke-width="0.1" textLength="83.08" lengthAdjust="spacingAndGlyphs">regulation of cell population proliferation</text><text x="255.1" y="366.35" font-size="5" fill="#111" stroke="#111" stroke-width="0.12" text-anchor="middle" textLength="5" lengthAdjust="spacingAndGlyphs">83</text><text x="277.6" y="366.35" font-size="5" fill="#111" stroke="#111" stroke-width="0.12" text-anchor="middle" textLength="17.5" lengthAdjust="spacingAndGlyphs">1.20E-45</text><rect x="128.2" y="368.93" width="159.8" height="8.88" fill="#7accf0"/><line x1="128.2" y1="377.8" x2="288.0" y2="377.8" stroke="#52a6d0" stroke-width="0.35"/><text x="129" y="375.23" font-size="5.3" fill="#111" stroke="#111" stroke-width="0.1" textLength="100.32" lengthAdjust="spacingAndGlyphs">positive regulation of cell population proliferation</text><text x="255.1" y="375.23" font-size="5" fill="#111" stroke="#111" stroke-width="0.12" text-anchor="middle" textLength="5" lengthAdjust="spacingAndGlyphs">68</text><text x="277.6" y="375.23" font-size="5" fill="#111" stroke="#111" stroke-width="0.12" text-anchor="middle" textLength="17.5" lengthAdjust="spacingAndGlyphs">2.15E-44</text><rect x="128.2" y="377.8" width="159.8" height="8.88" fill="#7accf0"/><line x1="128.2" y1="386.68" x2="288.0" y2="386.68" stroke="#52a6d0" stroke-width="0.35"/><text x="129" y="384.1" font-size="5.3" fill="#111" stroke="#111" stroke-width="0.1" textLength="77.06" lengthAdjust="spacingAndGlyphs">positive regulation of cellular process</text><text x="255.1" y="384.1" font-size="5" fill="#111" stroke="#111" stroke-width="0.12" text-anchor="middle" textLength="5" lengthAdjust="spacingAndGlyphs">67</text><text x="277.6" y="384.1" font-size="5" fill="#111" stroke="#111" stroke-width="0.12" text-anchor="middle" textLength="17.5" lengthAdjust="spacingAndGlyphs">1.71E-35</text><rect x="128.2" y="386.68" width="159.8" height="8.88" fill="#7accf0"/><line x1="128.2" y1="395.55" x2="288.0" y2="395.55" stroke="#52a6d0" stroke-width="0.35"/><text x="129" y="392.98" font-size="5.3" fill="#111" stroke="#111" stroke-width="0.1" textLength="72.1" lengthAdjust="spacingAndGlyphs">positive regulation of cell migration</text><text x="255.1" y="392.98" font-size="5" fill="#111" stroke="#111" stroke-width="0.12" text-anchor="middle" textLength="5" lengthAdjust="spacingAndGlyphs">48</text><text x="277.6" y="392.98" font-size="5" fill="#111" stroke="#111" stroke-width="0.12" text-anchor="middle" textLength="17.5" lengthAdjust="spacingAndGlyphs">6.07E-35</text><rect x="128.2" y="395.55" width="159.8" height="8.88" fill="#7accf0"/><line x1="128.2" y1="404.43" x2="288.0" y2="404.43" stroke="#52a6d0" stroke-width="0.35"/><text x="129" y="401.85" font-size="5.3" fill="#111" stroke="#111" stroke-width="0.1" textLength="108.94" lengthAdjust="spacingAndGlyphs">positive regulation of intracellular signal transduction</text><text x="255.1" y="401.85" font-size="5" fill="#111" stroke="#111" stroke-width="0.12" text-anchor="middle" textLength="5" lengthAdjust="spacingAndGlyphs">60</text><text x="277.6" y="401.85" font-size="5" fill="#111" stroke="#111" stroke-width="0.12" text-anchor="middle" textLength="17.5" lengthAdjust="spacingAndGlyphs">4.38E-32</text><rect x="128.2" y="404.43" width="159.8" height="8.88" fill="#7accf0"/><line x1="128.2" y1="413.3" x2="288.0" y2="413.3" stroke="#52a6d0" stroke-width="0.35"/><text x="129" y="410.73" font-size="5.3" fill="#111" stroke="#111" stroke-width="0.1" textLength="111.28" lengthAdjust="spacingAndGlyphs">positive regulation of multicellular organismal process</text><text x="255.1" y="410.73" font-size="5" fill="#111" stroke="#111" stroke-width="0.12" text-anchor="middle" textLength="5" lengthAdjust="spacingAndGlyphs">50</text><text x="277.6" y="410.73" font-size="5" fill="#111" stroke="#111" stroke-width="0.12" text-anchor="middle" textLength="17.5" lengthAdjust="spacingAndGlyphs">4.45E-32</text><rect x="128.2" y="413.3" width="159.8" height="8.88" fill="#7accf0"/><line x1="128.2" y1="422.18" x2="288.0" y2="422.18" stroke="#52a6d0" stroke-width="0.35"/><text x="129" y="419.6" font-size="5.3" fill="#111" stroke="#111" stroke-width="0.1" textLength="66.35" lengthAdjust="spacingAndGlyphs">extracellular matrix organization</text><text x="255.1" y="419.6" font-size="5" fill="#111" stroke="#111" stroke-width="0.12" text-anchor="middle" textLength="5" lengthAdjust="spacingAndGlyphs">47</text><text x="277.6" y="419.6" font-size="5" fill="#111" stroke="#111" stroke-width="0.12" text-anchor="middle" textLength="17.5" lengthAdjust="spacingAndGlyphs">1.25E-31</text><rect x="128.2" y="422.18" width="159.8" height="8.88" fill="#7accf0"/><line x1="128.2" y1="431.05" x2="288.0" y2="431.05" stroke="#52a6d0" stroke-width="0.35"/><text x="129" y="428.48" font-size="5.3" fill="#111" stroke="#111" stroke-width="0.1" textLength="67.39" lengthAdjust="spacingAndGlyphs">positive regulation of cell motility</text><text x="255.1" y="428.48" font-size="5" fill="#111" stroke="#111" stroke-width="0.12" text-anchor="middle" textLength="5" lengthAdjust="spacingAndGlyphs">42</text><text x="277.6" y="428.48" font-size="5" fill="#111" stroke="#111" stroke-width="0.12" text-anchor="middle" textLength="17.5" lengthAdjust="spacingAndGlyphs">1.18E-31</text><rect x="128.2" y="431.05" width="159.8" height="8.88" fill="#f9bc2e"/><line x1="128.2" y1="439.93" x2="288.0" y2="439.93" stroke="#d49a1a" stroke-width="0.35"/><text x="129" y="437.35" font-size="5.3" fill="#111" stroke="#111" stroke-width="0.1" textLength="40.75" lengthAdjust="spacingAndGlyphs">Pathways in cancer</text><text x="255.1" y="437.35" font-size="5" fill="#111" stroke="#111" stroke-width="0.12" text-anchor="middle" textLength="5" lengthAdjust="spacingAndGlyphs">85</text><text x="277.6" y="437.35" font-size="5" fill="#111" stroke="#111" stroke-width="0.12" text-anchor="middle" textLength="17.5" lengthAdjust="spacingAndGlyphs">1.14E-40</text><rect x="128.2" y="439.93" width="159.8" height="8.88" fill="#f9bc2e"/><line x1="128.2" y1="448.8" x2="288.0" y2="448.8" stroke="#d49a1a" stroke-width="0.35"/><text x="129" y="446.23" font-size="5.3" fill="#111" stroke="#111" stroke-width="0.1" textLength="115.72" lengthAdjust="spacingAndGlyphs">AGE-RAGE signaling pathway in diabetic complications</text><text x="255.1" y="446.23" font-size="5" fill="#111" stroke="#111" stroke-width="0.12" text-anchor="middle" textLength="5" lengthAdjust="spacingAndGlyphs">44</text><text x="277.6" y="446.23" font-size="5" fill="#111" stroke="#111" stroke-width="0.12" text-anchor="middle" textLength="17.5" lengthAdjust="spacingAndGlyphs">2.03E-40</text><rect x="128.2" y="448.8" width="159.8" height="8.88" fill="#f9bc2e"/><line x1="128.2" y1="457.68" x2="288.0" y2="457.68" stroke="#d49a1a" stroke-width="0.35"/><text x="129" y="455.1" font-size="5.3" fill="#111" stroke="#111" stroke-width="0.1" textLength="57.21" lengthAdjust="spacingAndGlyphs">PI3K-Akt signaling pathway</text><text x="255.1" y="455.1" font-size="5" fill="#111" stroke="#111" stroke-width="0.12" text-anchor="middle" textLength="5" lengthAdjust="spacingAndGlyphs">55</text><text x="277.6" y="455.1" font-size="5" fill="#111" stroke="#111" stroke-width="0.12" text-anchor="middle" textLength="17.5" lengthAdjust="spacingAndGlyphs">1.62E-24</text><rect x="128.2" y="457.68" width="159.8" height="8.88" fill="#f9bc2e"/><line x1="128.2" y1="466.55" x2="288.0" y2="466.55" stroke="#d49a1a" stroke-width="0.35"/><text x="129" y="463.98" font-size="5.3" fill="#111" stroke="#111" stroke-width="0.1" textLength="50.16" lengthAdjust="spacingAndGlyphs">Proteoglycans in cancer</text><text x="255.1" y="463.98" font-size="5" fill="#111" stroke="#111" stroke-width="0.12" text-anchor="middle" textLength="5" lengthAdjust="spacingAndGlyphs">42</text><text x="277.6" y="463.98" font-size="5" fill="#111" stroke="#111" stroke-width="0.12" text-anchor="middle" textLength="17.5" lengthAdjust="spacingAndGlyphs">2.80E-23</text><rect x="128.2" y="466.55" width="159.8" height="8.88" fill="#f9bc2e"/><line x1="128.2" y1="475.43" x2="288.0" y2="475.43" stroke="#d49a1a" stroke-width="0.35"/><text x="129" y="472.85" font-size="5.3" fill="#111" stroke="#111" stroke-width="0.1" textLength="31.87" lengthAdjust="spacingAndGlyphs">Focal adhesion</text><text x="255.1" y="472.85" font-size="5" fill="#111" stroke="#111" stroke-width="0.12" text-anchor="middle" textLength="5" lengthAdjust="spacingAndGlyphs">41</text><text x="277.6" y="472.85" font-size="5" fill="#111" stroke="#111" stroke-width="0.12" text-anchor="middle" textLength="17.5" lengthAdjust="spacingAndGlyphs">1.04E-22</text><rect x="128.2" y="475.43" width="159.8" height="8.88" fill="#f9bc2e"/><line x1="128.2" y1="484.3" x2="288.0" y2="484.3" stroke="#d49a1a" stroke-width="0.35"/><text x="129" y="481.73" font-size="5.3" fill="#111" stroke="#111" stroke-width="0.1" textLength="51.99" lengthAdjust="spacingAndGlyphs">MAPK signaling pathway</text><text x="255.1" y="481.73" font-size="5" fill="#111" stroke="#111" stroke-width="0.12" text-anchor="middle" textLength="5" lengthAdjust="spacingAndGlyphs">48</text><text x="277.6" y="481.73" font-size="5" fill="#111" stroke="#111" stroke-width="0.12" text-anchor="middle" textLength="17.5" lengthAdjust="spacingAndGlyphs">2.13E-22</text><rect x="128.2" y="484.3" width="159.8" height="8.88" fill="#f9bc2e"/><line x1="128.2" y1="493.18" x2="288.0" y2="493.18" stroke="#d49a1a" stroke-width="0.35"/><text x="129" y="490.6" font-size="5.3" fill="#111" stroke="#111" stroke-width="0.1" textLength="49.38" lengthAdjust="spacingAndGlyphs">IL-17 signaling pathway</text><text x="255.1" y="490.6" font-size="5" fill="#111" stroke="#111" stroke-width="0.12" text-anchor="middle" textLength="5" lengthAdjust="spacingAndGlyphs">29</text><text x="277.6" y="490.6" font-size="5" fill="#111" stroke="#111" stroke-width="0.12" text-anchor="middle" textLength="17.5" lengthAdjust="spacingAndGlyphs">2.03E-21</text><rect x="128.2" y="493.18" width="159.8" height="8.88" fill="#f9bc2e"/><line x1="128.2" y1="502.05" x2="288.0" y2="502.05" stroke="#d49a1a" stroke-width="0.35"/><text x="129" y="499.48" font-size="5.3" fill="#111" stroke="#111" stroke-width="0.1" textLength="22.73" lengthAdjust="spacingAndGlyphs">Hepatitis B</text><text x="255.1" y="499.48" font-size="5" fill="#111" stroke="#111" stroke-width="0.12" text-anchor="middle" textLength="5" lengthAdjust="spacingAndGlyphs">36</text><text x="277.6" y="499.48" font-size="5" fill="#111" stroke="#111" stroke-width="0.12" text-anchor="middle" textLength="17.5" lengthAdjust="spacingAndGlyphs">2.32E-21</text><rect x="128.2" y="502.05" width="159.8" height="8.88" fill="#f9bc2e"/><line x1="128.2" y1="510.93" x2="288.0" y2="510.93" stroke="#d49a1a" stroke-width="0.35"/><text x="129" y="508.35" font-size="5.3" fill="#111" stroke="#111" stroke-width="0.1" textLength="48.51" lengthAdjust="spacingAndGlyphs">Th17 cell differentiation</text><text x="255.1" y="508.35" font-size="5" fill="#111" stroke="#111" stroke-width="0.12" text-anchor="middle" textLength="5" lengthAdjust="spacingAndGlyphs">30</text><text x="277.6" y="508.35" font-size="5" fill="#111" stroke="#111" stroke-width="0.12" text-anchor="middle" textLength="17.5" lengthAdjust="spacingAndGlyphs">6.35E-21</text><rect x="128.2" y="510.93" width="159.8" height="8.88" fill="#f9bc2e"/><line x1="128.2" y1="519.8" x2="288.0" y2="519.8" stroke="#d49a1a" stroke-width="0.35"/><text x="129" y="517.23" font-size="5.3" fill="#111" stroke="#111" stroke-width="0.1" textLength="78.63" lengthAdjust="spacingAndGlyphs">Cytokine-cytokine receptor interaction</text><text x="255.1" y="517.23" font-size="5" fill="#111" stroke="#111" stroke-width="0.12" text-anchor="middle" textLength="5" lengthAdjust="spacingAndGlyphs">46</text><text x="277.6" y="517.23" font-size="5" fill="#111" stroke="#111" stroke-width="0.12" text-anchor="middle" textLength="17.5" lengthAdjust="spacingAndGlyphs">9.20E-21</text><rect x="128.2" y="332.3" width="159.8" height="187.5" fill="none" stroke="#222" stroke-width="0.6"/><text x="295.6" y="329.9" font-size="17.5">E</text><rect x="331.5" y="332.1" width="184.1" height="82.9" fill="#fff" stroke="#8c8c8c" stroke-width="0.6"/><text x="332.7" y="338.3" font-size="5.6" font-weight="bold" fill="#111">Pro-FRGs</text><line x1="331.5" y1="359.8" x2="515.6" y2="359.8" stroke="#6e6e6e" stroke-width="0.9"/><path d="M350.3 359.8L350.3 359.79L351.06 359.78L351.82 359.76L352.58 359.73L353.34 359.66L354.1 359.54L354.86 359.34L355.62 359.01L356.38 358.5L357.14 357.74L357.9 356.66L358.66 355.21L359.42 353.35L360.18 351.09L360.94 348.51L361.7 345.73L362.46 342.95L363.22 340.42L363.98 338.38L364.74 337.06L365.5 336.6L366.26 337.06L367.02 338.38L367.78 340.42L368.54 342.95L369.3 345.73L370.06 348.51L370.82 351.09L371.58 353.35L372.34 355.21L373.1 356.66L373.86 357.74L374.62 358.5L375.38 359.01L376.14 359.34L376.9 359.54L377.66 359.66L378.42 359.73L379.18 359.76L379.94 359.78L380.7 359.79L380.7 359.8Z" fill="#6e9fd6" fill-opacity="0.68" stroke="#222" stroke-width="0.65"/><path d="M374.8 359.8L374.8 359.79L375.72 359.79L376.64 359.78L377.56 359.75L378.48 359.7L379.4 359.62L380.32 359.48L381.24 359.26L382.16 358.9L383.08 358.38L384 357.63L384.92 356.63L385.84 355.35L386.76 353.8L387.68 352.01L388.6 350.1L389.52 348.18L390.44 346.44L391.36 345.03L392.28 344.12L393.2 343.8L394.12 344.12L395.04 345.03L395.96 346.44L396.88 348.18L397.8 350.1L398.72 352.01L399.64 353.8L400.56 355.35L401.48 356.63L402.4 357.63L403.32 358.38L404.24 358.9L405.16 359.26L406.08 359.48L407 359.62L407.92 359.7L408.84 359.75L409.76 359.78L410.68 359.79L411.6 359.79L411.6 359.8Z" fill="#f6c04a" fill-opacity="0.68" stroke="#222" stroke-width="0.65"/><line x1="331.5" y1="359.8" x2="515.6" y2="359.8" stroke="#5a5a5a" stroke-width="0.8"/><text x="330" y="361.6" font-size="5.3" font-weight="bold" text-anchor="end" fill="#111">Kidney</text><line x1="331.5" y1="368.9" x2="515.6" y2="368.9" stroke="#6e6e6e" stroke-width="0.9"/><path d="M350.6 368.9L350.6 368.89L351.36 368.88L352.12 368.86L352.88 368.83L353.64 368.76L354.4 368.64L355.16 368.43L355.92 368.09L356.68 367.56L357.44 366.78L358.2 365.68L358.96 364.19L359.72 362.28L360.48 359.97L361.24 357.32L362 354.46L362.76 351.62L363.52 349.02L364.28 346.93L365.04 345.57L365.8 345.1L366.56 345.57L367.32 346.93L368.08 349.02L368.84 351.62L369.6 354.46L370.36 357.32L371.12 359.97L371.88 362.28L372.64 364.19L373.4 365.68L374.16 366.78L374.92 367.56L375.68 368.09L376.44 368.43L377.2 368.64L377.96 368.76L378.72 368.83L379.48 368.86L380.24 368.88L381 368.89L381 368.9Z" fill="#6e9fd6" fill-opacity="0.68" stroke="#222" stroke-width="0.65"/><path d="M351.8 368.9L351.8 368.89L352.58 368.88L353.36 368.87L354.14 368.83L354.92 368.77L355.7 368.66L356.48 368.48L357.26 368.18L358.04 367.71L358.82 367.01L359.6 366.03L360.38 364.7L361.16 363.01L361.94 360.94L362.72 358.58L363.5 356.04L364.28 353.51L365.06 351.19L365.84 349.33L366.62 348.12L367.4 347.7L368.18 348.12L368.96 349.33L369.74 351.19L370.52 353.51L371.3 356.04L372.08 358.58L372.86 360.94L373.64 363.01L374.42 364.7L375.2 366.03L375.98 367.01L376.76 367.71L377.54 368.18L378.32 368.48L379.1 368.66L379.88 368.77L380.66 368.83L381.44 368.87L382.22 368.88L383 368.89L383 368.9Z" fill="#f6c04a" fill-opacity="0.68" stroke="#222" stroke-width="0.65"/><line x1="331.5" y1="368.9" x2="515.6" y2="368.9" stroke="#5a5a5a" stroke-width="0.8"/><text x="330" y="370.7" font-size="5.3" font-weight="bold" text-anchor="end" fill="#111">Skin</text><line x1="331.5" y1="378" x2="515.6" y2="378" stroke="#6e6e6e" stroke-width="0.9"/><path d="M348.4 378L348.4 377.99L349.24 377.98L350.08 377.97L350.92 377.94L351.76 377.87L352.6 377.77L353.44 377.58L354.28 377.29L355.12 376.82L355.96 376.13L356.8 375.16L357.64 373.84L358.48 372.16L359.32 370.12L360.16 367.78L361 365.26L361.84 362.75L362.68 360.46L363.52 358.61L364.36 357.42L365.2 357L366.04 357.42L366.88 358.61L367.72 360.46L368.56 362.75L369.4 365.26L370.24 367.78L371.08 370.12L371.92 372.16L372.76 373.84L373.6 375.16L374.44 376.13L375.28 376.82L376.12 377.29L376.96 377.58L377.8 377.77L378.64 377.87L379.48 377.94L380.32 377.97L381.16 377.98L382 377.99L382 378Z" fill="#6e9fd6" fill-opacity="0.68" stroke="#222" stroke-width="0.65"/><path d="M365.4 378L365.4 377.99L366.12 377.98L366.84 377.97L367.56 377.94L368.28 377.88L369 377.77L369.72 377.59L370.44 377.3L371.16 376.84L371.88 376.17L372.6 375.21L373.32 373.92L374.04 372.27L374.76 370.27L375.48 367.97L376.2 365.51L376.92 363.04L377.64 360.79L378.36 358.98L379.08 357.81L379.8 357.4L380.52 357.81L381.24 358.98L381.96 360.79L382.68 363.04L383.4 365.51L384.12 367.97L384.84 370.27L385.56 372.27L386.28 373.92L387 375.21L387.72 376.17L388.44 376.84L389.16 377.3L389.88 377.59L390.6 377.77L391.32 377.88L392.04 377.94L392.76 377.97L393.48 377.98L394.2 377.99L394.2 378Z" fill="#f6c04a" fill-opacity="0.68" stroke="#222" stroke-width="0.65"/><line x1="331.5" y1="378" x2="515.6" y2="378" stroke="#5a5a5a" stroke-width="0.8"/><text x="330" y="379.8" font-size="5.3" font-weight="bold" text-anchor="end" fill="#111">Liver</text><line x1="331.5" y1="387.1" x2="515.6" y2="387.1" stroke="#6e6e6e" stroke-width="0.9"/><path d="M337.5 387.1L337.5 387.1L338.8 387.09L340.1 387.08L341.4 387.07L342.7 387.04L344 386.99L345.3 386.9L346.6 386.75L347.9 386.53L349.2 386.19L350.5 385.72L351.8 385.08L353.1 384.26L354.4 383.27L355.7 382.14L357 380.91L358.3 379.69L359.6 378.58L360.9 377.68L362.2 377.1L363.5 376.9L364.8 377.1L366.1 377.68L367.4 378.58L368.7 379.69L370 380.91L371.3 382.14L372.6 383.27L373.9 384.26L375.2 385.08L376.5 385.72L377.8 386.19L379.1 386.53L380.4 386.75L381.7 386.9L383 386.99L384.3 387.04L385.6 387.07L386.9 387.08L388.2 387.09L389.5 387.1L389.5 387.1Z" fill="#6e9fd6" fill-opacity="0.68" stroke="#222" stroke-width="0.65"/><path d="M357.4 387.1L357.4 387.1L358.8 387.09L360.2 387.09L361.6 387.07L363 387.05L364.4 387L365.8 386.92L367.2 386.79L368.6 386.58L370 386.28L371.4 385.85L372.8 385.28L374.2 384.54L375.6 383.65L377 382.62L378.4 381.52L379.8 380.42L381.2 379.42L382.6 378.61L384 378.08L385.4 377.9L386.8 378.08L388.2 378.61L389.6 379.42L391 380.42L392.4 381.52L393.8 382.62L395.2 383.65L396.6 384.54L398 385.28L399.4 385.85L400.8 386.28L402.2 386.58L403.6 386.79L405 386.92L406.4 387L407.8 387.05L409.2 387.07L410.6 387.09L412 387.09L413.4 387.1L413.4 387.1Z" fill="#f6c04a" fill-opacity="0.68" stroke="#222" stroke-width="0.65"/><line x1="331.5" y1="387.1" x2="515.6" y2="387.1" stroke="#5a5a5a" stroke-width="0.8"/><text x="330" y="388.9" font-size="5.3" font-weight="bold" text-anchor="end" fill="#111">Lung</text><line x1="331.5" y1="396.2" x2="515.6" y2="396.2" stroke="#6e6e6e" stroke-width="0.9"/><path d="M331.5 396.2L331.5 395.96L333.63 395.84L335.76 395.67L337.9 395.45L340.03 395.16L342.16 394.79L344.3 394.36L346.43 393.84L348.56 393.27L350.69 392.65L352.82 392.01L354.96 391.39L357.09 390.83L359.22 390.36L361.36 390.02L363.49 389.83L365.62 389.81L367.75 389.96L369.88 390.27L372.02 390.71L374.15 391.26L376.28 391.87L378.42 392.5L380.55 393.13L382.68 393.71L384.81 394.24L386.94 394.7L389.08 395.08L391.21 395.39L393.34 395.63L395.48 395.8L397.61 395.94L399.74 396.03L401.87 396.09L404 396.13L406.14 396.16L408.27 396.18L410.4 396.19L412.54 396.19L414.67 396.2L416.8 396.2L416.8 396.2Z" fill="#6e9fd6" fill-opacity="0.68" stroke="#222" stroke-width="0.65"/><path d="M421.9 396.2L421.9 396.2L423.9 396.2L425.9 396.19L427.9 396.18L429.9 396.16L431.9 396.12L433.9 396.07L435.9 395.97L437.9 395.82L439.9 395.6L441.9 395.28L443.9 394.85L445.9 394.31L447.9 393.65L449.9 392.89L451.9 392.08L453.9 391.26L455.9 390.52L457.9 389.92L459.9 389.53L461.9 389.4L463.9 389.53L465.9 389.92L467.9 390.52L469.9 391.26L471.9 392.08L473.9 392.89L475.9 393.65L477.9 394.31L479.9 394.85L481.9 395.28L483.9 395.6L485.9 395.82L487.9 395.97L489.9 396.07L491.9 396.12L493.9 396.16L495.9 396.18L497.9 396.19L499.9 396.2L501.9 396.2L501.9 396.2Z" fill="#f6c04a" fill-opacity="0.68" stroke="#222" stroke-width="0.65"/><line x1="331.5" y1="396.2" x2="515.6" y2="396.2" stroke="#5a5a5a" stroke-width="0.8"/><text x="330" y="398" font-size="5.3" font-weight="bold" text-anchor="end" fill="#111">Skin</text><line x1="331.5" y1="405.3" x2="515.6" y2="405.3" stroke="#6e6e6e" stroke-width="0.9"/><path d="M347.1 405.3L347.1 405.3L348.06 405.29L349.02 405.28L349.98 405.26L350.94 405.22L351.9 405.15L352.86 405.04L353.82 404.85L354.78 404.55L355.74 404.12L356.7 403.5L357.66 402.67L358.62 401.6L359.58 400.31L360.54 398.83L361.5 397.23L362.46 395.64L363.42 394.19L364.38 393.02L365.34 392.26L366.3 392L367.26 392.26L368.22 393.02L369.18 394.19L370.14 395.64L371.1 397.23L372.06 398.83L373.02 400.31L373.98 401.6L374.94 402.67L375.9 403.5L376.86 404.12L377.82 404.55L378.78 404.85L379.74 405.04L380.7 405.15L381.66 405.22L382.62 405.26L383.58 405.28L384.54 405.29L385.5 405.3L385.5 405.3Z" fill="#6e9fd6" fill-opacity="0.68" stroke="#222" stroke-width="0.65"/><path d="M349 405.3L349 405.3L349.88 405.29L350.76 405.28L351.64 405.26L352.52 405.23L353.4 405.16L354.28 405.06L355.16 404.88L356.04 404.62L356.92 404.22L357.8 403.65L358.68 402.89L359.56 401.91L360.44 400.72L361.32 399.36L362.2 397.9L363.08 396.44L363.96 395.11L364.84 394.04L365.72 393.34L366.6 393.1L367.48 393.34L368.36 394.04L369.24 395.11L370.12 396.44L371 397.9L371.88 399.36L372.76 400.72L373.64 401.91L374.52 402.89L375.4 403.65L376.28 404.22L377.16 404.62L378.04 404.88L378.92 405.06L379.8 405.16L380.68 405.23L381.56 405.26L382.44 405.28L383.32 405.29L384.2 405.3L384.2 405.3Z" fill="#f6c04a" fill-opacity="0.68" stroke="#222" stroke-width="0.65"/><line x1="331.5" y1="405.3" x2="515.6" y2="405.3" stroke="#5a5a5a" stroke-width="0.8"/><text x="330" y="407.1" font-size="5.3" font-weight="bold" text-anchor="end" fill="#111">Liver</text><line x1="365.4" y1="332.1" x2="365.4" y2="415.0" stroke="#e03030" stroke-width="0.55" stroke-dasharray="1.6 1.1"/><circle cx="417.2" cy="359.8" r="1.05" fill="#fff" stroke="#666" stroke-width="0.45"/><circle cx="417.2" cy="368.9" r="1.05" fill="#fff" stroke="#666" stroke-width="0.45"/><circle cx="417.2" cy="378.0" r="1.05" fill="#fff" stroke="#666" stroke-width="0.45"/><circle cx="417.2" cy="387.1" r="1.05" fill="#fff" stroke="#666" stroke-width="0.45"/><circle cx="417.2" cy="396.2" r="1.05" fill="#fff" stroke="#666" stroke-width="0.45"/><circle cx="417.2" cy="405.3" r="1.05" fill="#fff" stroke="#666" stroke-width="0.45"/><text x="365.5" y="420.8" font-size="5.4" font-weight="bold" text-anchor="middle" fill="#111">0</text><text x="411.3" y="420.8" font-size="5.4" font-weight="bold" text-anchor="middle" fill="#111">20</text><text x="448" y="420.8" font-size="5.4" font-weight="bold" text-anchor="middle" fill="#111">80</text><text x="491.9" y="420.8" font-size="5.4" font-weight="bold" text-anchor="middle" fill="#111">100</text><rect x="330.8" y="423.4" width="183.9" height="82.3" fill="#fff" stroke="#8c8c8c" stroke-width="0.6"/><text x="332.0" y="429.6" font-size="5.6" font-weight="bold" fill="#111">Anti-FRGs</text><line x1="330.8" y1="450.8" x2="514.7" y2="450.8" stroke="#6e6e6e" stroke-width="0.9"/><path d="M410.8 450.8L410.8 450.79L411.88 450.79L412.96 450.78L414.04 450.75L415.12 450.71L416.2 450.63L417.28 450.5L418.36 450.28L419.44 449.95L420.52 449.45L421.6 448.74L422.68 447.79L423.76 446.57L424.84 445.1L425.92 443.4L427 441.58L428.08 439.76L429.16 438.1L430.24 436.77L431.32 435.9L432.4 435.6L433.48 435.9L434.56 436.77L435.64 438.1L436.72 439.76L437.8 441.58L438.88 443.4L439.96 445.1L441.04 446.57L442.12 447.79L443.2 448.74L444.28 449.45L445.36 449.95L446.44 450.28L447.52 450.5L448.6 450.63L449.68 450.71L450.76 450.75L451.84 450.78L452.92 450.79L454 450.79L454 450.8Z" fill="#f6c04a" fill-opacity="0.68" stroke="#222" stroke-width="0.65"/><path d="M433.2 450.8L433.2 450.79L434.2 450.79L435.2 450.77L436.2 450.75L437.2 450.7L438.2 450.62L439.2 450.47L440.2 450.23L441.2 449.87L442.2 449.32L443.2 448.55L444.2 447.51L445.2 446.18L446.2 444.57L447.2 442.72L448.2 440.73L449.2 438.75L450.2 436.93L451.2 435.48L452.2 434.53L453.2 434.2L454.2 434.53L455.2 435.48L456.2 436.93L457.2 438.75L458.2 440.73L459.2 442.72L460.2 444.57L461.2 446.18L462.2 447.51L463.2 448.55L464.2 449.32L465.2 449.87L466.2 450.23L467.2 450.47L468.2 450.62L469.2 450.7L470.2 450.75L471.2 450.77L472.2 450.79L473.2 450.79L473.2 450.8Z" fill="#6e9fd6" fill-opacity="0.68" stroke="#222" stroke-width="0.65"/><line x1="330.8" y1="450.8" x2="514.7" y2="450.8" stroke="#5a5a5a" stroke-width="0.8"/><text x="329.3" y="452.6" font-size="5.3" font-weight="bold" text-anchor="end" fill="#111">Kidney</text><line x1="330.8" y1="460.2" x2="514.7" y2="460.2" stroke="#6e6e6e" stroke-width="0.9"/><path d="M434.4 460.2L434.4 460.19L435.36 460.19L436.32 460.17L437.28 460.14L438.24 460.08L439.2 459.98L440.16 459.82L441.12 459.54L442.08 459.11L443.04 458.47L444 457.57L444.96 456.36L445.92 454.81L446.88 452.92L447.84 450.76L448.8 448.43L449.76 446.11L450.72 444L451.68 442.29L452.64 441.18L453.6 440.8L454.56 441.18L455.52 442.29L456.48 444L457.44 446.11L458.4 448.43L459.36 450.76L460.32 452.92L461.28 454.81L462.24 456.36L463.2 457.57L464.16 458.47L465.12 459.11L466.08 459.54L467.04 459.82L468 459.98L468.96 460.08L469.92 460.14L470.88 460.17L471.84 460.19L472.8 460.19L472.8 460.2Z" fill="#6e9fd6" fill-opacity="0.68" stroke="#222" stroke-width="0.65"/><path d="M431 460.2L431 460.19L431.92 460.19L432.84 460.17L433.76 460.15L434.68 460.09L435.6 460L436.52 459.85L437.44 459.6L438.36 459.21L439.28 458.63L440.2 457.82L441.12 456.72L442.04 455.31L442.96 453.59L443.88 451.63L444.8 449.53L445.72 447.42L446.64 445.5L447.56 443.95L448.48 442.95L449.4 442.6L450.32 442.95L451.24 443.95L452.16 445.5L453.08 447.42L454 449.53L454.92 451.63L455.84 453.59L456.76 455.31L457.68 456.72L458.6 457.82L459.52 458.63L460.44 459.21L461.36 459.6L462.28 459.85L463.2 460L464.12 460.09L465.04 460.15L465.96 460.17L466.88 460.19L467.8 460.19L467.8 460.2Z" fill="#f6c04a" fill-opacity="0.68" stroke="#222" stroke-width="0.65"/><line x1="330.8" y1="460.2" x2="514.7" y2="460.2" stroke="#5a5a5a" stroke-width="0.8"/><text x="329.3" y="462" font-size="5.3" font-weight="bold" text-anchor="end" fill="#111">Skin</text><line x1="330.8" y1="469.3" x2="514.7" y2="469.3" stroke="#6e6e6e" stroke-width="0.9"/><path d="M433.6 469.3L433.6 469.29L434.6 469.29L435.6 469.28L436.6 469.25L437.6 469.2L438.6 469.12L439.6 468.98L440.6 468.75L441.6 468.39L442.6 467.86L443.6 467.11L444.6 466.09L445.6 464.8L446.6 463.22L447.6 461.41L448.6 459.47L449.6 457.54L450.6 455.77L451.6 454.35L452.6 453.42L453.6 453.1L454.6 453.42L455.6 454.35L456.6 455.77L457.6 457.54L458.6 459.47L459.6 461.41L460.6 463.22L461.6 464.8L462.6 466.09L463.6 467.11L464.6 467.86L465.6 468.39L466.6 468.75L467.6 468.98L468.6 469.12L469.6 469.2L470.6 469.25L471.6 469.28L472.6 469.29L473.6 469.29L473.6 469.3Z" fill="#6e9fd6" fill-opacity="0.68" stroke="#222" stroke-width="0.65"/><path d="M432.9 469.3L432.9 469.29L433.82 469.29L434.74 469.27L435.66 469.25L436.58 469.2L437.5 469.11L438.42 468.97L439.34 468.73L440.26 468.36L441.18 467.81L442.1 467.03L443.02 465.98L443.94 464.63L444.86 462.99L445.78 461.12L446.7 459.11L447.62 457.1L448.54 455.27L449.46 453.79L450.38 452.83L451.3 452.5L452.22 452.83L453.14 453.79L454.06 455.27L454.98 457.1L455.9 459.11L456.82 461.12L457.74 462.99L458.66 464.63L459.58 465.98L460.5 467.03L461.42 467.81L462.34 468.36L463.26 468.73L464.18 468.97L465.1 469.11L466.02 469.2L466.94 469.25L467.86 469.27L468.78 469.29L469.7 469.29L469.7 469.3Z" fill="#f6c04a" fill-opacity="0.68" stroke="#222" stroke-width="0.65"/><line x1="330.8" y1="469.3" x2="514.7" y2="469.3" stroke="#5a5a5a" stroke-width="0.8"/><text x="329.3" y="471.1" font-size="5.3" font-weight="bold" text-anchor="end" fill="#111">Liver</text><line x1="330.8" y1="478.5" x2="514.7" y2="478.5" stroke="#6e6e6e" stroke-width="0.9"/><path d="M388 478.5L388 478.5L389.7 478.49L391.4 478.49L393.1 478.47L394.8 478.45L396.5 478.41L398.2 478.33L399.9 478.21L401.6 478.02L403.3 477.74L405 477.35L406.7 476.82L408.4 476.14L410.1 475.31L411.8 474.36L413.5 473.34L415.2 472.33L416.9 471.4L418.6 470.65L420.3 470.17L422 470L423.7 470.17L425.4 470.65L427.1 471.4L428.8 472.33L430.5 473.34L432.2 474.36L433.9 475.31L435.6 476.14L437.3 476.82L439 477.35L440.7 477.74L442.4 478.02L444.1 478.21L445.8 478.33L447.5 478.41L449.2 478.45L450.9 478.47L452.6 478.49L454.3 478.49L456 478.5L456 478.5Z" fill="#f6c04a" fill-opacity="0.68" stroke="#222" stroke-width="0.65"/><path d="M423.4 478.5L423.4 478.5L424.9 478.49L426.4 478.49L427.9 478.47L429.4 478.44L430.9 478.4L432.4 478.32L433.9 478.18L435.4 477.98L436.9 477.67L438.4 477.24L439.9 476.66L441.4 475.91L442.9 475.01L444.4 473.97L445.9 472.86L447.4 471.75L448.9 470.73L450.4 469.92L451.9 469.38L453.4 469.2L454.9 469.38L456.4 469.92L457.9 470.73L459.4 471.75L460.9 472.86L462.4 473.97L463.9 475.01L465.4 475.91L466.9 476.66L468.4 477.24L469.9 477.67L471.4 477.98L472.9 478.18L474.4 478.32L475.9 478.4L477.4 478.44L478.9 478.47L480.4 478.49L481.9 478.49L483.4 478.5L483.4 478.5Z" fill="#6e9fd6" fill-opacity="0.68" stroke="#222" stroke-width="0.65"/><line x1="330.8" y1="478.5" x2="514.7" y2="478.5" stroke="#5a5a5a" stroke-width="0.8"/><text x="329.3" y="480.3" font-size="5.3" font-weight="bold" text-anchor="end" fill="#111">Lung</text><line x1="330.8" y1="487.5" x2="514.7" y2="487.5" stroke="#6e6e6e" stroke-width="0.9"/><path d="M407.5 487.5L407.5 487.5L408.7 487.49L409.9 487.48L411.1 487.46L412.3 487.42L413.5 487.36L414.7 487.24L415.9 487.06L417.1 486.77L418.3 486.34L419.5 485.74L420.7 484.93L421.9 483.89L423.1 482.62L424.3 481.17L425.5 479.62L426.7 478.06L427.9 476.64L429.1 475.5L430.3 474.76L431.5 474.5L432.7 474.76L433.9 475.5L435.1 476.64L436.3 478.06L437.5 479.62L438.7 481.17L439.9 482.62L441.1 483.89L442.3 484.93L443.5 485.74L444.7 486.34L445.9 486.77L447.1 487.06L448.3 487.24L449.5 487.36L450.7 487.42L451.9 487.46L453.1 487.48L454.3 487.49L455.5 487.5L455.5 487.5Z" fill="#f6c04a" fill-opacity="0.68" stroke="#222" stroke-width="0.65"/><path d="M426.2 487.5L426.2 487.5L427.56 487.49L428.92 487.48L430.28 487.46L431.64 487.42L433 487.36L434.36 487.24L435.72 487.06L437.08 486.77L438.44 486.34L439.8 485.74L441.16 484.93L442.52 483.89L443.88 482.62L445.24 481.17L446.6 479.62L447.96 478.06L449.32 476.64L450.68 475.5L452.04 474.76L453.4 474.5L454.76 474.76L456.12 475.5L457.48 476.64L458.84 478.06L460.2 479.62L461.56 481.17L462.92 482.62L464.28 483.89L465.64 484.93L467 485.74L468.36 486.34L469.72 486.77L471.08 487.06L472.44 487.24L473.8 487.36L475.16 487.42L476.52 487.46L477.88 487.48L479.24 487.49L480.6 487.5L480.6 487.5Z" fill="#6e9fd6" fill-opacity="0.68" stroke="#222" stroke-width="0.65"/><line x1="330.8" y1="487.5" x2="514.7" y2="487.5" stroke="#5a5a5a" stroke-width="0.8"/><text x="329.3" y="489.3" font-size="5.3" font-weight="bold" text-anchor="end" fill="#111">Skin</text><line x1="330.8" y1="496.5" x2="514.7" y2="496.5" stroke="#6e6e6e" stroke-width="0.9"/><path d="M418 496.5L418 496.5L419.8 496.49L421.6 496.49L423.4 496.48L425.2 496.46L427 496.42L428.8 496.36L430.6 496.25L432.4 496.09L434.2 495.85L436 495.51L437.8 495.06L439.6 494.47L441.4 493.76L443.2 492.95L445 492.07L446.8 491.2L448.6 490.4L450.4 489.76L452.2 489.34L454 489.2L455.8 489.34L457.6 489.76L459.4 490.4L461.2 491.2L463 492.07L464.8 492.95L466.6 493.76L468.4 494.47L470.2 495.06L472 495.51L473.8 495.85L475.6 496.09L477.4 496.25L479.2 496.36L481 496.42L482.8 496.46L484.6 496.48L486.4 496.49L488.2 496.49L490 496.5L490 496.5Z" fill="#6e9fd6" fill-opacity="0.68" stroke="#222" stroke-width="0.65"/><path d="M402 496.5L402 496.5L404 496.49L406 496.49L408 496.48L410 496.46L412 496.42L414 496.36L416 496.25L418 496.09L420 495.85L422 495.51L424 495.06L426 494.47L428 493.76L430 492.95L432 492.07L434 491.2L436 490.4L438 489.76L440 489.34L442 489.2L444 489.34L446 489.76L448 490.4L450 491.2L452 492.07L454 492.95L456 493.76L458 494.47L460 495.06L462 495.51L464 495.85L466 496.09L468 496.25L470 496.36L472 496.42L474 496.46L476 496.48L478 496.49L480 496.49L482 496.5L482 496.5Z" fill="#f6c04a" fill-opacity="0.68" stroke="#222" stroke-width="0.65"/><line x1="330.8" y1="496.5" x2="514.7" y2="496.5" stroke="#5a5a5a" stroke-width="0.8"/><text x="329.3" y="498.3" font-size="5.3" font-weight="bold" text-anchor="end" fill="#111">Liver</text><line x1="453.5" y1="423.4" x2="453.5" y2="505.7" stroke="#e03030" stroke-width="0.55" stroke-dasharray="1.6 1.1"/><text x="331.2" y="512.5" font-size="5.4" font-weight="bold" text-anchor="middle" fill="#111">-40</text><text x="361.6" y="512.5" font-size="5.4" font-weight="bold" text-anchor="middle" fill="#111">-30</text><text x="392.2" y="512.5" font-size="5.4" font-weight="bold" text-anchor="middle" fill="#111">-20</text><text x="422.8" y="512.5" font-size="5.4" font-weight="bold" text-anchor="middle" fill="#111">-10</text><text x="453.4" y="512.5" font-size="5.4" font-weight="bold" text-anchor="middle" fill="#111">0</text><text x="484" y="512.5" font-size="5.4" font-weight="bold" text-anchor="middle" fill="#111">10</text><text x="512.9" y="512.5" font-size="5.4" font-weight="bold" text-anchor="middle" fill="#111">20</text><text x="420.8" y="521.8" font-size="10.2" text-anchor="middle" textLength="107.6" lengthAdjust="spacingAndGlyphs" fill="#222" stroke="#222" stroke-width="0.25">Normalized Average FPKM</text><line x1="307.4" y1="359.8" x2="307.4" y2="378.5" stroke="#222" stroke-width="0.6"/><line x1="307.4" y1="386.3" x2="307.4" y2="406.2" stroke="#222" stroke-width="0.6"/><line x1="307.4" y1="450.5" x2="307.4" y2="469.5" stroke="#222" stroke-width="0.6"/><line x1="307.4" y1="478" x2="307.4" y2="497" stroke="#222" stroke-width="0.6"/><text transform="translate(305.7 368.9) rotate(-90)" font-size="6" font-weight="bold" text-anchor="middle" fill="#111" textLength="18" lengthAdjust="spacingAndGlyphs">Mouse</text><text transform="translate(305.7 396.3) rotate(-90)" font-size="6" font-weight="bold" text-anchor="middle" fill="#111" textLength="18" lengthAdjust="spacingAndGlyphs">Human</text><text transform="translate(305.7 460) rotate(-90)" font-size="6" font-weight="bold" text-anchor="middle" fill="#111" textLength="18" lengthAdjust="spacingAndGlyphs">Mouse</text><text transform="translate(305.7 487.5) rotate(-90)" font-size="6" font-weight="bold" text-anchor="middle" fill="#111" textLength="18" lengthAdjust="spacingAndGlyphs">Human</text><text x="455" y="340.5" font-size="8.2" textLength="57.6" lengthAdjust="spacingAndGlyphs" fill="#1a1a1a" stroke="#1a1a1a" stroke-width="0.2">Sample Group</text><rect x="455.5" y="344.1" width="4.9" height="4.6" rx="0.8" fill="#7fb1e0" stroke="#1f3d5c" stroke-width="0.75"/><text x="463.4" y="348.6" font-size="6.4" textLength="25.6" lengthAdjust="spacingAndGlyphs" fill="#1a1a1a" stroke="#1a1a1a" stroke-width="0.15">Control</text><rect x="455.5" y="351.7" width="4.9" height="4.6" rx="0.8" fill="#f4d54c" stroke="#3a2c10" stroke-width="0.75"/><text x="463.4" y="356.4" font-size="6.4" textLength="26.6" lengthAdjust="spacingAndGlyphs" fill="#1a1a1a" stroke="#1a1a1a" stroke-width="0.15">Fibrosis</text><text x="1.5" y="540.5" font-size="17.5">F</text><defs><linearGradient id="gF" x1="0" y1="0" x2="1" y2="0"><stop offset="0" stop-color="#f9c21e"/><stop offset="0.55" stop-color="#f0a524"/><stop offset="1" stop-color="#c06a20"/></linearGradient><linearGradient id="gL" x1="0" y1="0" x2="1" y2="1"><stop offset="0" stop-color="#fbd040"/><stop offset="1" stop-color="#c86a18"/></linearGradient></defs><rect x="23.2" y="537.9" width="7.9" height="8" fill="#3f7fbf" stroke="#333" stroke-width="0.4"/><text x="34.8" y="546.2" font-size="10.2" textLength="64.8" lengthAdjust="spacingAndGlyphs" fill="#1a1a1a" stroke="#1a1a1a" stroke-width="0.25">Healthy Control</text><rect x="110.8" y="537.9" width="8.4" height="8" fill="url(#gL)" stroke="#333" stroke-width="0.4"/><text x="122.4" y="546.2" font-size="10.2" textLength="80.2" lengthAdjust="spacingAndGlyphs" fill="#1a1a1a" stroke="#1a1a1a" stroke-width="0.25">Fibrosis In Progress</text><line x1="39" y1="550.5" x2="39" y2="574" stroke="#aaa" stroke-width="0.35"/><line x1="38" y1="551" x2="39" y2="551" stroke="#aaa" stroke-width="0.3"/><line x1="38" y1="554.1" x2="39" y2="554.1" stroke="#aaa" stroke-width="0.3"/><line x1="38" y1="557.2" x2="39" y2="557.2" stroke="#aaa" stroke-width="0.3"/><line x1="38" y1="560.3" x2="39" y2="560.3" stroke="#aaa" stroke-width="0.3"/><line x1="38" y1="563.4" x2="39" y2="563.4" stroke="#aaa" stroke-width="0.3"/><line x1="38" y1="566.5" x2="39" y2="566.5" stroke="#aaa" stroke-width="0.3"/><line x1="38" y1="569.6" x2="39" y2="569.6" stroke="#aaa" stroke-width="0.3"/><line x1="38" y1="572.7" x2="39" y2="572.7" stroke="#aaa" stroke-width="0.3"/><polyline points="45.2,571.4 75.5,558.1" fill="none" stroke="#f3d3d6" stroke-width="5.6" stroke-linejoin="round" stroke-linecap="butt" opacity="0.9"/><polyline points="45.2,571.4 75.5,558.1" fill="none" stroke="#8a2630" stroke-width="0.95" stroke-linejoin="round"/><rect x="39.8" y="578" width="13.2" height="6" fill="#3f7fbf"/><rect x="53" y="578" width="26.4" height="6" fill="url(#gF)"/><rect x="39.8" y="578" width="39.6" height="6" fill="none" stroke="#555" stroke-width="0.35"/><rect x="39.8" y="586.3" width="13.5" height="6.55" fill="#fff5eb"/><rect x="53" y="586.3" width="13.5" height="6.55" fill="#870003"/><rect x="66.2" y="586.3" width="13.5" height="6.55" fill="#fddab0"/><rect x="39.8" y="592.5" width="13.5" height="6.55" fill="#fff5eb"/><rect x="53" y="592.5" width="13.5" height="6.55" fill="#ee684a"/><rect x="66.2" y="592.5" width="13.5" height="6.55" fill="#870003"/><rect x="39.8" y="598.7" width="13.5" height="6.55" fill="#fee8ce"/><rect x="53" y="598.7" width="13.5" height="6.55" fill="#fff5eb"/><rect x="66.2" y="598.7" width="13.5" height="6.55" fill="#870003"/><rect x="39.8" y="604.9" width="13.5" height="6.55" fill="#fff5eb"/><rect x="53" y="604.9" width="13.5" height="6.55" fill="#fbc394"/><rect x="66.2" y="604.9" width="13.5" height="6.55" fill="#870003"/><rect x="39.8" y="611.1" width="13.5" height="6.55" fill="#fff5eb"/><rect x="53" y="611.1" width="13.5" height="6.55" fill="#fff5eb"/><rect x="66.2" y="611.1" width="13.5" height="6.55" fill="#870003"/><rect x="39.8" y="617.3" width="13.5" height="6.55" fill="#fff5eb"/><rect x="53" y="617.3" width="13.5" height="6.55" fill="#870003"/><rect x="66.2" y="617.3" width="13.5" height="6.55" fill="#fddab0"/><rect x="39.8" y="623.5" width="13.5" height="6.55" fill="#fff5eb"/><rect x="53" y="623.5" width="13.5" height="6.55" fill="#fbc394"/><rect x="66.2" y="623.5" width="13.5" height="6.55" fill="#870003"/><rect x="39.8" y="629.7" width="13.5" height="6.55" fill="#fff5eb"/><rect x="53" y="629.7" width="13.5" height="6.55" fill="#fddab0"/><rect x="66.2" y="629.7" width="13.5" height="6.55" fill="#870003"/><rect x="39.8" y="635.9" width="13.5" height="6.55" fill="#fff5eb"/><rect x="53" y="635.9" width="13.5" height="6.55" fill="#ee684a"/><rect x="66.2" y="635.9" width="13.5" height="6.55" fill="#870003"/><rect x="39.8" y="642.1" width="13.5" height="6.55" fill="#fff5eb"/><rect x="53" y="642.1" width="13.5" height="6.55" fill="#fbc394"/><rect x="66.2" y="642.1" width="13.5" height="6.55" fill="#870003"/><rect x="39.8" y="648.3" width="13.5" height="6.55" fill="#fff5eb"/><rect x="53" y="648.3" width="13.5" height="6.55" fill="#870003"/><rect x="66.2" y="648.3" width="13.5" height="6.55" fill="#f9ac78"/><rect x="39.8" y="654.5" width="13.5" height="6.55" fill="#fff5eb"/><rect x="53" y="654.5" width="13.5" height="6.55" fill="#870003"/><rect x="66.2" y="654.5" width="13.5" height="6.55" fill="#ee684a"/><rect x="39.8" y="660.7" width="13.5" height="6.55" fill="#fff5eb"/><rect x="53" y="660.7" width="13.5" height="6.55" fill="#fff5eb"/><rect x="66.2" y="660.7" width="13.5" height="6.55" fill="#870003"/><rect x="39.8" y="666.9" width="13.5" height="6.55" fill="#fff5eb"/><rect x="53" y="666.9" width="13.5" height="6.55" fill="#fbc394"/><rect x="66.2" y="666.9" width="13.5" height="6.55" fill="#870003"/><rect x="39.8" y="673.1" width="13.5" height="6.55" fill="#fddab0"/><rect x="53" y="673.1" width="13.5" height="6.55" fill="#fff5eb"/><rect x="66.2" y="673.1" width="13.5" height="6.55" fill="#870003"/><rect x="39.8" y="679.3" width="13.5" height="6.55" fill="#fff5eb"/><rect x="53" y="679.3" width="13.5" height="6.55" fill="#ee684a"/><rect x="66.2" y="679.3" width="13.5" height="6.55" fill="#870003"/><rect x="39.8" y="685.5" width="13.5" height="6.55" fill="#fff5eb"/><rect x="53" y="685.5" width="13.5" height="6.55" fill="#fddab0"/><rect x="66.2" y="685.5" width="13.5" height="6.55" fill="#870003"/><rect x="39.8" y="691.7" width="13.5" height="6.55" fill="#fff5eb"/><rect x="53" y="691.7" width="13.5" height="6.55" fill="#fbc394"/><rect x="66.2" y="691.7" width="13.5" height="6.55" fill="#870003"/><rect x="39.8" y="697.9" width="13.5" height="6.55" fill="#fff5eb"/><rect x="53" y="697.9" width="13.5" height="6.55" fill="#ee684a"/><rect x="66.2" y="697.9" width="13.5" height="6.55" fill="#870003"/><rect x="39.8" y="704.1" width="13.5" height="6.55" fill="#f9ac78"/><rect x="53" y="704.1" width="13.5" height="6.55" fill="#870003"/><rect x="66.2" y="704.1" width="13.5" height="6.55" fill="#fff5eb"/><rect x="39.8" y="710.3" width="13.5" height="6.55" fill="#870003"/><rect x="53" y="710.3" width="13.5" height="6.55" fill="#ee684a"/><rect x="66.2" y="710.3" width="13.5" height="6.55" fill="#fff5eb"/><rect x="39.8" y="716.5" width="13.5" height="6.55" fill="#870003"/><rect x="53" y="716.5" width="13.5" height="6.55" fill="#fbc394"/><rect x="66.2" y="716.5" width="13.5" height="6.55" fill="#fff5eb"/><rect x="39.8" y="722.7" width="13.5" height="6.55" fill="#fff5eb"/><rect x="53" y="722.7" width="13.5" height="6.55" fill="#fbc394"/><rect x="66.2" y="722.7" width="13.5" height="6.55" fill="#870003"/><rect x="39.8" y="728.9" width="13.5" height="6.55" fill="#fff5eb"/><rect x="53" y="728.9" width="13.5" height="6.55" fill="#fbc394"/><rect x="66.2" y="728.9" width="13.5" height="6.55" fill="#870003"/><rect x="39.8" y="735.1" width="13.5" height="6.55" fill="#fff5eb"/><rect x="53" y="735.1" width="13.5" height="6.55" fill="#fbc394"/><rect x="66.2" y="735.1" width="13.5" height="6.55" fill="#870003"/><rect x="39.8" y="741.3" width="13.5" height="6.55" fill="#870003"/><rect x="53" y="741.3" width="13.5" height="6.55" fill="#fff5eb"/><rect x="66.2" y="741.3" width="13.5" height="6.55" fill="#f48a61"/><rect x="39.8" y="747.5" width="13.5" height="6.55" fill="#870003"/><rect x="53" y="747.5" width="13.5" height="6.55" fill="#fbc394"/><rect x="66.2" y="747.5" width="13.5" height="6.55" fill="#fff5eb"/><rect x="39.8" y="753.7" width="13.5" height="6.55" fill="#fff5eb"/><rect x="53" y="753.7" width="13.5" height="6.55" fill="#fbc394"/><rect x="66.2" y="753.7" width="13.5" height="6.55" fill="#870003"/><rect x="39.8" y="586.3" width="39.6" height="173.6" fill="none" stroke="#444" stroke-width="0.6"/><text x="59.6" y="768.5" font-size="8" text-anchor="middle" fill="#111" stroke="#111" stroke-width="0.15">#1</text><line x1="81.3" y1="550.5" x2="81.3" y2="574" stroke="#aaa" stroke-width="0.35"/><line x1="80.3" y1="551" x2="81.3" y2="551" stroke="#aaa" stroke-width="0.3"/><line x1="80.3" y1="554.1" x2="81.3" y2="554.1" stroke="#aaa" stroke-width="0.3"/><line x1="80.3" y1="557.2" x2="81.3" y2="557.2" stroke="#aaa" stroke-width="0.3"/><line x1="80.3" y1="560.3" x2="81.3" y2="560.3" stroke="#aaa" stroke-width="0.3"/><line x1="80.3" y1="563.4" x2="81.3" y2="563.4" stroke="#aaa" stroke-width="0.3"/><line x1="80.3" y1="566.5" x2="81.3" y2="566.5" stroke="#aaa" stroke-width="0.3"/><line x1="80.3" y1="569.6" x2="81.3" y2="569.6" stroke="#aaa" stroke-width="0.3"/><line x1="80.3" y1="572.7" x2="81.3" y2="572.7" stroke="#aaa" stroke-width="0.3"/><polyline points="88.2,570.8 101.9,567.2 115.7,559.8 128.4,556.6" fill="none" stroke="#f3d3d6" stroke-width="5.6" stroke-linejoin="round" stroke-linecap="butt" opacity="0.9"/><polyline points="88.2,570.8 101.9,567.2 115.7,559.8 128.4,556.6" fill="none" stroke="#8a2630" stroke-width="0.95" stroke-linejoin="round"/><rect x="82.1" y="578" width="13.12" height="6" fill="#3f7fbf"/><rect x="95.22" y="578" width="39.38" height="6" fill="url(#gF)"/><rect x="82.1" y="578" width="52.5" height="6" fill="none" stroke="#555" stroke-width="0.35"/><rect x="82.1" y="586.3" width="13.43" height="6.55" fill="#fff5eb"/><rect x="95.22" y="586.3" width="13.43" height="6.55" fill="#ee684a"/><rect x="108.35" y="586.3" width="13.43" height="6.55" fill="#870003"/><rect x="121.47" y="586.3" width="13.43" height="6.55" fill="#c81e1c"/><rect x="82.1" y="592.5" width="13.43" height="6.55" fill="#fddab0"/><rect x="95.22" y="592.5" width="13.43" height="6.55" fill="#fff5eb"/><rect x="108.35" y="592.5" width="13.43" height="6.55" fill="#c81e1c"/><rect x="121.47" y="592.5" width="13.43" height="6.55" fill="#870003"/><rect x="82.1" y="598.7" width="13.43" height="6.55" fill="#fff5eb"/><rect x="95.22" y="598.7" width="13.43" height="6.55" fill="#870003"/><rect x="108.35" y="598.7" width="13.43" height="6.55" fill="#ee684a"/><rect x="121.47" y="598.7" width="13.43" height="6.55" fill="#ee684a"/><rect x="82.1" y="604.9" width="13.43" height="6.55" fill="#a80f10"/><rect x="95.22" y="604.9" width="13.43" height="6.55" fill="#870003"/><rect x="108.35" y="604.9" width="13.43" height="6.55" fill="#fff5eb"/><rect x="121.47" y="604.9" width="13.43" height="6.55" fill="#fee8ce"/><rect x="82.1" y="611.1" width="13.43" height="6.55" fill="#ee684a"/><rect x="95.22" y="611.1" width="13.43" height="6.55" fill="#870003"/><rect x="108.35" y="611.1" width="13.43" height="6.55" fill="#fff5eb"/><rect x="121.47" y="611.1" width="13.43" height="6.55" fill="#fee8ce"/><rect x="82.1" y="617.3" width="13.43" height="6.55" fill="#fff5eb"/><rect x="95.22" y="617.3" width="13.43" height="6.55" fill="#f9ac78"/><rect x="108.35" y="617.3" width="13.43" height="6.55" fill="#870003"/><rect x="121.47" y="617.3" width="13.43" height="6.55" fill="#870003"/><rect x="82.1" y="623.5" width="13.43" height="6.55" fill="#fddab0"/><rect x="95.22" y="623.5" width="13.43" height="6.55" fill="#fff5eb"/><rect x="108.35" y="623.5" width="13.43" height="6.55" fill="#870003"/><rect x="121.47" y="623.5" width="13.43" height="6.55" fill="#a80f10"/><rect x="82.1" y="629.7" width="13.43" height="6.55" fill="#fff5eb"/><rect x="95.22" y="629.7" width="13.43" height="6.55" fill="#870003"/><rect x="108.35" y="629.7" width="13.43" height="6.55" fill="#fddab0"/><rect x="121.47" y="629.7" width="13.43" height="6.55" fill="#ee684a"/><rect x="82.1" y="635.9" width="13.43" height="6.55" fill="#fee8ce"/><rect x="95.22" y="635.9" width="13.43" height="6.55" fill="#fff5eb"/><rect x="108.35" y="635.9" width="13.43" height="6.55" fill="#a80f10"/><rect x="121.47" y="635.9" width="13.43" height="6.55" fill="#870003"/><rect x="82.1" y="642.1" width="13.43" height="6.55" fill="#870003"/><rect x="95.22" y="642.1" width="13.43" height="6.55" fill="#fff5eb"/><rect x="108.35" y="642.1" width="13.43" height="6.55" fill="#fddab0"/><rect x="121.47" y="642.1" width="13.43" height="6.55" fill="#fddab0"/><rect x="82.1" y="648.3" width="13.43" height="6.55" fill="#fff5eb"/><rect x="95.22" y="648.3" width="13.43" height="6.55" fill="#fff5eb"/><rect x="108.35" y="648.3" width="13.43" height="6.55" fill="#db4333"/><rect x="121.47" y="648.3" width="13.43" height="6.55" fill="#870003"/><rect x="82.1" y="654.5" width="13.43" height="6.55" fill="#fff5eb"/><rect x="95.22" y="654.5" width="13.43" height="6.55" fill="#fff5eb"/><rect x="108.35" y="654.5" width="13.43" height="6.55" fill="#c81e1c"/><rect x="121.47" y="654.5" width="13.43" height="6.55" fill="#870003"/><rect x="82.1" y="660.7" width="13.43" height="6.55" fill="#f9ac78"/><rect x="95.22" y="660.7" width="13.43" height="6.55" fill="#fff5eb"/><rect x="108.35" y="660.7" width="13.43" height="6.55" fill="#870003"/><rect x="121.47" y="660.7" width="13.43" height="6.55" fill="#870003"/><rect x="82.1" y="666.9" width="13.43" height="6.55" fill="#fff5eb"/><rect x="95.22" y="666.9" width="13.43" height="6.55" fill="#870003"/><rect x="108.35" y="666.9" width="13.43" height="6.55" fill="#fee8ce"/><rect x="121.47" y="666.9" width="13.43" height="6.55" fill="#f9ac78"/><rect x="82.1" y="673.1" width="13.43" height="6.55" fill="#fff5eb"/><rect x="95.22" y="673.1" width="13.43" height="6.55" fill="#870003"/><rect x="108.35" y="673.1" width="13.43" height="6.55" fill="#ee684a"/><rect x="121.47" y="673.1" width="13.43" height="6.55" fill="#c81e1c"/><rect x="82.1" y="679.3" width="13.43" height="6.55" fill="#a80f10"/><rect x="95.22" y="679.3" width="13.43" height="6.55" fill="#870003"/><rect x="108.35" y="679.3" width="13.43" height="6.55" fill="#fff5eb"/><rect x="121.47" y="679.3" width="13.43" height="6.55" fill="#fddab0"/><rect x="82.1" y="685.5" width="13.43" height="6.55" fill="#f9ac78"/><rect x="95.22" y="685.5" width="13.43" height="6.55" fill="#fff5eb"/><rect x="108.35" y="685.5" width="13.43" height="6.55" fill="#870003"/><rect x="121.47" y="685.5" width="13.43" height="6.55" fill="#870003"/><rect x="82.1" y="691.7" width="13.43" height="6.55" fill="#fff5eb"/><rect x="95.22" y="691.7" width="13.43" height="6.55" fill="#fbc394"/><rect x="108.35" y="691.7" width="13.43" height="6.55" fill="#f48a61"/><rect x="121.47" y="691.7" width="13.43" height="6.55" fill="#870003"/><rect x="82.1" y="697.9" width="13.43" height="6.55" fill="#fff5eb"/><rect x="95.22" y="697.9" width="13.43" height="6.55" fill="#fff5eb"/><rect x="108.35" y="697.9" width="13.43" height="6.55" fill="#870003"/><rect x="121.47" y="697.9" width="13.43" height="6.55" fill="#870003"/><rect x="82.1" y="704.1" width="13.43" height="6.55" fill="#fff5eb"/><rect x="95.22" y="704.1" width="13.43" height="6.55" fill="#ee684a"/><rect x="108.35" y="704.1" width="13.43" height="6.55" fill="#db4333"/><rect x="121.47" y="704.1" width="13.43" height="6.55" fill="#870003"/><rect x="82.1" y="710.3" width="13.43" height="6.55" fill="#fff5eb"/><rect x="95.22" y="710.3" width="13.43" height="6.55" fill="#fff5eb"/><rect x="108.35" y="710.3" width="13.43" height="6.55" fill="#870003"/><rect x="121.47" y="710.3" width="13.43" height="6.55" fill="#870003"/><rect x="82.1" y="716.5" width="13.43" height="6.55" fill="#fee8ce"/><rect x="95.22" y="716.5" width="13.43" height="6.55" fill="#fff5eb"/><rect x="108.35" y="716.5" width="13.43" height="6.55" fill="#c81e1c"/><rect x="121.47" y="716.5" width="13.43" height="6.55" fill="#870003"/><rect x="82.1" y="722.7" width="13.43" height="6.55" fill="#fff5eb"/><rect x="95.22" y="722.7" width="13.43" height="6.55" fill="#fff5eb"/><rect x="108.35" y="722.7" width="13.43" height="6.55" fill="#870003"/><rect x="121.47" y="722.7" width="13.43" height="6.55" fill="#ee684a"/><rect x="82.1" y="728.9" width="13.43" height="6.55" fill="#fddab0"/><rect x="95.22" y="728.9" width="13.43" height="6.55" fill="#fff5eb"/><rect x="108.35" y="728.9" width="13.43" height="6.55" fill="#fddab0"/><rect x="121.47" y="728.9" width="13.43" height="6.55" fill="#870003"/><rect x="82.1" y="735.1" width="13.43" height="6.55" fill="#fff5eb"/><rect x="95.22" y="735.1" width="13.43" height="6.55" fill="#fff5eb"/><rect x="108.35" y="735.1" width="13.43" height="6.55" fill="#a80f10"/><rect x="121.47" y="735.1" width="13.43" height="6.55" fill="#870003"/><rect x="82.1" y="741.3" width="13.43" height="6.55" fill="#fff5eb"/><rect x="95.22" y="741.3" width="13.43" height="6.55" fill="#fbc394"/><rect x="108.35" y="741.3" width="13.43" height="6.55" fill="#a80f10"/><rect x="121.47" y="741.3" width="13.43" height="6.55" fill="#870003"/><rect x="82.1" y="747.5" width="13.43" height="6.55" fill="#fddab0"/><rect x="95.22" y="747.5" width="13.43" height="6.55" fill="#fff5eb"/><rect x="108.35" y="747.5" width="13.43" height="6.55" fill="#a80f10"/><rect x="121.47" y="747.5" width="13.43" height="6.55" fill="#870003"/><rect x="82.1" y="753.7" width="13.43" height="6.55" fill="#fddab0"/><rect x="95.22" y="753.7" width="13.43" height="6.55" fill="#fff5eb"/><rect x="108.35" y="753.7" width="13.43" height="6.55" fill="#ee684a"/><rect x="121.47" y="753.7" width="13.43" height="6.55" fill="#870003"/><rect x="82.1" y="586.3" width="52.5" height="173.6" fill="none" stroke="#444" stroke-width="0.6"/><text x="108.35" y="768.5" font-size="8" text-anchor="middle" fill="#111" stroke="#111" stroke-width="0.15">#2</text><line x1="137.4" y1="550.5" x2="137.4" y2="574" stroke="#aaa" stroke-width="0.35"/><line x1="136.4" y1="551" x2="137.4" y2="551" stroke="#aaa" stroke-width="0.3"/><line x1="136.4" y1="554.1" x2="137.4" y2="554.1" stroke="#aaa" stroke-width="0.3"/><line x1="136.4" y1="557.2" x2="137.4" y2="557.2" stroke="#aaa" stroke-width="0.3"/><line x1="136.4" y1="560.3" x2="137.4" y2="560.3" stroke="#aaa" stroke-width="0.3"/><line x1="136.4" y1="563.4" x2="137.4" y2="563.4" stroke="#aaa" stroke-width="0.3"/><line x1="136.4" y1="566.5" x2="137.4" y2="566.5" stroke="#aaa" stroke-width="0.3"/><line x1="136.4" y1="569.6" x2="137.4" y2="569.6" stroke="#aaa" stroke-width="0.3"/><line x1="136.4" y1="572.7" x2="137.4" y2="572.7" stroke="#aaa" stroke-width="0.3"/><polyline points="143,570.3 156.5,572.6 170.4,570.9 183.4,568 196.9,554.4" fill="none" stroke="#f3d3d6" stroke-width="5.6" stroke-linejoin="round" stroke-linecap="butt" opacity="0.9"/><polyline points="143,570.3 156.5,572.6 170.4,570.9 183.4,568 196.9,554.4" fill="none" stroke="#8a2630" stroke-width="0.95" stroke-linejoin="round"/><rect x="138.2" y="578" width="12.84" height="6" fill="#3f7fbf"/><rect x="151.04" y="578" width="51.36" height="6" fill="url(#gF)"/><rect x="138.2" y="578" width="64.2" height="6" fill="none" stroke="#555" stroke-width="0.35"/><rect x="138.2" y="586.3" width="13.14" height="6.55" fill="#fddab0"/><rect x="151.04" y="586.3" width="13.14" height="6.55" fill="#fff5eb"/><rect x="163.88" y="586.3" width="13.14" height="6.55" fill="#f48a61"/><rect x="176.72" y="586.3" width="13.14" height="6.55" fill="#f9ac78"/><rect x="189.56" y="586.3" width="13.14" height="6.55" fill="#870003"/><rect x="138.2" y="592.5" width="13.14" height="6.55" fill="#fff5eb"/><rect x="151.04" y="592.5" width="13.14" height="6.55" fill="#fddab0"/><rect x="163.88" y="592.5" width="13.14" height="6.55" fill="#fff5eb"/><rect x="176.72" y="592.5" width="13.14" height="6.55" fill="#f9ac78"/><rect x="189.56" y="592.5" width="13.14" height="6.55" fill="#870003"/><rect x="138.2" y="598.7" width="13.14" height="6.55" fill="#f48a61"/><rect x="151.04" y="598.7" width="13.14" height="6.55" fill="#870003"/><rect x="163.88" y="598.7" width="13.14" height="6.55" fill="#fff5eb"/><rect x="176.72" y="598.7" width="13.14" height="6.55" fill="#db4333"/><rect x="189.56" y="598.7" width="13.14" height="6.55" fill="#f48a61"/><rect x="138.2" y="604.9" width="13.14" height="6.55" fill="#fff5eb"/><rect x="151.04" y="604.9" width="13.14" height="6.55" fill="#fee8ce"/><rect x="163.88" y="604.9" width="13.14" height="6.55" fill="#fddab0"/><rect x="176.72" y="604.9" width="13.14" height="6.55" fill="#870003"/><rect x="189.56" y="604.9" width="13.14" height="6.55" fill="#f48a61"/><rect x="138.2" y="611.1" width="13.14" height="6.55" fill="#fbc394"/><rect x="151.04" y="611.1" width="13.14" height="6.55" fill="#ee684a"/><rect x="163.88" y="611.1" width="13.14" height="6.55" fill="#ee684a"/><rect x="176.72" y="611.1" width="13.14" height="6.55" fill="#fff5eb"/><rect x="189.56" y="611.1" width="13.14" height="6.55" fill="#870003"/><rect x="138.2" y="617.3" width="13.14" height="6.55" fill="#f9ac78"/><rect x="151.04" y="617.3" width="13.14" height="6.55" fill="#870003"/><rect x="163.88" y="617.3" width="13.14" height="6.55" fill="#870003"/><rect x="176.72" y="617.3" width="13.14" height="6.55" fill="#fee8ce"/><rect x="189.56" y="617.3" width="13.14" height="6.55" fill="#fff5eb"/><rect x="138.2" y="623.5" width="13.14" height="6.55" fill="#db4333"/><rect x="151.04" y="623.5" width="13.14" height="6.55" fill="#fbc394"/><rect x="163.88" y="623.5" width="13.14" height="6.55" fill="#fff5eb"/><rect x="176.72" y="623.5" width="13.14" height="6.55" fill="#870003"/><rect x="189.56" y="623.5" width="13.14" height="6.55" fill="#ee684a"/><rect x="138.2" y="629.7" width="13.14" height="6.55" fill="#fddab0"/><rect x="151.04" y="629.7" width="13.14" height="6.55" fill="#fff5eb"/><rect x="163.88" y="629.7" width="13.14" height="6.55" fill="#fbc394"/><rect x="176.72" y="629.7" width="13.14" height="6.55" fill="#f9ac78"/><rect x="189.56" y="629.7" width="13.14" height="6.55" fill="#870003"/><rect x="138.2" y="635.9" width="13.14" height="6.55" fill="#fff5eb"/><rect x="151.04" y="635.9" width="13.14" height="6.55" fill="#fee8ce"/><rect x="163.88" y="635.9" width="13.14" height="6.55" fill="#fff5eb"/><rect x="176.72" y="635.9" width="13.14" height="6.55" fill="#fddab0"/><rect x="189.56" y="635.9" width="13.14" height="6.55" fill="#870003"/><rect x="138.2" y="642.1" width="13.14" height="6.55" fill="#fee8ce"/><rect x="151.04" y="642.1" width="13.14" height="6.55" fill="#fff5eb"/><rect x="163.88" y="642.1" width="13.14" height="6.55" fill="#fff5eb"/><rect x="176.72" y="642.1" width="13.14" height="6.55" fill="#fddab0"/><rect x="189.56" y="642.1" width="13.14" height="6.55" fill="#870003"/><rect x="138.2" y="648.3" width="13.14" height="6.55" fill="#fff5eb"/><rect x="151.04" y="648.3" width="13.14" height="6.55" fill="#fddab0"/><rect x="163.88" y="648.3" width="13.14" height="6.55" fill="#fddab0"/><rect x="176.72" y="648.3" width="13.14" height="6.55" fill="#fbc394"/><rect x="189.56" y="648.3" width="13.14" height="6.55" fill="#870003"/><rect x="138.2" y="654.5" width="13.14" height="6.55" fill="#fee8ce"/><rect x="151.04" y="654.5" width="13.14" height="6.55" fill="#fff5eb"/><rect x="163.88" y="654.5" width="13.14" height="6.55" fill="#fee8ce"/><rect x="176.72" y="654.5" width="13.14" height="6.55" fill="#f9ac78"/><rect x="189.56" y="654.5" width="13.14" height="6.55" fill="#870003"/><rect x="138.2" y="660.7" width="13.14" height="6.55" fill="#db4333"/><rect x="151.04" y="660.7" width="13.14" height="6.55" fill="#fff5eb"/><rect x="163.88" y="660.7" width="13.14" height="6.55" fill="#c81e1c"/><rect x="176.72" y="660.7" width="13.14" height="6.55" fill="#fff5eb"/><rect x="189.56" y="660.7" width="13.14" height="6.55" fill="#870003"/><rect x="138.2" y="666.9" width="13.14" height="6.55" fill="#fddab0"/><rect x="151.04" y="666.9" width="13.14" height="6.55" fill="#fff5eb"/><rect x="163.88" y="666.9" width="13.14" height="6.55" fill="#fff5eb"/><rect x="176.72" y="666.9" width="13.14" height="6.55" fill="#f48a61"/><rect x="189.56" y="666.9" width="13.14" height="6.55" fill="#870003"/><rect x="138.2" y="673.1" width="13.14" height="6.55" fill="#f9ac78"/><rect x="151.04" y="673.1" width="13.14" height="6.55" fill="#fff5eb"/><rect x="163.88" y="673.1" width="13.14" height="6.55" fill="#fff5eb"/><rect x="176.72" y="673.1" width="13.14" height="6.55" fill="#fddab0"/><rect x="189.56" y="673.1" width="13.14" height="6.55" fill="#870003"/><rect x="138.2" y="679.3" width="13.14" height="6.55" fill="#fbc394"/><rect x="151.04" y="679.3" width="13.14" height="6.55" fill="#fee8ce"/><rect x="163.88" y="679.3" width="13.14" height="6.55" fill="#fddab0"/><rect x="176.72" y="679.3" width="13.14" height="6.55" fill="#fff5eb"/><rect x="189.56" y="679.3" width="13.14" height="6.55" fill="#870003"/><rect x="138.2" y="685.5" width="13.14" height="6.55" fill="#ee684a"/><rect x="151.04" y="685.5" width="13.14" height="6.55" fill="#fff5eb"/><rect x="163.88" y="685.5" width="13.14" height="6.55" fill="#fbc394"/><rect x="176.72" y="685.5" width="13.14" height="6.55" fill="#f9ac78"/><rect x="189.56" y="685.5" width="13.14" height="6.55" fill="#870003"/><rect x="138.2" y="691.7" width="13.14" height="6.55" fill="#fddab0"/><rect x="151.04" y="691.7" width="13.14" height="6.55" fill="#fff5eb"/><rect x="163.88" y="691.7" width="13.14" height="6.55" fill="#fff5eb"/><rect x="176.72" y="691.7" width="13.14" height="6.55" fill="#fddab0"/><rect x="189.56" y="691.7" width="13.14" height="6.55" fill="#870003"/><rect x="138.2" y="697.9" width="13.14" height="6.55" fill="#fff5eb"/><rect x="151.04" y="697.9" width="13.14" height="6.55" fill="#a80f10"/><rect x="163.88" y="697.9" width="13.14" height="6.55" fill="#a80f10"/><rect x="176.72" y="697.9" width="13.14" height="6.55" fill="#fff5eb"/><rect x="189.56" y="697.9" width="13.14" height="6.55" fill="#870003"/><rect x="138.2" y="704.1" width="13.14" height="6.55" fill="#fff5eb"/><rect x="151.04" y="704.1" width="13.14" height="6.55" fill="#fff5eb"/><rect x="163.88" y="704.1" width="13.14" height="6.55" fill="#fddab0"/><rect x="176.72" y="704.1" width="13.14" height="6.55" fill="#c81e1c"/><rect x="189.56" y="704.1" width="13.14" height="6.55" fill="#870003"/><rect x="138.2" y="710.3" width="13.14" height="6.55" fill="#fbc394"/><rect x="151.04" y="710.3" width="13.14" height="6.55" fill="#870003"/><rect x="163.88" y="710.3" width="13.14" height="6.55" fill="#fff5eb"/><rect x="176.72" y="710.3" width="13.14" height="6.55" fill="#f9ac78"/><rect x="189.56" y="710.3" width="13.14" height="6.55" fill="#ee684a"/><rect x="138.2" y="716.5" width="13.14" height="6.55" fill="#fee8ce"/><rect x="151.04" y="716.5" width="13.14" height="6.55" fill="#fee8ce"/><rect x="163.88" y="716.5" width="13.14" height="6.55" fill="#fff5eb"/><rect x="176.72" y="716.5" width="13.14" height="6.55" fill="#fddab0"/><rect x="189.56" y="716.5" width="13.14" height="6.55" fill="#870003"/><rect x="138.2" y="722.7" width="13.14" height="6.55" fill="#db4333"/><rect x="151.04" y="722.7" width="13.14" height="6.55" fill="#fff5eb"/><rect x="163.88" y="722.7" width="13.14" height="6.55" fill="#ee684a"/><rect x="176.72" y="722.7" width="13.14" height="6.55" fill="#fddab0"/><rect x="189.56" y="722.7" width="13.14" height="6.55" fill="#870003"/><rect x="138.2" y="728.9" width="13.14" height="6.55" fill="#fddab0"/><rect x="151.04" y="728.9" width="13.14" height="6.55" fill="#fff5eb"/><rect x="163.88" y="728.9" width="13.14" height="6.55" fill="#fff5eb"/><rect x="176.72" y="728.9" width="13.14" height="6.55" fill="#f9ac78"/><rect x="189.56" y="728.9" width="13.14" height="6.55" fill="#870003"/><rect x="138.2" y="735.1" width="13.14" height="6.55" fill="#fbc394"/><rect x="151.04" y="735.1" width="13.14" height="6.55" fill="#fff5eb"/><rect x="163.88" y="735.1" width="13.14" height="6.55" fill="#f48a61"/><rect x="176.72" y="735.1" width="13.14" height="6.55" fill="#fddab0"/><rect x="189.56" y="735.1" width="13.14" height="6.55" fill="#870003"/><rect x="138.2" y="741.3" width="13.14" height="6.55" fill="#fbc394"/><rect x="151.04" y="741.3" width="13.14" height="6.55" fill="#fff5eb"/><rect x="163.88" y="741.3" width="13.14" height="6.55" fill="#f48a61"/><rect x="176.72" y="741.3" width="13.14" height="6.55" fill="#870003"/><rect x="189.56" y="741.3" width="13.14" height="6.55" fill="#a80f10"/><rect x="138.2" y="747.5" width="13.14" height="6.55" fill="#fbc394"/><rect x="151.04" y="747.5" width="13.14" height="6.55" fill="#f48a61"/><rect x="163.88" y="747.5" width="13.14" height="6.55" fill="#fddab0"/><rect x="176.72" y="747.5" width="13.14" height="6.55" fill="#fff5eb"/><rect x="189.56" y="747.5" width="13.14" height="6.55" fill="#870003"/><rect x="138.2" y="753.7" width="13.14" height="6.55" fill="#fbc394"/><rect x="151.04" y="753.7" width="13.14" height="6.55" fill="#fff5eb"/><rect x="163.88" y="753.7" width="13.14" height="6.55" fill="#f9ac78"/><rect x="176.72" y="753.7" width="13.14" height="6.55" fill="#870003"/><rect x="189.56" y="753.7" width="13.14" height="6.55" fill="#870003"/><rect x="138.2" y="586.3" width="64.2" height="173.6" fill="none" stroke="#444" stroke-width="0.6"/><text x="170.3" y="768.5" font-size="8" text-anchor="middle" fill="#111" stroke="#111" stroke-width="0.15">#3</text><line x1="205.6" y1="550.5" x2="205.6" y2="574" stroke="#aaa" stroke-width="0.35"/><line x1="204.6" y1="551" x2="205.6" y2="551" stroke="#aaa" stroke-width="0.3"/><line x1="204.6" y1="554.1" x2="205.6" y2="554.1" stroke="#aaa" stroke-width="0.3"/><line x1="204.6" y1="557.2" x2="205.6" y2="557.2" stroke="#aaa" stroke-width="0.3"/><line x1="204.6" y1="560.3" x2="205.6" y2="560.3" stroke="#aaa" stroke-width="0.3"/><line x1="204.6" y1="563.4" x2="205.6" y2="563.4" stroke="#aaa" stroke-width="0.3"/><line x1="204.6" y1="566.5" x2="205.6" y2="566.5" stroke="#aaa" stroke-width="0.3"/><line x1="204.6" y1="569.6" x2="205.6" y2="569.6" stroke="#aaa" stroke-width="0.3"/><line x1="204.6" y1="572.7" x2="205.6" y2="572.7" stroke="#aaa" stroke-width="0.3"/><polyline points="212.2,573.7 225.2,566 239,562.2 252,554.4 265,556.7" fill="none" stroke="#f3d3d6" stroke-width="5.6" stroke-linejoin="round" stroke-linecap="butt" opacity="0.9"/><polyline points="212.2,573.7 225.2,566 239,562.2 252,554.4 265,556.7" fill="none" stroke="#8a2630" stroke-width="0.95" stroke-linejoin="round"/><rect x="206.4" y="578" width="12.96" height="6" fill="#3f7fbf"/><rect x="219.36" y="578" width="51.84" height="6" fill="url(#gF)"/><rect x="206.4" y="578" width="64.8" height="6" fill="none" stroke="#555" stroke-width="0.35"/><rect x="206.4" y="586.3" width="13.26" height="6.55" fill="#fff5eb"/><rect x="219.36" y="586.3" width="13.26" height="6.55" fill="#fbc394"/><rect x="232.32" y="586.3" width="13.26" height="6.55" fill="#870003"/><rect x="245.28" y="586.3" width="13.26" height="6.55" fill="#870003"/><rect x="258.24" y="586.3" width="13.26" height="6.55" fill="#f48a61"/><rect x="206.4" y="592.5" width="13.26" height="6.55" fill="#fff5eb"/><rect x="219.36" y="592.5" width="13.26" height="6.55" fill="#fff5eb"/><rect x="232.32" y="592.5" width="13.26" height="6.55" fill="#f9ac78"/><rect x="245.28" y="592.5" width="13.26" height="6.55" fill="#a80f10"/><rect x="258.24" y="592.5" width="13.26" height="6.55" fill="#870003"/><rect x="206.4" y="598.7" width="13.26" height="6.55" fill="#fddab0"/><rect x="219.36" y="598.7" width="13.26" height="6.55" fill="#870003"/><rect x="232.32" y="598.7" width="13.26" height="6.55" fill="#fddab0"/><rect x="245.28" y="598.7" width="13.26" height="6.55" fill="#fff5eb"/><rect x="258.24" y="598.7" width="13.26" height="6.55" fill="#fff5eb"/><rect x="206.4" y="604.9" width="13.26" height="6.55" fill="#fff5eb"/><rect x="219.36" y="604.9" width="13.26" height="6.55" fill="#fbc394"/><rect x="232.32" y="604.9" width="13.26" height="6.55" fill="#f48a61"/><rect x="245.28" y="604.9" width="13.26" height="6.55" fill="#870003"/><rect x="258.24" y="604.9" width="13.26" height="6.55" fill="#a80f10"/><rect x="206.4" y="611.1" width="13.26" height="6.55" fill="#fff5eb"/><rect x="219.36" y="611.1" width="13.26" height="6.55" fill="#870003"/><rect x="232.32" y="611.1" width="13.26" height="6.55" fill="#c81e1c"/><rect x="245.28" y="611.1" width="13.26" height="6.55" fill="#c81e1c"/><rect x="258.24" y="611.1" width="13.26" height="6.55" fill="#fbc394"/><rect x="206.4" y="617.3" width="13.26" height="6.55" fill="#870003"/><rect x="219.36" y="617.3" width="13.26" height="6.55" fill="#ee684a"/><rect x="232.32" y="617.3" width="13.26" height="6.55" fill="#fddab0"/><rect x="245.28" y="617.3" width="13.26" height="6.55" fill="#fddab0"/><rect x="258.24" y="617.3" width="13.26" height="6.55" fill="#fff5eb"/><rect x="206.4" y="623.5" width="13.26" height="6.55" fill="#fff5eb"/><rect x="219.36" y="623.5" width="13.26" height="6.55" fill="#fddab0"/><rect x="232.32" y="623.5" width="13.26" height="6.55" fill="#c81e1c"/><rect x="245.28" y="623.5" width="13.26" height="6.55" fill="#870003"/><rect x="258.24" y="623.5" width="13.26" height="6.55" fill="#870003"/><rect x="206.4" y="629.7" width="13.26" height="6.55" fill="#fff5eb"/><rect x="219.36" y="629.7" width="13.26" height="6.55" fill="#fbc394"/><rect x="232.32" y="629.7" width="13.26" height="6.55" fill="#ee684a"/><rect x="245.28" y="629.7" width="13.26" height="6.55" fill="#870003"/><rect x="258.24" y="629.7" width="13.26" height="6.55" fill="#870003"/><rect x="206.4" y="635.9" width="13.26" height="6.55" fill="#fff5eb"/><rect x="219.36" y="635.9" width="13.26" height="6.55" fill="#fddab0"/><rect x="232.32" y="635.9" width="13.26" height="6.55" fill="#f9ac78"/><rect x="245.28" y="635.9" width="13.26" height="6.55" fill="#870003"/><rect x="258.24" y="635.9" width="13.26" height="6.55" fill="#a80f10"/><rect x="206.4" y="642.1" width="13.26" height="6.55" fill="#fff5eb"/><rect x="219.36" y="642.1" width="13.26" height="6.55" fill="#fddab0"/><rect x="232.32" y="642.1" width="13.26" height="6.55" fill="#ee684a"/><rect x="245.28" y="642.1" width="13.26" height="6.55" fill="#870003"/><rect x="258.24" y="642.1" width="13.26" height="6.55" fill="#870003"/><rect x="206.4" y="648.3" width="13.26" height="6.55" fill="#fff5eb"/><rect x="219.36" y="648.3" width="13.26" height="6.55" fill="#fddab0"/><rect x="232.32" y="648.3" width="13.26" height="6.55" fill="#ee684a"/><rect x="245.28" y="648.3" width="13.26" height="6.55" fill="#870003"/><rect x="258.24" y="648.3" width="13.26" height="6.55" fill="#870003"/><rect x="206.4" y="654.5" width="13.26" height="6.55" fill="#fff5eb"/><rect x="219.36" y="654.5" width="13.26" height="6.55" fill="#fddab0"/><rect x="232.32" y="654.5" width="13.26" height="6.55" fill="#db4333"/><rect x="245.28" y="654.5" width="13.26" height="6.55" fill="#870003"/><rect x="258.24" y="654.5" width="13.26" height="6.55" fill="#a80f10"/><rect x="206.4" y="660.7" width="13.26" height="6.55" fill="#fff5eb"/><rect x="219.36" y="660.7" width="13.26" height="6.55" fill="#fee8ce"/><rect x="232.32" y="660.7" width="13.26" height="6.55" fill="#f48a61"/><rect x="245.28" y="660.7" width="13.26" height="6.55" fill="#870003"/><rect x="258.24" y="660.7" width="13.26" height="6.55" fill="#ee684a"/><rect x="206.4" y="666.9" width="13.26" height="6.55" fill="#fff5eb"/><rect x="219.36" y="666.9" width="13.26" height="6.55" fill="#fddab0"/><rect x="232.32" y="666.9" width="13.26" height="6.55" fill="#f48a61"/><rect x="245.28" y="666.9" width="13.26" height="6.55" fill="#870003"/><rect x="258.24" y="666.9" width="13.26" height="6.55" fill="#a80f10"/><rect x="206.4" y="673.1" width="13.26" height="6.55" fill="#fff5eb"/><rect x="219.36" y="673.1" width="13.26" height="6.55" fill="#fbc394"/><rect x="232.32" y="673.1" width="13.26" height="6.55" fill="#c81e1c"/><rect x="245.28" y="673.1" width="13.26" height="6.55" fill="#870003"/><rect x="258.24" y="673.1" width="13.26" height="6.55" fill="#870003"/><rect x="206.4" y="679.3" width="13.26" height="6.55" fill="#fff5eb"/><rect x="219.36" y="679.3" width="13.26" height="6.55" fill="#fddab0"/><rect x="232.32" y="679.3" width="13.26" height="6.55" fill="#f9ac78"/><rect x="245.28" y="679.3" width="13.26" height="6.55" fill="#870003"/><rect x="258.24" y="679.3" width="13.26" height="6.55" fill="#db4333"/><rect x="206.4" y="685.5" width="13.26" height="6.55" fill="#fddab0"/><rect x="219.36" y="685.5" width="13.26" height="6.55" fill="#fff5eb"/><rect x="232.32" y="685.5" width="13.26" height="6.55" fill="#f48a61"/><rect x="245.28" y="685.5" width="13.26" height="6.55" fill="#870003"/><rect x="258.24" y="685.5" width="13.26" height="6.55" fill="#870003"/><rect x="206.4" y="691.7" width="13.26" height="6.55" fill="#fff5eb"/><rect x="219.36" y="691.7" width="13.26" height="6.55" fill="#fddab0"/><rect x="232.32" y="691.7" width="13.26" height="6.55" fill="#f48a61"/><rect x="245.28" y="691.7" width="13.26" height="6.55" fill="#870003"/><rect x="258.24" y="691.7" width="13.26" height="6.55" fill="#870003"/><rect x="206.4" y="697.9" width="13.26" height="6.55" fill="#fff5eb"/><rect x="219.36" y="697.9" width="13.26" height="6.55" fill="#fddab0"/><rect x="232.32" y="697.9" width="13.26" height="6.55" fill="#f9ac78"/><rect x="245.28" y="697.9" width="13.26" height="6.55" fill="#870003"/><rect x="258.24" y="697.9" width="13.26" height="6.55" fill="#f48a61"/><rect x="206.4" y="704.1" width="13.26" height="6.55" fill="#fff5eb"/><rect x="219.36" y="704.1" width="13.26" height="6.55" fill="#fee8ce"/><rect x="232.32" y="704.1" width="13.26" height="6.55" fill="#f9ac78"/><rect x="245.28" y="704.1" width="13.26" height="6.55" fill="#c81e1c"/><rect x="258.24" y="704.1" width="13.26" height="6.55" fill="#870003"/><rect x="206.4" y="710.3" width="13.26" height="6.55" fill="#fff5eb"/><rect x="219.36" y="710.3" width="13.26" height="6.55" fill="#fbc394"/><rect x="232.32" y="710.3" width="13.26" height="6.55" fill="#f48a61"/><rect x="245.28" y="710.3" width="13.26" height="6.55" fill="#db4333"/><rect x="258.24" y="710.3" width="13.26" height="6.55" fill="#870003"/><rect x="206.4" y="716.5" width="13.26" height="6.55" fill="#fff5eb"/><rect x="219.36" y="716.5" width="13.26" height="6.55" fill="#fddab0"/><rect x="232.32" y="716.5" width="13.26" height="6.55" fill="#f9ac78"/><rect x="245.28" y="716.5" width="13.26" height="6.55" fill="#a80f10"/><rect x="258.24" y="716.5" width="13.26" height="6.55" fill="#870003"/><rect x="206.4" y="722.7" width="13.26" height="6.55" fill="#a80f10"/><rect x="219.36" y="722.7" width="13.26" height="6.55" fill="#870003"/><rect x="232.32" y="722.7" width="13.26" height="6.55" fill="#fddab0"/><rect x="245.28" y="722.7" width="13.26" height="6.55" fill="#fff5eb"/><rect x="258.24" y="722.7" width="13.26" height="6.55" fill="#fbc394"/><rect x="206.4" y="728.9" width="13.26" height="6.55" fill="#fff5eb"/><rect x="219.36" y="728.9" width="13.26" height="6.55" fill="#fddab0"/><rect x="232.32" y="728.9" width="13.26" height="6.55" fill="#ee684a"/><rect x="245.28" y="728.9" width="13.26" height="6.55" fill="#870003"/><rect x="258.24" y="728.9" width="13.26" height="6.55" fill="#870003"/><rect x="206.4" y="735.1" width="13.26" height="6.55" fill="#fff5eb"/><rect x="219.36" y="735.1" width="13.26" height="6.55" fill="#fff5eb"/><rect x="232.32" y="735.1" width="13.26" height="6.55" fill="#ee684a"/><rect x="245.28" y="735.1" width="13.26" height="6.55" fill="#870003"/><rect x="258.24" y="735.1" width="13.26" height="6.55" fill="#c81e1c"/><rect x="206.4" y="741.3" width="13.26" height="6.55" fill="#fff5eb"/><rect x="219.36" y="741.3" width="13.26" height="6.55" fill="#870003"/><rect x="232.32" y="741.3" width="13.26" height="6.55" fill="#ee684a"/><rect x="245.28" y="741.3" width="13.26" height="6.55" fill="#ee684a"/><rect x="258.24" y="741.3" width="13.26" height="6.55" fill="#870003"/><rect x="206.4" y="747.5" width="13.26" height="6.55" fill="#fff5eb"/><rect x="219.36" y="747.5" width="13.26" height="6.55" fill="#f9ac78"/><rect x="232.32" y="747.5" width="13.26" height="6.55" fill="#ee684a"/><rect x="245.28" y="747.5" width="13.26" height="6.55" fill="#870003"/><rect x="258.24" y="747.5" width="13.26" height="6.55" fill="#f48a61"/><rect x="206.4" y="753.7" width="13.26" height="6.55" fill="#fff5eb"/><rect x="219.36" y="753.7" width="13.26" height="6.55" fill="#fddab0"/><rect x="232.32" y="753.7" width="13.26" height="6.55" fill="#f48a61"/><rect x="245.28" y="753.7" width="13.26" height="6.55" fill="#870003"/><rect x="258.24" y="753.7" width="13.26" height="6.55" fill="#870003"/><rect x="206.4" y="586.3" width="64.8" height="173.6" fill="none" stroke="#444" stroke-width="0.6"/><text x="238.8" y="768.5" font-size="8" text-anchor="middle" fill="#111" stroke="#111" stroke-width="0.15">#4</text><line x1="281.5" y1="550.5" x2="281.5" y2="574" stroke="#aaa" stroke-width="0.35"/><line x1="280.5" y1="551" x2="281.5" y2="551" stroke="#aaa" stroke-width="0.3"/><line x1="280.5" y1="554.1" x2="281.5" y2="554.1" stroke="#aaa" stroke-width="0.3"/><line x1="280.5" y1="557.2" x2="281.5" y2="557.2" stroke="#aaa" stroke-width="0.3"/><line x1="280.5" y1="560.3" x2="281.5" y2="560.3" stroke="#aaa" stroke-width="0.3"/><line x1="280.5" y1="563.4" x2="281.5" y2="563.4" stroke="#aaa" stroke-width="0.3"/><line x1="280.5" y1="566.5" x2="281.5" y2="566.5" stroke="#aaa" stroke-width="0.3"/><line x1="280.5" y1="569.6" x2="281.5" y2="569.6" stroke="#aaa" stroke-width="0.3"/><line x1="280.5" y1="572.7" x2="281.5" y2="572.7" stroke="#aaa" stroke-width="0.3"/><polyline points="287.9,570.3 301.7,562.5 316.1,557.3" fill="none" stroke="#f3d3d6" stroke-width="5.6" stroke-linejoin="round" stroke-linecap="butt" opacity="0.9"/><polyline points="287.9,570.3 301.7,562.5 316.1,557.3" fill="none" stroke="#8a2630" stroke-width="0.95" stroke-linejoin="round"/><rect x="282.3" y="578" width="13.13" height="6" fill="#3f7fbf"/><rect x="295.43" y="578" width="26.27" height="6" fill="url(#gF)"/><rect x="282.3" y="578" width="39.4" height="6" fill="none" stroke="#555" stroke-width="0.35"/><rect x="282.3" y="586.3" width="13.43" height="6.55" fill="#870003"/><rect x="295.43" y="586.3" width="13.43" height="6.55" fill="#f48a61"/><rect x="308.57" y="586.3" width="13.43" height="6.55" fill="#fff5eb"/><rect x="282.3" y="592.5" width="13.43" height="6.55" fill="#fff5eb"/><rect x="295.43" y="592.5" width="13.43" height="6.55" fill="#f9ac78"/><rect x="308.57" y="592.5" width="13.43" height="6.55" fill="#870003"/><rect x="282.3" y="598.7" width="13.43" height="6.55" fill="#a80f10"/><rect x="295.43" y="598.7" width="13.43" height="6.55" fill="#fff5eb"/><rect x="308.57" y="598.7" width="13.43" height="6.55" fill="#870003"/><rect x="282.3" y="604.9" width="13.43" height="6.55" fill="#fff5eb"/><rect x="295.43" y="604.9" width="13.43" height="6.55" fill="#f48a61"/><rect x="308.57" y="604.9" width="13.43" height="6.55" fill="#870003"/><rect x="282.3" y="611.1" width="13.43" height="6.55" fill="#fff5eb"/><rect x="295.43" y="611.1" width="13.43" height="6.55" fill="#870003"/><rect x="308.57" y="611.1" width="13.43" height="6.55" fill="#fddab0"/><rect x="282.3" y="617.3" width="13.43" height="6.55" fill="#fff5eb"/><rect x="295.43" y="617.3" width="13.43" height="6.55" fill="#870003"/><rect x="308.57" y="617.3" width="13.43" height="6.55" fill="#fee8ce"/><rect x="282.3" y="623.5" width="13.43" height="6.55" fill="#fff5eb"/><rect x="295.43" y="623.5" width="13.43" height="6.55" fill="#db4333"/><rect x="308.57" y="623.5" width="13.43" height="6.55" fill="#870003"/><rect x="282.3" y="629.7" width="13.43" height="6.55" fill="#fff5eb"/><rect x="295.43" y="629.7" width="13.43" height="6.55" fill="#870003"/><rect x="308.57" y="629.7" width="13.43" height="6.55" fill="#a80f10"/><rect x="282.3" y="635.9" width="13.43" height="6.55" fill="#fff5eb"/><rect x="295.43" y="635.9" width="13.43" height="6.55" fill="#db4333"/><rect x="308.57" y="635.9" width="13.43" height="6.55" fill="#870003"/><rect x="282.3" y="642.1" width="13.43" height="6.55" fill="#fbc394"/><rect x="295.43" y="642.1" width="13.43" height="6.55" fill="#fff5eb"/><rect x="308.57" y="642.1" width="13.43" height="6.55" fill="#870003"/><rect x="282.3" y="648.3" width="13.43" height="6.55" fill="#fff5eb"/><rect x="295.43" y="648.3" width="13.43" height="6.55" fill="#870003"/><rect x="308.57" y="648.3" width="13.43" height="6.55" fill="#fbc394"/><rect x="282.3" y="654.5" width="13.43" height="6.55" fill="#fff5eb"/><rect x="295.43" y="654.5" width="13.43" height="6.55" fill="#f9ac78"/><rect x="308.57" y="654.5" width="13.43" height="6.55" fill="#870003"/><rect x="282.3" y="660.7" width="13.43" height="6.55" fill="#fff5eb"/><rect x="295.43" y="660.7" width="13.43" height="6.55" fill="#870003"/><rect x="308.57" y="660.7" width="13.43" height="6.55" fill="#db4333"/><rect x="282.3" y="666.9" width="13.43" height="6.55" fill="#fff5eb"/><rect x="295.43" y="666.9" width="13.43" height="6.55" fill="#870003"/><rect x="308.57" y="666.9" width="13.43" height="6.55" fill="#870003"/><rect x="282.3" y="673.1" width="13.43" height="6.55" fill="#fff5eb"/><rect x="295.43" y="673.1" width="13.43" height="6.55" fill="#870003"/><rect x="308.57" y="673.1" width="13.43" height="6.55" fill="#870003"/><rect x="282.3" y="679.3" width="13.43" height="6.55" fill="#fff5eb"/><rect x="295.43" y="679.3" width="13.43" height="6.55" fill="#f48a61"/><rect x="308.57" y="679.3" width="13.43" height="6.55" fill="#870003"/><rect x="282.3" y="685.5" width="13.43" height="6.55" fill="#870003"/><rect x="295.43" y="685.5" width="13.43" height="6.55" fill="#fff5eb"/><rect x="308.57" y="685.5" width="13.43" height="6.55" fill="#ee684a"/><rect x="282.3" y="691.7" width="13.43" height="6.55" fill="#fff5eb"/><rect x="295.43" y="691.7" width="13.43" height="6.55" fill="#fbc394"/><rect x="308.57" y="691.7" width="13.43" height="6.55" fill="#870003"/><rect x="282.3" y="697.9" width="13.43" height="6.55" fill="#fff5eb"/><rect x="295.43" y="697.9" width="13.43" height="6.55" fill="#db4333"/><rect x="308.57" y="697.9" width="13.43" height="6.55" fill="#870003"/><rect x="282.3" y="704.1" width="13.43" height="6.55" fill="#fff5eb"/><rect x="295.43" y="704.1" width="13.43" height="6.55" fill="#c81e1c"/><rect x="308.57" y="704.1" width="13.43" height="6.55" fill="#870003"/><rect x="282.3" y="710.3" width="13.43" height="6.55" fill="#fff5eb"/><rect x="295.43" y="710.3" width="13.43" height="6.55" fill="#870003"/><rect x="308.57" y="710.3" width="13.43" height="6.55" fill="#870003"/><rect x="282.3" y="716.5" width="13.43" height="6.55" fill="#fff5eb"/><rect x="295.43" y="716.5" width="13.43" height="6.55" fill="#870003"/><rect x="308.57" y="716.5" width="13.43" height="6.55" fill="#ee684a"/><rect x="282.3" y="722.7" width="13.43" height="6.55" fill="#fee8ce"/><rect x="295.43" y="722.7" width="13.43" height="6.55" fill="#fff5eb"/><rect x="308.57" y="722.7" width="13.43" height="6.55" fill="#870003"/><rect x="282.3" y="728.9" width="13.43" height="6.55" fill="#fff5eb"/><rect x="295.43" y="728.9" width="13.43" height="6.55" fill="#fbc394"/><rect x="308.57" y="728.9" width="13.43" height="6.55" fill="#870003"/><rect x="282.3" y="735.1" width="13.43" height="6.55" fill="#870003"/><rect x="295.43" y="735.1" width="13.43" height="6.55" fill="#fff5eb"/><rect x="308.57" y="735.1" width="13.43" height="6.55" fill="#870003"/><rect x="282.3" y="741.3" width="13.43" height="6.55" fill="#fff5eb"/><rect x="295.43" y="741.3" width="13.43" height="6.55" fill="#870003"/><rect x="308.57" y="741.3" width="13.43" height="6.55" fill="#870003"/><rect x="282.3" y="747.5" width="13.43" height="6.55" fill="#870003"/><rect x="295.43" y="747.5" width="13.43" height="6.55" fill="#fddab0"/><rect x="308.57" y="747.5" width="13.43" height="6.55" fill="#fff5eb"/><rect x="282.3" y="753.7" width="13.43" height="6.55" fill="#fff5eb"/><rect x="295.43" y="753.7" width="13.43" height="6.55" fill="#fbc394"/><rect x="308.57" y="753.7" width="13.43" height="6.55" fill="#870003"/><rect x="282.3" y="586.3" width="39.4" height="173.6" fill="none" stroke="#444" stroke-width="0.6"/><text x="302" y="768.5" font-size="8" text-anchor="middle" fill="#111" stroke="#111" stroke-width="0.15">#1</text><line x1="324.4" y1="550.5" x2="324.4" y2="574" stroke="#aaa" stroke-width="0.35"/><line x1="323.4" y1="551" x2="324.4" y2="551" stroke="#aaa" stroke-width="0.3"/><line x1="323.4" y1="554.1" x2="324.4" y2="554.1" stroke="#aaa" stroke-width="0.3"/><line x1="323.4" y1="557.2" x2="324.4" y2="557.2" stroke="#aaa" stroke-width="0.3"/><line x1="323.4" y1="560.3" x2="324.4" y2="560.3" stroke="#aaa" stroke-width="0.3"/><line x1="323.4" y1="563.4" x2="324.4" y2="563.4" stroke="#aaa" stroke-width="0.3"/><line x1="323.4" y1="566.5" x2="324.4" y2="566.5" stroke="#aaa" stroke-width="0.3"/><line x1="323.4" y1="569.6" x2="324.4" y2="569.6" stroke="#aaa" stroke-width="0.3"/><line x1="323.4" y1="572.7" x2="324.4" y2="572.7" stroke="#aaa" stroke-width="0.3"/><polyline points="331.1,573.2 345.6,564.5 358.8,559.6 371.5,553.6" fill="none" stroke="#f3d3d6" stroke-width="5.6" stroke-linejoin="round" stroke-linecap="butt" opacity="0.9"/><polyline points="331.1,573.2 345.6,564.5 358.8,559.6 371.5,553.6" fill="none" stroke="#8a2630" stroke-width="0.95" stroke-linejoin="round"/><rect x="325.2" y="578" width="13" height="6" fill="#3f7fbf"/><rect x="338.2" y="578" width="39" height="6" fill="url(#gF)"/><rect x="325.2" y="578" width="52" height="6" fill="none" stroke="#555" stroke-width="0.35"/><rect x="325.2" y="586.3" width="13.3" height="6.55" fill="#fff5eb"/><rect x="338.2" y="586.3" width="13.3" height="6.55" fill="#f48a61"/><rect x="351.2" y="586.3" width="13.3" height="6.55" fill="#a80f10"/><rect x="364.2" y="586.3" width="13.3" height="6.55" fill="#870003"/><rect x="325.2" y="592.5" width="13.3" height="6.55" fill="#fff5eb"/><rect x="338.2" y="592.5" width="13.3" height="6.55" fill="#fbc394"/><rect x="351.2" y="592.5" width="13.3" height="6.55" fill="#ee684a"/><rect x="364.2" y="592.5" width="13.3" height="6.55" fill="#870003"/><rect x="325.2" y="598.7" width="13.3" height="6.55" fill="#870003"/><rect x="338.2" y="598.7" width="13.3" height="6.55" fill="#fff5eb"/><rect x="351.2" y="598.7" width="13.3" height="6.55" fill="#fddab0"/><rect x="364.2" y="598.7" width="13.3" height="6.55" fill="#f48a61"/><rect x="325.2" y="604.9" width="13.3" height="6.55" fill="#fff5eb"/><rect x="338.2" y="604.9" width="13.3" height="6.55" fill="#f48a61"/><rect x="351.2" y="604.9" width="13.3" height="6.55" fill="#c81e1c"/><rect x="364.2" y="604.9" width="13.3" height="6.55" fill="#870003"/><rect x="325.2" y="611.1" width="13.3" height="6.55" fill="#fff5eb"/><rect x="338.2" y="611.1" width="13.3" height="6.55" fill="#fbc394"/><rect x="351.2" y="611.1" width="13.3" height="6.55" fill="#a80f10"/><rect x="364.2" y="611.1" width="13.3" height="6.55" fill="#870003"/><rect x="325.2" y="617.3" width="13.3" height="6.55" fill="#fff5eb"/><rect x="338.2" y="617.3" width="13.3" height="6.55" fill="#870003"/><rect x="351.2" y="617.3" width="13.3" height="6.55" fill="#ee684a"/><rect x="364.2" y="617.3" width="13.3" height="6.55" fill="#fddab0"/><rect x="325.2" y="623.5" width="13.3" height="6.55" fill="#fff5eb"/><rect x="338.2" y="623.5" width="13.3" height="6.55" fill="#a80f10"/><rect x="351.2" y="623.5" width="13.3" height="6.55" fill="#870003"/><rect x="364.2" y="623.5" width="13.3" height="6.55" fill="#870003"/><rect x="325.2" y="629.7" width="13.3" height="6.55" fill="#fff5eb"/><rect x="338.2" y="629.7" width="13.3" height="6.55" fill="#a80f10"/><rect x="351.2" y="629.7" width="13.3" height="6.55" fill="#870003"/><rect x="364.2" y="629.7" width="13.3" height="6.55" fill="#870003"/><rect x="325.2" y="635.9" width="13.3" height="6.55" fill="#fff5eb"/><rect x="338.2" y="635.9" width="13.3" height="6.55" fill="#f9ac78"/><rect x="351.2" y="635.9" width="13.3" height="6.55" fill="#c81e1c"/><rect x="364.2" y="635.9" width="13.3" height="6.55" fill="#870003"/><rect x="325.2" y="642.1" width="13.3" height="6.55" fill="#fff5eb"/><rect x="338.2" y="642.1" width="13.3" height="6.55" fill="#fddab0"/><rect x="351.2" y="642.1" width="13.3" height="6.55" fill="#fddab0"/><rect x="364.2" y="642.1" width="13.3" height="6.55" fill="#870003"/><rect x="325.2" y="648.3" width="13.3" height="6.55" fill="#fff5eb"/><rect x="338.2" y="648.3" width="13.3" height="6.55" fill="#fbc394"/><rect x="351.2" y="648.3" width="13.3" height="6.55" fill="#db4333"/><rect x="364.2" y="648.3" width="13.3" height="6.55" fill="#870003"/><rect x="325.2" y="654.5" width="13.3" height="6.55" fill="#fff5eb"/><rect x="338.2" y="654.5" width="13.3" height="6.55" fill="#fbc394"/><rect x="351.2" y="654.5" width="13.3" height="6.55" fill="#c81e1c"/><rect x="364.2" y="654.5" width="13.3" height="6.55" fill="#870003"/><rect x="325.2" y="660.7" width="13.3" height="6.55" fill="#fff5eb"/><rect x="338.2" y="660.7" width="13.3" height="6.55" fill="#db4333"/><rect x="351.2" y="660.7" width="13.3" height="6.55" fill="#870003"/><rect x="364.2" y="660.7" width="13.3" height="6.55" fill="#870003"/><rect x="325.2" y="666.9" width="13.3" height="6.55" fill="#fff5eb"/><rect x="338.2" y="666.9" width="13.3" height="6.55" fill="#db4333"/><rect x="351.2" y="666.9" width="13.3" height="6.55" fill="#c81e1c"/><rect x="364.2" y="666.9" width="13.3" height="6.55" fill="#870003"/><rect x="325.2" y="673.1" width="13.3" height="6.55" fill="#fff5eb"/><rect x="338.2" y="673.1" width="13.3" height="6.55" fill="#db4333"/><rect x="351.2" y="673.1" width="13.3" height="6.55" fill="#db4333"/><rect x="364.2" y="673.1" width="13.3" height="6.55" fill="#870003"/><rect x="325.2" y="679.3" width="13.3" height="6.55" fill="#fff5eb"/><rect x="338.2" y="679.3" width="13.3" height="6.55" fill="#ee684a"/><rect x="351.2" y="679.3" width="13.3" height="6.55" fill="#c81e1c"/><rect x="364.2" y="679.3" width="13.3" height="6.55" fill="#870003"/><rect x="325.2" y="685.5" width="13.3" height="6.55" fill="#870003"/><rect x="338.2" y="685.5" width="13.3" height="6.55" fill="#fff5eb"/><rect x="351.2" y="685.5" width="13.3" height="6.55" fill="#870003"/><rect x="364.2" y="685.5" width="13.3" height="6.55" fill="#db4333"/><rect x="325.2" y="691.7" width="13.3" height="6.55" fill="#fff5eb"/><rect x="338.2" y="691.7" width="13.3" height="6.55" fill="#fbc394"/><rect x="351.2" y="691.7" width="13.3" height="6.55" fill="#f9ac78"/><rect x="364.2" y="691.7" width="13.3" height="6.55" fill="#870003"/><rect x="325.2" y="697.9" width="13.3" height="6.55" fill="#fff5eb"/><rect x="338.2" y="697.9" width="13.3" height="6.55" fill="#f9ac78"/><rect x="351.2" y="697.9" width="13.3" height="6.55" fill="#ee684a"/><rect x="364.2" y="697.9" width="13.3" height="6.55" fill="#870003"/><rect x="325.2" y="704.1" width="13.3" height="6.55" fill="#fff5eb"/><rect x="338.2" y="704.1" width="13.3" height="6.55" fill="#f9ac78"/><rect x="351.2" y="704.1" width="13.3" height="6.55" fill="#c81e1c"/><rect x="364.2" y="704.1" width="13.3" height="6.55" fill="#870003"/><rect x="325.2" y="710.3" width="13.3" height="6.55" fill="#fff5eb"/><rect x="338.2" y="710.3" width="13.3" height="6.55" fill="#fddab0"/><rect x="351.2" y="710.3" width="13.3" height="6.55" fill="#ee684a"/><rect x="364.2" y="710.3" width="13.3" height="6.55" fill="#870003"/><rect x="325.2" y="716.5" width="13.3" height="6.55" fill="#fff5eb"/><rect x="338.2" y="716.5" width="13.3" height="6.55" fill="#fbc394"/><rect x="351.2" y="716.5" width="13.3" height="6.55" fill="#ee684a"/><rect x="364.2" y="716.5" width="13.3" height="6.55" fill="#870003"/><rect x="325.2" y="722.7" width="13.3" height="6.55" fill="#fff5eb"/><rect x="338.2" y="722.7" width="13.3" height="6.55" fill="#f9ac78"/><rect x="351.2" y="722.7" width="13.3" height="6.55" fill="#ee684a"/><rect x="364.2" y="722.7" width="13.3" height="6.55" fill="#870003"/><rect x="325.2" y="728.9" width="13.3" height="6.55" fill="#fff5eb"/><rect x="338.2" y="728.9" width="13.3" height="6.55" fill="#f48a61"/><rect x="351.2" y="728.9" width="13.3" height="6.55" fill="#ee684a"/><rect x="364.2" y="728.9" width="13.3" height="6.55" fill="#870003"/><rect x="325.2" y="735.1" width="13.3" height="6.55" fill="#fff5eb"/><rect x="338.2" y="735.1" width="13.3" height="6.55" fill="#f9ac78"/><rect x="351.2" y="735.1" width="13.3" height="6.55" fill="#870003"/><rect x="364.2" y="735.1" width="13.3" height="6.55" fill="#870003"/><rect x="325.2" y="741.3" width="13.3" height="6.55" fill="#fff5eb"/><rect x="338.2" y="741.3" width="13.3" height="6.55" fill="#870003"/><rect x="351.2" y="741.3" width="13.3" height="6.55" fill="#870003"/><rect x="364.2" y="741.3" width="13.3" height="6.55" fill="#a80f10"/><rect x="325.2" y="747.5" width="13.3" height="6.55" fill="#870003"/><rect x="338.2" y="747.5" width="13.3" height="6.55" fill="#fddab0"/><rect x="351.2" y="747.5" width="13.3" height="6.55" fill="#fddab0"/><rect x="364.2" y="747.5" width="13.3" height="6.55" fill="#fff5eb"/><rect x="325.2" y="753.7" width="13.3" height="6.55" fill="#fff5eb"/><rect x="338.2" y="753.7" width="13.3" height="6.55" fill="#fddab0"/><rect x="351.2" y="753.7" width="13.3" height="6.55" fill="#ee684a"/><rect x="364.2" y="753.7" width="13.3" height="6.55" fill="#870003"/><rect x="325.2" y="586.3" width="52" height="173.6" fill="none" stroke="#444" stroke-width="0.6"/><text x="351.2" y="768.5" font-size="8" text-anchor="middle" fill="#111" stroke="#111" stroke-width="0.15">#2</text><line x1="380.4" y1="550.5" x2="380.4" y2="574" stroke="#aaa" stroke-width="0.35"/><line x1="379.4" y1="551" x2="380.4" y2="551" stroke="#aaa" stroke-width="0.3"/><line x1="379.4" y1="554.1" x2="380.4" y2="554.1" stroke="#aaa" stroke-width="0.3"/><line x1="379.4" y1="557.2" x2="380.4" y2="557.2" stroke="#aaa" stroke-width="0.3"/><line x1="379.4" y1="560.3" x2="380.4" y2="560.3" stroke="#aaa" stroke-width="0.3"/><line x1="379.4" y1="563.4" x2="380.4" y2="563.4" stroke="#aaa" stroke-width="0.3"/><line x1="379.4" y1="566.5" x2="380.4" y2="566.5" stroke="#aaa" stroke-width="0.3"/><line x1="379.4" y1="569.6" x2="380.4" y2="569.6" stroke="#aaa" stroke-width="0.3"/><line x1="379.4" y1="572.7" x2="380.4" y2="572.7" stroke="#aaa" stroke-width="0.3"/><polyline points="388.1,571.8 401,560.2 412.8,561 425.8,557.5 437.9,556.2" fill="none" stroke="#f3d3d6" stroke-width="5.6" stroke-linejoin="round" stroke-linecap="butt" opacity="0.9"/><polyline points="388.1,571.8 401,560.2 412.8,561 425.8,557.5 437.9,556.2" fill="none" stroke="#8a2630" stroke-width="0.95" stroke-linejoin="round"/><rect x="381.2" y="578" width="12.94" height="6" fill="#3f7fbf"/><rect x="394.14" y="578" width="51.76" height="6" fill="url(#gF)"/><rect x="381.2" y="578" width="64.7" height="6" fill="none" stroke="#555" stroke-width="0.35"/><rect x="381.2" y="586.3" width="13.24" height="6.55" fill="#c81e1c"/><rect x="394.14" y="586.3" width="13.24" height="6.55" fill="#fff5eb"/><rect x="407.08" y="586.3" width="13.24" height="6.55" fill="#fff5eb"/><rect x="420.02" y="586.3" width="13.24" height="6.55" fill="#fddab0"/><rect x="432.96" y="586.3" width="13.24" height="6.55" fill="#870003"/><rect x="381.2" y="592.5" width="13.24" height="6.55" fill="#fff5eb"/><rect x="394.14" y="592.5" width="13.24" height="6.55" fill="#fbc394"/><rect x="407.08" y="592.5" width="13.24" height="6.55" fill="#ee684a"/><rect x="420.02" y="592.5" width="13.24" height="6.55" fill="#a80f10"/><rect x="432.96" y="592.5" width="13.24" height="6.55" fill="#870003"/><rect x="381.2" y="598.7" width="13.24" height="6.55" fill="#870003"/><rect x="394.14" y="598.7" width="13.24" height="6.55" fill="#ee684a"/><rect x="407.08" y="598.7" width="13.24" height="6.55" fill="#fff5eb"/><rect x="420.02" y="598.7" width="13.24" height="6.55" fill="#fbc394"/><rect x="432.96" y="598.7" width="13.24" height="6.55" fill="#c81e1c"/><rect x="381.2" y="604.9" width="13.24" height="6.55" fill="#fff5eb"/><rect x="394.14" y="604.9" width="13.24" height="6.55" fill="#fddab0"/><rect x="407.08" y="604.9" width="13.24" height="6.55" fill="#fddab0"/><rect x="420.02" y="604.9" width="13.24" height="6.55" fill="#fff5eb"/><rect x="432.96" y="604.9" width="13.24" height="6.55" fill="#870003"/><rect x="381.2" y="611.1" width="13.24" height="6.55" fill="#fff5eb"/><rect x="394.14" y="611.1" width="13.24" height="6.55" fill="#fddab0"/><rect x="407.08" y="611.1" width="13.24" height="6.55" fill="#db4333"/><rect x="420.02" y="611.1" width="13.24" height="6.55" fill="#a80f10"/><rect x="432.96" y="611.1" width="13.24" height="6.55" fill="#870003"/><rect x="381.2" y="617.3" width="13.24" height="6.55" fill="#fff5eb"/><rect x="394.14" y="617.3" width="13.24" height="6.55" fill="#870003"/><rect x="407.08" y="617.3" width="13.24" height="6.55" fill="#870003"/><rect x="420.02" y="617.3" width="13.24" height="6.55" fill="#a80f10"/><rect x="432.96" y="617.3" width="13.24" height="6.55" fill="#ee684a"/><rect x="381.2" y="623.5" width="13.24" height="6.55" fill="#f48a61"/><rect x="394.14" y="623.5" width="13.24" height="6.55" fill="#fff5eb"/><rect x="407.08" y="623.5" width="13.24" height="6.55" fill="#ee684a"/><rect x="420.02" y="623.5" width="13.24" height="6.55" fill="#ee684a"/><rect x="432.96" y="623.5" width="13.24" height="6.55" fill="#870003"/><rect x="381.2" y="629.7" width="13.24" height="6.55" fill="#fff5eb"/><rect x="394.14" y="629.7" width="13.24" height="6.55" fill="#f48a61"/><rect x="407.08" y="629.7" width="13.24" height="6.55" fill="#db4333"/><rect x="420.02" y="629.7" width="13.24" height="6.55" fill="#870003"/><rect x="432.96" y="629.7" width="13.24" height="6.55" fill="#f9ac78"/><rect x="381.2" y="635.9" width="13.24" height="6.55" fill="#fff5eb"/><rect x="394.14" y="635.9" width="13.24" height="6.55" fill="#db4333"/><rect x="407.08" y="635.9" width="13.24" height="6.55" fill="#fddab0"/><rect x="420.02" y="635.9" width="13.24" height="6.55" fill="#870003"/><rect x="432.96" y="635.9" width="13.24" height="6.55" fill="#a80f10"/><rect x="381.2" y="642.1" width="13.24" height="6.55" fill="#fff5eb"/><rect x="394.14" y="642.1" width="13.24" height="6.55" fill="#fff5eb"/><rect x="407.08" y="642.1" width="13.24" height="6.55" fill="#fddab0"/><rect x="420.02" y="642.1" width="13.24" height="6.55" fill="#fddab0"/><rect x="432.96" y="642.1" width="13.24" height="6.55" fill="#870003"/><rect x="381.2" y="648.3" width="13.24" height="6.55" fill="#fff5eb"/><rect x="394.14" y="648.3" width="13.24" height="6.55" fill="#870003"/><rect x="407.08" y="648.3" width="13.24" height="6.55" fill="#db4333"/><rect x="420.02" y="648.3" width="13.24" height="6.55" fill="#fddab0"/><rect x="432.96" y="648.3" width="13.24" height="6.55" fill="#fee8ce"/><rect x="381.2" y="654.5" width="13.24" height="6.55" fill="#fff5eb"/><rect x="394.14" y="654.5" width="13.24" height="6.55" fill="#fddab0"/><rect x="407.08" y="654.5" width="13.24" height="6.55" fill="#db4333"/><rect x="420.02" y="654.5" width="13.24" height="6.55" fill="#870003"/><rect x="432.96" y="654.5" width="13.24" height="6.55" fill="#a80f10"/><rect x="381.2" y="660.7" width="13.24" height="6.55" fill="#fff5eb"/><rect x="394.14" y="660.7" width="13.24" height="6.55" fill="#870003"/><rect x="407.08" y="660.7" width="13.24" height="6.55" fill="#a80f10"/><rect x="420.02" y="660.7" width="13.24" height="6.55" fill="#a80f10"/><rect x="432.96" y="660.7" width="13.24" height="6.55" fill="#f48a61"/><rect x="381.2" y="666.9" width="13.24" height="6.55" fill="#fff5eb"/><rect x="394.14" y="666.9" width="13.24" height="6.55" fill="#870003"/><rect x="407.08" y="666.9" width="13.24" height="6.55" fill="#f9ac78"/><rect x="420.02" y="666.9" width="13.24" height="6.55" fill="#fbc394"/><rect x="432.96" y="666.9" width="13.24" height="6.55" fill="#fbc394"/><rect x="381.2" y="673.1" width="13.24" height="6.55" fill="#fddab0"/><rect x="394.14" y="673.1" width="13.24" height="6.55" fill="#870003"/><rect x="407.08" y="673.1" width="13.24" height="6.55" fill="#fff5eb"/><rect x="420.02" y="673.1" width="13.24" height="6.55" fill="#ee684a"/><rect x="432.96" y="673.1" width="13.24" height="6.55" fill="#fee8ce"/><rect x="381.2" y="679.3" width="13.24" height="6.55" fill="#fff5eb"/><rect x="394.14" y="679.3" width="13.24" height="6.55" fill="#870003"/><rect x="407.08" y="679.3" width="13.24" height="6.55" fill="#fbc394"/><rect x="420.02" y="679.3" width="13.24" height="6.55" fill="#a80f10"/><rect x="432.96" y="679.3" width="13.24" height="6.55" fill="#f9ac78"/><rect x="381.2" y="685.5" width="13.24" height="6.55" fill="#870003"/><rect x="394.14" y="685.5" width="13.24" height="6.55" fill="#fbc394"/><rect x="407.08" y="685.5" width="13.24" height="6.55" fill="#ee684a"/><rect x="420.02" y="685.5" width="13.24" height="6.55" fill="#fff5eb"/><rect x="432.96" y="685.5" width="13.24" height="6.55" fill="#fbc394"/><rect x="381.2" y="691.7" width="13.24" height="6.55" fill="#fff5eb"/><rect x="394.14" y="691.7" width="13.24" height="6.55" fill="#a80f10"/><rect x="407.08" y="691.7" width="13.24" height="6.55" fill="#c81e1c"/><rect x="420.02" y="691.7" width="13.24" height="6.55" fill="#870003"/><rect x="432.96" y="691.7" width="13.24" height="6.55" fill="#870003"/><rect x="381.2" y="697.9" width="13.24" height="6.55" fill="#fff5eb"/><rect x="394.14" y="697.9" width="13.24" height="6.55" fill="#870003"/><rect x="407.08" y="697.9" width="13.24" height="6.55" fill="#ee684a"/><rect x="420.02" y="697.9" width="13.24" height="6.55" fill="#a80f10"/><rect x="432.96" y="697.9" width="13.24" height="6.55" fill="#c81e1c"/><rect x="381.2" y="704.1" width="13.24" height="6.55" fill="#fff5eb"/><rect x="394.14" y="704.1" width="13.24" height="6.55" fill="#ee684a"/><rect x="407.08" y="704.1" width="13.24" height="6.55" fill="#fddab0"/><rect x="420.02" y="704.1" width="13.24" height="6.55" fill="#870003"/><rect x="432.96" y="704.1" width="13.24" height="6.55" fill="#f9ac78"/><rect x="381.2" y="710.3" width="13.24" height="6.55" fill="#fddab0"/><rect x="394.14" y="710.3" width="13.24" height="6.55" fill="#f48a61"/><rect x="407.08" y="710.3" width="13.24" height="6.55" fill="#fff5eb"/><rect x="420.02" y="710.3" width="13.24" height="6.55" fill="#870003"/><rect x="432.96" y="710.3" width="13.24" height="6.55" fill="#a80f10"/><rect x="381.2" y="716.5" width="13.24" height="6.55" fill="#fff5eb"/><rect x="394.14" y="716.5" width="13.24" height="6.55" fill="#ee684a"/><rect x="407.08" y="716.5" width="13.24" height="6.55" fill="#f9ac78"/><rect x="420.02" y="716.5" width="13.24" height="6.55" fill="#c81e1c"/><rect x="432.96" y="716.5" width="13.24" height="6.55" fill="#870003"/><rect x="381.2" y="722.7" width="13.24" height="6.55" fill="#fff5eb"/><rect x="394.14" y="722.7" width="13.24" height="6.55" fill="#ee684a"/><rect x="407.08" y="722.7" width="13.24" height="6.55" fill="#db4333"/><rect x="420.02" y="722.7" width="13.24" height="6.55" fill="#870003"/><rect x="432.96" y="722.7" width="13.24" height="6.55" fill="#870003"/><rect x="381.2" y="728.9" width="13.24" height="6.55" fill="#fff5eb"/><rect x="394.14" y="728.9" width="13.24" height="6.55" fill="#ee684a"/><rect x="407.08" y="728.9" width="13.24" height="6.55" fill="#db4333"/><rect x="420.02" y="728.9" width="13.24" height="6.55" fill="#870003"/><rect x="432.96" y="728.9" width="13.24" height="6.55" fill="#ee684a"/><rect x="381.2" y="735.1" width="13.24" height="6.55" fill="#fee8ce"/><rect x="394.14" y="735.1" width="13.24" height="6.55" fill="#ee684a"/><rect x="407.08" y="735.1" width="13.24" height="6.55" fill="#870003"/><rect x="420.02" y="735.1" width="13.24" height="6.55" fill="#fff5eb"/><rect x="432.96" y="735.1" width="13.24" height="6.55" fill="#fbc394"/><rect x="381.2" y="741.3" width="13.24" height="6.55" fill="#fff5eb"/><rect x="394.14" y="741.3" width="13.24" height="6.55" fill="#fbc394"/><rect x="407.08" y="741.3" width="13.24" height="6.55" fill="#ee684a"/><rect x="420.02" y="741.3" width="13.24" height="6.55" fill="#870003"/><rect x="432.96" y="741.3" width="13.24" height="6.55" fill="#870003"/><rect x="381.2" y="747.5" width="13.24" height="6.55" fill="#f9ac78"/><rect x="394.14" y="747.5" width="13.24" height="6.55" fill="#fff5eb"/><rect x="407.08" y="747.5" width="13.24" height="6.55" fill="#870003"/><rect x="420.02" y="747.5" width="13.24" height="6.55" fill="#c81e1c"/><rect x="432.96" y="747.5" width="13.24" height="6.55" fill="#fbc394"/><rect x="381.2" y="753.7" width="13.24" height="6.55" fill="#fbc394"/><rect x="394.14" y="753.7" width="13.24" height="6.55" fill="#fff5eb"/><rect x="407.08" y="753.7" width="13.24" height="6.55" fill="#870003"/><rect x="420.02" y="753.7" width="13.24" height="6.55" fill="#fff5eb"/><rect x="432.96" y="753.7" width="13.24" height="6.55" fill="#f48a61"/><rect x="381.2" y="586.3" width="64.7" height="173.6" fill="none" stroke="#444" stroke-width="0.6"/><text x="413.55" y="768.5" font-size="8" text-anchor="middle" fill="#111" stroke="#111" stroke-width="0.15">#3</text><line x1="448.8" y1="550.5" x2="448.8" y2="574" stroke="#aaa" stroke-width="0.35"/><line x1="447.8" y1="551" x2="448.8" y2="551" stroke="#aaa" stroke-width="0.3"/><line x1="447.8" y1="554.1" x2="448.8" y2="554.1" stroke="#aaa" stroke-width="0.3"/><line x1="447.8" y1="557.2" x2="448.8" y2="557.2" stroke="#aaa" stroke-width="0.3"/><line x1="447.8" y1="560.3" x2="448.8" y2="560.3" stroke="#aaa" stroke-width="0.3"/><line x1="447.8" y1="563.4" x2="448.8" y2="563.4" stroke="#aaa" stroke-width="0.3"/><line x1="447.8" y1="566.5" x2="448.8" y2="566.5" stroke="#aaa" stroke-width="0.3"/><line x1="447.8" y1="569.6" x2="448.8" y2="569.6" stroke="#aaa" stroke-width="0.3"/><line x1="447.8" y1="572.7" x2="448.8" y2="572.7" stroke="#aaa" stroke-width="0.3"/><polyline points="456.2,572.3 468.9,556.2 481.8,558.3 494.4,558.3 507.1,561" fill="none" stroke="#f3d3d6" stroke-width="5.6" stroke-linejoin="round" stroke-linecap="butt" opacity="0.9"/><polyline points="456.2,572.3 468.9,556.2 481.8,558.3 494.4,558.3 507.1,561" fill="none" stroke="#8a2630" stroke-width="0.95" stroke-linejoin="round"/><rect x="449.6" y="578" width="12.98" height="6" fill="#3f7fbf"/><rect x="462.58" y="578" width="51.92" height="6" fill="url(#gF)"/><rect x="449.6" y="578" width="64.9" height="6" fill="none" stroke="#555" stroke-width="0.35"/><rect x="449.6" y="586.3" width="13.28" height="6.55" fill="#c81e1c"/><rect x="462.58" y="586.3" width="13.28" height="6.55" fill="#870003"/><rect x="475.56" y="586.3" width="13.28" height="6.55" fill="#c81e1c"/><rect x="488.54" y="586.3" width="13.28" height="6.55" fill="#fbc394"/><rect x="501.52" y="586.3" width="13.28" height="6.55" fill="#fff5eb"/><rect x="449.6" y="592.5" width="13.28" height="6.55" fill="#fff5eb"/><rect x="462.58" y="592.5" width="13.28" height="6.55" fill="#a80f10"/><rect x="475.56" y="592.5" width="13.28" height="6.55" fill="#870003"/><rect x="488.54" y="592.5" width="13.28" height="6.55" fill="#fee8ce"/><rect x="501.52" y="592.5" width="13.28" height="6.55" fill="#fee8ce"/><rect x="449.6" y="598.7" width="13.28" height="6.55" fill="#a80f10"/><rect x="462.58" y="598.7" width="13.28" height="6.55" fill="#fff5eb"/><rect x="475.56" y="598.7" width="13.28" height="6.55" fill="#fff5eb"/><rect x="488.54" y="598.7" width="13.28" height="6.55" fill="#db4333"/><rect x="501.52" y="598.7" width="13.28" height="6.55" fill="#870003"/><rect x="449.6" y="604.9" width="13.28" height="6.55" fill="#fff5eb"/><rect x="462.58" y="604.9" width="13.28" height="6.55" fill="#f48a61"/><rect x="475.56" y="604.9" width="13.28" height="6.55" fill="#f9ac78"/><rect x="488.54" y="604.9" width="13.28" height="6.55" fill="#870003"/><rect x="501.52" y="604.9" width="13.28" height="6.55" fill="#c81e1c"/><rect x="449.6" y="611.1" width="13.28" height="6.55" fill="#fff5eb"/><rect x="462.58" y="611.1" width="13.28" height="6.55" fill="#f48a61"/><rect x="475.56" y="611.1" width="13.28" height="6.55" fill="#fff5eb"/><rect x="488.54" y="611.1" width="13.28" height="6.55" fill="#870003"/><rect x="501.52" y="611.1" width="13.28" height="6.55" fill="#f9ac78"/><rect x="449.6" y="617.3" width="13.28" height="6.55" fill="#fff5eb"/><rect x="462.58" y="617.3" width="13.28" height="6.55" fill="#db4333"/><rect x="475.56" y="617.3" width="13.28" height="6.55" fill="#ee684a"/><rect x="488.54" y="617.3" width="13.28" height="6.55" fill="#870003"/><rect x="501.52" y="617.3" width="13.28" height="6.55" fill="#a80f10"/><rect x="449.6" y="623.5" width="13.28" height="6.55" fill="#fff5eb"/><rect x="462.58" y="623.5" width="13.28" height="6.55" fill="#fbc394"/><rect x="475.56" y="623.5" width="13.28" height="6.55" fill="#fddab0"/><rect x="488.54" y="623.5" width="13.28" height="6.55" fill="#870003"/><rect x="501.52" y="623.5" width="13.28" height="6.55" fill="#c81e1c"/><rect x="449.6" y="629.7" width="13.28" height="6.55" fill="#fff5eb"/><rect x="462.58" y="629.7" width="13.28" height="6.55" fill="#870003"/><rect x="475.56" y="629.7" width="13.28" height="6.55" fill="#870003"/><rect x="488.54" y="629.7" width="13.28" height="6.55" fill="#c81e1c"/><rect x="501.52" y="629.7" width="13.28" height="6.55" fill="#870003"/><rect x="449.6" y="635.9" width="13.28" height="6.55" fill="#fff5eb"/><rect x="462.58" y="635.9" width="13.28" height="6.55" fill="#870003"/><rect x="475.56" y="635.9" width="13.28" height="6.55" fill="#870003"/><rect x="488.54" y="635.9" width="13.28" height="6.55" fill="#f9ac78"/><rect x="501.52" y="635.9" width="13.28" height="6.55" fill="#fbc394"/><rect x="449.6" y="642.1" width="13.28" height="6.55" fill="#fee8ce"/><rect x="462.58" y="642.1" width="13.28" height="6.55" fill="#db4333"/><rect x="475.56" y="642.1" width="13.28" height="6.55" fill="#870003"/><rect x="488.54" y="642.1" width="13.28" height="6.55" fill="#fff5eb"/><rect x="501.52" y="642.1" width="13.28" height="6.55" fill="#fff5eb"/><rect x="449.6" y="648.3" width="13.28" height="6.55" fill="#fff5eb"/><rect x="462.58" y="648.3" width="13.28" height="6.55" fill="#fff5eb"/><rect x="475.56" y="648.3" width="13.28" height="6.55" fill="#fff5eb"/><rect x="488.54" y="648.3" width="13.28" height="6.55" fill="#db4333"/><rect x="501.52" y="648.3" width="13.28" height="6.55" fill="#870003"/><rect x="449.6" y="654.5" width="13.28" height="6.55" fill="#fff5eb"/><rect x="462.58" y="654.5" width="13.28" height="6.55" fill="#a80f10"/><rect x="475.56" y="654.5" width="13.28" height="6.55" fill="#870003"/><rect x="488.54" y="654.5" width="13.28" height="6.55" fill="#f48a61"/><rect x="501.52" y="654.5" width="13.28" height="6.55" fill="#f9ac78"/><rect x="449.6" y="660.7" width="13.28" height="6.55" fill="#fff5eb"/><rect x="462.58" y="660.7" width="13.28" height="6.55" fill="#db4333"/><rect x="475.56" y="660.7" width="13.28" height="6.55" fill="#f9ac78"/><rect x="488.54" y="660.7" width="13.28" height="6.55" fill="#870003"/><rect x="501.52" y="660.7" width="13.28" height="6.55" fill="#c81e1c"/><rect x="449.6" y="666.9" width="13.28" height="6.55" fill="#fff5eb"/><rect x="462.58" y="666.9" width="13.28" height="6.55" fill="#870003"/><rect x="475.56" y="666.9" width="13.28" height="6.55" fill="#870003"/><rect x="488.54" y="666.9" width="13.28" height="6.55" fill="#a80f10"/><rect x="501.52" y="666.9" width="13.28" height="6.55" fill="#c81e1c"/><rect x="449.6" y="673.1" width="13.28" height="6.55" fill="#fff5eb"/><rect x="462.58" y="673.1" width="13.28" height="6.55" fill="#a80f10"/><rect x="475.56" y="673.1" width="13.28" height="6.55" fill="#db4333"/><rect x="488.54" y="673.1" width="13.28" height="6.55" fill="#870003"/><rect x="501.52" y="673.1" width="13.28" height="6.55" fill="#870003"/><rect x="449.6" y="679.3" width="13.28" height="6.55" fill="#fff5eb"/><rect x="462.58" y="679.3" width="13.28" height="6.55" fill="#db4333"/><rect x="475.56" y="679.3" width="13.28" height="6.55" fill="#a80f10"/><rect x="488.54" y="679.3" width="13.28" height="6.55" fill="#870003"/><rect x="501.52" y="679.3" width="13.28" height="6.55" fill="#870003"/><rect x="449.6" y="685.5" width="13.28" height="6.55" fill="#fddab0"/><rect x="462.58" y="685.5" width="13.28" height="6.55" fill="#fff5eb"/><rect x="475.56" y="685.5" width="13.28" height="6.55" fill="#fff5eb"/><rect x="488.54" y="685.5" width="13.28" height="6.55" fill="#870003"/><rect x="501.52" y="685.5" width="13.28" height="6.55" fill="#ee684a"/><rect x="449.6" y="691.7" width="13.28" height="6.55" fill="#fff5eb"/><rect x="462.58" y="691.7" width="13.28" height="6.55" fill="#870003"/><rect x="475.56" y="691.7" width="13.28" height="6.55" fill="#c81e1c"/><rect x="488.54" y="691.7" width="13.28" height="6.55" fill="#ee684a"/><rect x="501.52" y="691.7" width="13.28" height="6.55" fill="#ee684a"/><rect x="449.6" y="697.9" width="13.28" height="6.55" fill="#fff5eb"/><rect x="462.58" y="697.9" width="13.28" height="6.55" fill="#a80f10"/><rect x="475.56" y="697.9" width="13.28" height="6.55" fill="#a80f10"/><rect x="488.54" y="697.9" width="13.28" height="6.55" fill="#870003"/><rect x="501.52" y="697.9" width="13.28" height="6.55" fill="#870003"/><rect x="449.6" y="704.1" width="13.28" height="6.55" fill="#fff5eb"/><rect x="462.58" y="704.1" width="13.28" height="6.55" fill="#870003"/><rect x="475.56" y="704.1" width="13.28" height="6.55" fill="#a80f10"/><rect x="488.54" y="704.1" width="13.28" height="6.55" fill="#fbc394"/><rect x="501.52" y="704.1" width="13.28" height="6.55" fill="#fff5eb"/><rect x="449.6" y="710.3" width="13.28" height="6.55" fill="#fee8ce"/><rect x="462.58" y="710.3" width="13.28" height="6.55" fill="#870003"/><rect x="475.56" y="710.3" width="13.28" height="6.55" fill="#870003"/><rect x="488.54" y="710.3" width="13.28" height="6.55" fill="#fbc394"/><rect x="501.52" y="710.3" width="13.28" height="6.55" fill="#fff5eb"/><rect x="449.6" y="716.5" width="13.28" height="6.55" fill="#fff5eb"/><rect x="462.58" y="716.5" width="13.28" height="6.55" fill="#db4333"/><rect x="475.56" y="716.5" width="13.28" height="6.55" fill="#870003"/><rect x="488.54" y="716.5" width="13.28" height="6.55" fill="#fff5eb"/><rect x="501.52" y="716.5" width="13.28" height="6.55" fill="#fff5eb"/><rect x="449.6" y="722.7" width="13.28" height="6.55" fill="#fff5eb"/><rect x="462.58" y="722.7" width="13.28" height="6.55" fill="#870003"/><rect x="475.56" y="722.7" width="13.28" height="6.55" fill="#c81e1c"/><rect x="488.54" y="722.7" width="13.28" height="6.55" fill="#fbc394"/><rect x="501.52" y="722.7" width="13.28" height="6.55" fill="#fee8ce"/><rect x="449.6" y="728.9" width="13.28" height="6.55" fill="#fff5eb"/><rect x="462.58" y="728.9" width="13.28" height="6.55" fill="#870003"/><rect x="475.56" y="728.9" width="13.28" height="6.55" fill="#870003"/><rect x="488.54" y="728.9" width="13.28" height="6.55" fill="#db4333"/><rect x="501.52" y="728.9" width="13.28" height="6.55" fill="#ee684a"/><rect x="449.6" y="735.1" width="13.28" height="6.55" fill="#ee684a"/><rect x="462.58" y="735.1" width="13.28" height="6.55" fill="#870003"/><rect x="475.56" y="735.1" width="13.28" height="6.55" fill="#fff5eb"/><rect x="488.54" y="735.1" width="13.28" height="6.55" fill="#db4333"/><rect x="501.52" y="735.1" width="13.28" height="6.55" fill="#870003"/><rect x="449.6" y="741.3" width="13.28" height="6.55" fill="#fff5eb"/><rect x="462.58" y="741.3" width="13.28" height="6.55" fill="#fbc394"/><rect x="475.56" y="741.3" width="13.28" height="6.55" fill="#fff5eb"/><rect x="488.54" y="741.3" width="13.28" height="6.55" fill="#870003"/><rect x="501.52" y="741.3" width="13.28" height="6.55" fill="#f48a61"/><rect x="449.6" y="747.5" width="13.28" height="6.55" fill="#870003"/><rect x="462.58" y="747.5" width="13.28" height="6.55" fill="#fddab0"/><rect x="475.56" y="747.5" width="13.28" height="6.55" fill="#fddab0"/><rect x="488.54" y="747.5" width="13.28" height="6.55" fill="#fff5eb"/><rect x="501.52" y="747.5" width="13.28" height="6.55" fill="#fff5eb"/><rect x="449.6" y="753.7" width="13.28" height="6.55" fill="#fddab0"/><rect x="462.58" y="753.7" width="13.28" height="6.55" fill="#a80f10"/><rect x="475.56" y="753.7" width="13.28" height="6.55" fill="#870003"/><rect x="488.54" y="753.7" width="13.28" height="6.55" fill="#fff5eb"/><rect x="501.52" y="753.7" width="13.28" height="6.55" fill="#fff5eb"/><rect x="449.6" y="586.3" width="64.9" height="173.6" fill="none" stroke="#444" stroke-width="0.6"/><text x="482.05" y="768.5" font-size="8" text-anchor="middle" fill="#111" stroke="#111" stroke-width="0.15">#4</text><text x="36.8" y="591" font-size="4.6" text-anchor="end" fill="#1a1a1a" stroke="#1a1a1a" stroke-width="0.08">FYN</text><line x1="37.4" y1="589.4" x2="39.3" y2="589.4" stroke="#333" stroke-width="0.35"/><text x="36.8" y="597.2" font-size="4.6" text-anchor="end" fill="#1a1a1a" stroke="#1a1a1a" stroke-width="0.08">MTOR</text><line x1="37.4" y1="595.6" x2="39.3" y2="595.6" stroke="#333" stroke-width="0.35"/><text x="36.8" y="603.4" font-size="4.6" text-anchor="end" fill="#1a1a1a" stroke="#1a1a1a" stroke-width="0.08">HMGB1</text><line x1="37.4" y1="601.8" x2="39.3" y2="601.8" stroke="#333" stroke-width="0.35"/><text x="36.8" y="609.6" font-size="4.6" text-anchor="end" fill="#1a1a1a" stroke="#1a1a1a" stroke-width="0.08">PARP1</text><line x1="37.4" y1="608" x2="39.3" y2="608" stroke="#333" stroke-width="0.35"/><text x="36.8" y="615.8" font-size="4.6" text-anchor="end" fill="#1a1a1a" stroke="#1a1a1a" stroke-width="0.08">VIM</text><line x1="37.4" y1="614.2" x2="39.3" y2="614.2" stroke="#333" stroke-width="0.35"/><text x="36.8" y="622" font-size="4.6" text-anchor="end" fill="#1a1a1a" stroke="#1a1a1a" stroke-width="0.08">TXNDC5</text><line x1="37.4" y1="620.4" x2="39.3" y2="620.4" stroke="#333" stroke-width="0.35"/><text x="36.8" y="628.2" font-size="4.6" text-anchor="end" fill="#1a1a1a" stroke="#1a1a1a" stroke-width="0.08">TGFBR1</text><line x1="37.4" y1="626.6" x2="39.3" y2="626.6" stroke="#333" stroke-width="0.35"/><text x="36.8" y="634.4" font-size="4.6" text-anchor="end" fill="#1a1a1a" stroke="#1a1a1a" stroke-width="0.08">SP3</text><line x1="37.4" y1="632.8" x2="39.3" y2="632.8" stroke="#333" stroke-width="0.35"/><text x="36.8" y="640.6" font-size="4.6" text-anchor="end" fill="#1a1a1a" stroke="#1a1a1a" stroke-width="0.08">SP1</text><line x1="37.4" y1="639" x2="39.3" y2="639" stroke="#333" stroke-width="0.35"/><text x="36.8" y="646.8" font-size="4.6" text-anchor="end" fill="#1a1a1a" stroke="#1a1a1a" stroke-width="0.08">SMAD3</text><line x1="37.4" y1="645.2" x2="39.3" y2="645.2" stroke="#333" stroke-width="0.35"/><text x="36.8" y="653" font-size="4.6" text-anchor="end" fill="#1a1a1a" stroke="#1a1a1a" stroke-width="0.08">SERPINH1</text><line x1="37.4" y1="651.4" x2="39.3" y2="651.4" stroke="#333" stroke-width="0.35"/><text x="36.8" y="659.2" font-size="4.6" text-anchor="end" fill="#1a1a1a" stroke="#1a1a1a" stroke-width="0.08">PIN1</text><line x1="37.4" y1="657.6" x2="39.3" y2="657.6" stroke="#333" stroke-width="0.35"/><text x="36.8" y="665.4" font-size="4.6" text-anchor="end" fill="#1a1a1a" stroke="#1a1a1a" stroke-width="0.08">PDGFA</text><line x1="37.4" y1="663.8" x2="39.3" y2="663.8" stroke="#333" stroke-width="0.35"/><text x="36.8" y="671.6" font-size="4.6" text-anchor="end" fill="#1a1a1a" stroke="#1a1a1a" stroke-width="0.08">MYD88</text><line x1="37.4" y1="670" x2="39.3" y2="670" stroke="#333" stroke-width="0.35"/><text x="36.8" y="677.8" font-size="4.6" text-anchor="end" fill="#1a1a1a" stroke="#1a1a1a" stroke-width="0.08">LGALS3</text><line x1="37.4" y1="676.2" x2="39.3" y2="676.2" stroke="#333" stroke-width="0.35"/><text x="36.8" y="684" font-size="4.6" text-anchor="end" fill="#1a1a1a" stroke="#1a1a1a" stroke-width="0.08">JUN</text><line x1="37.4" y1="682.4" x2="39.3" y2="682.4" stroke="#333" stroke-width="0.35"/><text x="36.8" y="690.2" font-size="4.6" text-anchor="end" fill="#1a1a1a" stroke="#1a1a1a" stroke-width="0.08">JAK2</text><line x1="37.4" y1="688.6" x2="39.3" y2="688.6" stroke="#333" stroke-width="0.35"/><text x="36.8" y="696.4" font-size="4.6" text-anchor="end" fill="#1a1a1a" stroke="#1a1a1a" stroke-width="0.08">JAK1</text><line x1="37.4" y1="694.8" x2="39.3" y2="694.8" stroke="#333" stroke-width="0.35"/><text x="36.8" y="702.6" font-size="4.6" text-anchor="end" fill="#1a1a1a" stroke="#1a1a1a" stroke-width="0.08">ITGB5</text><line x1="37.4" y1="701" x2="39.3" y2="701" stroke="#333" stroke-width="0.35"/><text x="36.8" y="708.8" font-size="4.6" text-anchor="end" fill="#1a1a1a" stroke="#1a1a1a" stroke-width="0.08">ITGAV</text><line x1="37.4" y1="707.2" x2="39.3" y2="707.2" stroke="#333" stroke-width="0.35"/><text x="36.8" y="715" font-size="4.6" text-anchor="end" fill="#1a1a1a" stroke="#1a1a1a" stroke-width="0.08">ICAM1</text><line x1="37.4" y1="713.4" x2="39.3" y2="713.4" stroke="#333" stroke-width="0.35"/><text x="36.8" y="721.2" font-size="4.6" text-anchor="end" fill="#1a1a1a" stroke="#1a1a1a" stroke-width="0.08">FAS</text><line x1="37.4" y1="719.6" x2="39.3" y2="719.6" stroke="#333" stroke-width="0.35"/><text x="36.8" y="727.4" font-size="4.6" text-anchor="end" fill="#1a1a1a" stroke="#1a1a1a" stroke-width="0.08">EGFR</text><line x1="37.4" y1="725.8" x2="39.3" y2="725.8" stroke="#333" stroke-width="0.35"/><text x="36.8" y="733.6" font-size="4.6" text-anchor="end" fill="#1a1a1a" stroke="#1a1a1a" stroke-width="0.08">BRD4</text><line x1="37.4" y1="732" x2="39.3" y2="732" stroke="#333" stroke-width="0.35"/><text x="36.8" y="739.8" font-size="4.6" text-anchor="end" fill="#1a1a1a" stroke="#1a1a1a" stroke-width="0.08">BAX</text><line x1="37.4" y1="738.2" x2="39.3" y2="738.2" stroke="#333" stroke-width="0.35"/><text x="36.8" y="746" font-size="4.6" text-anchor="end" fill="#1a1a1a" stroke="#1a1a1a" stroke-width="0.08">AHSA1</text><line x1="37.4" y1="744.4" x2="39.3" y2="744.4" stroke="#333" stroke-width="0.35"/><text x="36.8" y="752.2" font-size="4.6" text-anchor="end" fill="#1a1a1a" stroke="#1a1a1a" stroke-width="0.08">ADAM17</text><line x1="37.4" y1="750.6" x2="39.3" y2="750.6" stroke="#333" stroke-width="0.35"/><text x="36.8" y="758.4" font-size="4.6" text-anchor="end" fill="#1a1a1a" stroke="#1a1a1a" stroke-width="0.08">ACVR1B</text><line x1="37.4" y1="756.8" x2="39.3" y2="756.8" stroke="#333" stroke-width="0.35"/><text transform="translate(8.9 651.5) rotate(-90)" font-size="10.5" text-anchor="middle" textLength="70" lengthAdjust="spacingAndGlyphs" fill="#222" stroke="#222" stroke-width="0.25">Pro-Fibrotic FRGs</text><line x1="39.8" y1="771.3" x2="271.2" y2="771.3" stroke="#000" stroke-width="1.05"/><line x1="282" y1="770.8" x2="515" y2="770.8" stroke="#000" stroke-width="1.05"/><text x="162.2" y="781.2" font-size="8.4" text-anchor="middle" textLength="50" lengthAdjust="spacingAndGlyphs" fill="#222" stroke="#222" stroke-width="0.25">Mouse Liver</text><text x="402.9" y="780.4" font-size="8.4" text-anchor="middle" textLength="56.2" lengthAdjust="spacingAndGlyphs" fill="#222" stroke="#222" stroke-width="0.25">Mouse Kidney</text>
</svg></body></html>
